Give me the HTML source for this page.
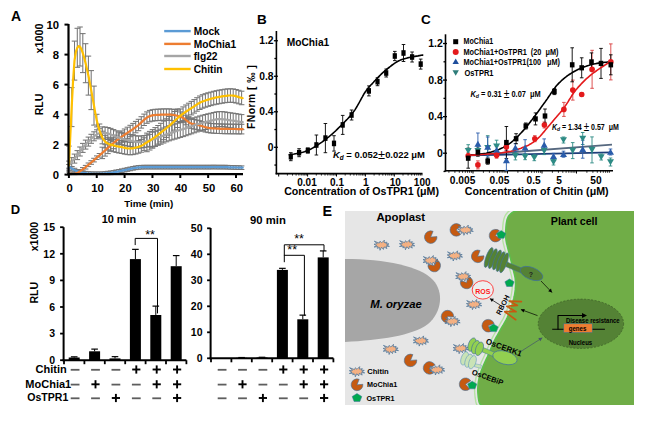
<!DOCTYPE html>
<html><head><meta charset="utf-8"><style>
html,body{margin:0;padding:0;background:#fff;width:668px;height:421px;overflow:hidden}
svg{display:block}
text{font-family:"Liberation Sans",sans-serif}
</style></head><body>
<svg width="668" height="421" viewBox="0 0 668 421" font-family="Liberation Sans, sans-serif">
<rect width="668" height="421" fill="#fff"/>
<text x="11" y="21" font-size="14" font-weight="bold" text-anchor="start" fill="#000" >A</text>
<line x1="68.9" y1="164.5" x2="68.9" y2="168.2" stroke="#767676" stroke-width="1.05" />
<line x1="66.1" y1="164.5" x2="71.7" y2="164.5" stroke="#767676" stroke-width="1.05" />
<line x1="66.1" y1="168.2" x2="71.7" y2="168.2" stroke="#767676" stroke-width="1.05" />
<line x1="71.7" y1="166.6" x2="71.7" y2="170.2" stroke="#767676" stroke-width="1.05" />
<line x1="68.9" y1="166.6" x2="74.5" y2="166.6" stroke="#767676" stroke-width="1.05" />
<line x1="68.9" y1="170.2" x2="74.5" y2="170.2" stroke="#767676" stroke-width="1.05" />
<line x1="74.5" y1="168.3" x2="74.5" y2="171.9" stroke="#767676" stroke-width="1.05" />
<line x1="71.7" y1="168.3" x2="77.3" y2="168.3" stroke="#767676" stroke-width="1.05" />
<line x1="71.7" y1="171.9" x2="77.3" y2="171.9" stroke="#767676" stroke-width="1.05" />
<line x1="77.3" y1="169.5" x2="77.3" y2="173.1" stroke="#767676" stroke-width="1.05" />
<line x1="74.5" y1="169.5" x2="80.1" y2="169.5" stroke="#767676" stroke-width="1.05" />
<line x1="74.5" y1="173.1" x2="80.1" y2="173.1" stroke="#767676" stroke-width="1.05" />
<line x1="80.0" y1="170.4" x2="80.0" y2="174.0" stroke="#767676" stroke-width="1.05" />
<line x1="77.2" y1="170.4" x2="82.8" y2="170.4" stroke="#767676" stroke-width="1.05" />
<line x1="77.2" y1="174.0" x2="82.8" y2="174.0" stroke="#767676" stroke-width="1.05" />
<line x1="82.8" y1="171.0" x2="82.8" y2="174.6" stroke="#767676" stroke-width="1.05" />
<line x1="80.0" y1="171.0" x2="85.6" y2="171.0" stroke="#767676" stroke-width="1.05" />
<line x1="80.0" y1="174.6" x2="85.6" y2="174.6" stroke="#767676" stroke-width="1.05" />
<line x1="85.6" y1="171.4" x2="85.6" y2="174.6" stroke="#767676" stroke-width="1.05" />
<line x1="82.8" y1="171.4" x2="88.4" y2="171.4" stroke="#767676" stroke-width="1.05" />
<line x1="82.8" y1="174.6" x2="88.4" y2="174.6" stroke="#767676" stroke-width="1.05" />
<line x1="88.4" y1="171.7" x2="88.4" y2="174.6" stroke="#767676" stroke-width="1.05" />
<line x1="85.6" y1="171.7" x2="91.2" y2="171.7" stroke="#767676" stroke-width="1.05" />
<line x1="85.6" y1="174.6" x2="91.2" y2="174.6" stroke="#767676" stroke-width="1.05" />
<line x1="91.2" y1="171.9" x2="91.2" y2="174.6" stroke="#767676" stroke-width="1.05" />
<line x1="88.4" y1="171.9" x2="94.0" y2="171.9" stroke="#767676" stroke-width="1.05" />
<line x1="88.4" y1="174.6" x2="94.0" y2="174.6" stroke="#767676" stroke-width="1.05" />
<line x1="94.0" y1="172.0" x2="94.0" y2="174.6" stroke="#767676" stroke-width="1.05" />
<line x1="91.2" y1="172.0" x2="96.8" y2="172.0" stroke="#767676" stroke-width="1.05" />
<line x1="91.2" y1="174.6" x2="96.8" y2="174.6" stroke="#767676" stroke-width="1.05" />
<line x1="96.8" y1="172.0" x2="96.8" y2="174.6" stroke="#767676" stroke-width="1.05" />
<line x1="94.0" y1="172.0" x2="99.5" y2="172.0" stroke="#767676" stroke-width="1.05" />
<line x1="94.0" y1="174.6" x2="99.5" y2="174.6" stroke="#767676" stroke-width="1.05" />
<line x1="99.5" y1="172.0" x2="99.5" y2="174.6" stroke="#767676" stroke-width="1.05" />
<line x1="96.7" y1="172.0" x2="102.3" y2="172.0" stroke="#767676" stroke-width="1.05" />
<line x1="96.7" y1="174.6" x2="102.3" y2="174.6" stroke="#767676" stroke-width="1.05" />
<line x1="102.3" y1="171.9" x2="102.3" y2="174.6" stroke="#767676" stroke-width="1.05" />
<line x1="99.5" y1="171.9" x2="105.1" y2="171.9" stroke="#767676" stroke-width="1.05" />
<line x1="99.5" y1="174.6" x2="105.1" y2="174.6" stroke="#767676" stroke-width="1.05" />
<line x1="105.1" y1="171.6" x2="105.1" y2="174.6" stroke="#767676" stroke-width="1.05" />
<line x1="102.3" y1="171.6" x2="107.9" y2="171.6" stroke="#767676" stroke-width="1.05" />
<line x1="102.3" y1="174.6" x2="107.9" y2="174.6" stroke="#767676" stroke-width="1.05" />
<line x1="107.9" y1="171.3" x2="107.9" y2="174.6" stroke="#767676" stroke-width="1.05" />
<line x1="105.1" y1="171.3" x2="110.7" y2="171.3" stroke="#767676" stroke-width="1.05" />
<line x1="105.1" y1="174.6" x2="110.7" y2="174.6" stroke="#767676" stroke-width="1.05" />
<line x1="110.7" y1="171.0" x2="110.7" y2="174.6" stroke="#767676" stroke-width="1.05" />
<line x1="107.9" y1="171.0" x2="113.5" y2="171.0" stroke="#767676" stroke-width="1.05" />
<line x1="107.9" y1="174.6" x2="113.5" y2="174.6" stroke="#767676" stroke-width="1.05" />
<line x1="113.5" y1="170.6" x2="113.5" y2="174.2" stroke="#767676" stroke-width="1.05" />
<line x1="110.7" y1="170.6" x2="116.3" y2="170.6" stroke="#767676" stroke-width="1.05" />
<line x1="110.7" y1="174.2" x2="116.3" y2="174.2" stroke="#767676" stroke-width="1.05" />
<line x1="116.2" y1="170.0" x2="116.2" y2="173.6" stroke="#767676" stroke-width="1.05" />
<line x1="113.4" y1="170.0" x2="119.0" y2="170.0" stroke="#767676" stroke-width="1.05" />
<line x1="113.4" y1="173.6" x2="119.0" y2="173.6" stroke="#767676" stroke-width="1.05" />
<line x1="119.0" y1="169.5" x2="119.0" y2="173.1" stroke="#767676" stroke-width="1.05" />
<line x1="116.2" y1="169.5" x2="121.8" y2="169.5" stroke="#767676" stroke-width="1.05" />
<line x1="116.2" y1="173.1" x2="121.8" y2="173.1" stroke="#767676" stroke-width="1.05" />
<line x1="121.8" y1="168.9" x2="121.8" y2="172.5" stroke="#767676" stroke-width="1.05" />
<line x1="119.0" y1="168.9" x2="124.6" y2="168.9" stroke="#767676" stroke-width="1.05" />
<line x1="119.0" y1="172.5" x2="124.6" y2="172.5" stroke="#767676" stroke-width="1.05" />
<line x1="124.6" y1="168.3" x2="124.6" y2="171.9" stroke="#767676" stroke-width="1.05" />
<line x1="121.8" y1="168.3" x2="127.4" y2="168.3" stroke="#767676" stroke-width="1.05" />
<line x1="121.8" y1="171.9" x2="127.4" y2="171.9" stroke="#767676" stroke-width="1.05" />
<line x1="127.4" y1="167.7" x2="127.4" y2="171.3" stroke="#767676" stroke-width="1.05" />
<line x1="124.6" y1="167.7" x2="130.2" y2="167.7" stroke="#767676" stroke-width="1.05" />
<line x1="124.6" y1="171.3" x2="130.2" y2="171.3" stroke="#767676" stroke-width="1.05" />
<line x1="130.2" y1="167.1" x2="130.2" y2="170.7" stroke="#767676" stroke-width="1.05" />
<line x1="127.4" y1="167.1" x2="133.0" y2="167.1" stroke="#767676" stroke-width="1.05" />
<line x1="127.4" y1="170.7" x2="133.0" y2="170.7" stroke="#767676" stroke-width="1.05" />
<line x1="133.0" y1="166.5" x2="133.0" y2="170.1" stroke="#767676" stroke-width="1.05" />
<line x1="130.2" y1="166.5" x2="135.8" y2="166.5" stroke="#767676" stroke-width="1.05" />
<line x1="130.2" y1="170.1" x2="135.8" y2="170.1" stroke="#767676" stroke-width="1.05" />
<line x1="135.7" y1="166.0" x2="135.7" y2="169.6" stroke="#767676" stroke-width="1.05" />
<line x1="132.9" y1="166.0" x2="138.5" y2="166.0" stroke="#767676" stroke-width="1.05" />
<line x1="132.9" y1="169.6" x2="138.5" y2="169.6" stroke="#767676" stroke-width="1.05" />
<line x1="138.5" y1="165.6" x2="138.5" y2="169.2" stroke="#767676" stroke-width="1.05" />
<line x1="135.7" y1="165.6" x2="141.3" y2="165.6" stroke="#767676" stroke-width="1.05" />
<line x1="135.7" y1="169.2" x2="141.3" y2="169.2" stroke="#767676" stroke-width="1.05" />
<line x1="141.3" y1="165.4" x2="141.3" y2="169.0" stroke="#767676" stroke-width="1.05" />
<line x1="138.5" y1="165.4" x2="144.1" y2="165.4" stroke="#767676" stroke-width="1.05" />
<line x1="138.5" y1="169.0" x2="144.1" y2="169.0" stroke="#767676" stroke-width="1.05" />
<line x1="144.1" y1="165.3" x2="144.1" y2="168.9" stroke="#767676" stroke-width="1.05" />
<line x1="141.3" y1="165.3" x2="146.9" y2="165.3" stroke="#767676" stroke-width="1.05" />
<line x1="141.3" y1="168.9" x2="146.9" y2="168.9" stroke="#767676" stroke-width="1.05" />
<line x1="146.9" y1="165.3" x2="146.9" y2="168.9" stroke="#767676" stroke-width="1.05" />
<line x1="144.1" y1="165.3" x2="149.7" y2="165.3" stroke="#767676" stroke-width="1.05" />
<line x1="144.1" y1="168.9" x2="149.7" y2="168.9" stroke="#767676" stroke-width="1.05" />
<line x1="149.7" y1="165.3" x2="149.7" y2="168.9" stroke="#767676" stroke-width="1.05" />
<line x1="146.9" y1="165.3" x2="152.5" y2="165.3" stroke="#767676" stroke-width="1.05" />
<line x1="146.9" y1="168.9" x2="152.5" y2="168.9" stroke="#767676" stroke-width="1.05" />
<line x1="152.5" y1="165.3" x2="152.5" y2="168.9" stroke="#767676" stroke-width="1.05" />
<line x1="149.7" y1="165.3" x2="155.3" y2="165.3" stroke="#767676" stroke-width="1.05" />
<line x1="149.7" y1="168.9" x2="155.3" y2="168.9" stroke="#767676" stroke-width="1.05" />
<line x1="155.2" y1="165.3" x2="155.2" y2="168.9" stroke="#767676" stroke-width="1.05" />
<line x1="152.4" y1="165.3" x2="158.0" y2="165.3" stroke="#767676" stroke-width="1.05" />
<line x1="152.4" y1="168.9" x2="158.0" y2="168.9" stroke="#767676" stroke-width="1.05" />
<line x1="158.0" y1="165.3" x2="158.0" y2="168.9" stroke="#767676" stroke-width="1.05" />
<line x1="155.2" y1="165.3" x2="160.8" y2="165.3" stroke="#767676" stroke-width="1.05" />
<line x1="155.2" y1="168.9" x2="160.8" y2="168.9" stroke="#767676" stroke-width="1.05" />
<line x1="160.8" y1="165.3" x2="160.8" y2="168.9" stroke="#767676" stroke-width="1.05" />
<line x1="158.0" y1="165.3" x2="163.6" y2="165.3" stroke="#767676" stroke-width="1.05" />
<line x1="158.0" y1="168.9" x2="163.6" y2="168.9" stroke="#767676" stroke-width="1.05" />
<line x1="163.6" y1="165.3" x2="163.6" y2="168.9" stroke="#767676" stroke-width="1.05" />
<line x1="160.8" y1="165.3" x2="166.4" y2="165.3" stroke="#767676" stroke-width="1.05" />
<line x1="160.8" y1="168.9" x2="166.4" y2="168.9" stroke="#767676" stroke-width="1.05" />
<line x1="166.4" y1="165.3" x2="166.4" y2="168.9" stroke="#767676" stroke-width="1.05" />
<line x1="163.6" y1="165.3" x2="169.2" y2="165.3" stroke="#767676" stroke-width="1.05" />
<line x1="163.6" y1="168.9" x2="169.2" y2="168.9" stroke="#767676" stroke-width="1.05" />
<line x1="169.2" y1="165.3" x2="169.2" y2="168.9" stroke="#767676" stroke-width="1.05" />
<line x1="166.4" y1="165.3" x2="172.0" y2="165.3" stroke="#767676" stroke-width="1.05" />
<line x1="166.4" y1="168.9" x2="172.0" y2="168.9" stroke="#767676" stroke-width="1.05" />
<line x1="171.9" y1="165.3" x2="171.9" y2="168.9" stroke="#767676" stroke-width="1.05" />
<line x1="169.1" y1="165.3" x2="174.7" y2="165.3" stroke="#767676" stroke-width="1.05" />
<line x1="169.1" y1="168.9" x2="174.7" y2="168.9" stroke="#767676" stroke-width="1.05" />
<line x1="174.7" y1="165.3" x2="174.7" y2="168.9" stroke="#767676" stroke-width="1.05" />
<line x1="171.9" y1="165.3" x2="177.5" y2="165.3" stroke="#767676" stroke-width="1.05" />
<line x1="171.9" y1="168.9" x2="177.5" y2="168.9" stroke="#767676" stroke-width="1.05" />
<line x1="177.5" y1="165.3" x2="177.5" y2="168.9" stroke="#767676" stroke-width="1.05" />
<line x1="174.7" y1="165.3" x2="180.3" y2="165.3" stroke="#767676" stroke-width="1.05" />
<line x1="174.7" y1="168.9" x2="180.3" y2="168.9" stroke="#767676" stroke-width="1.05" />
<line x1="180.3" y1="165.3" x2="180.3" y2="168.9" stroke="#767676" stroke-width="1.05" />
<line x1="177.5" y1="165.3" x2="183.1" y2="165.3" stroke="#767676" stroke-width="1.05" />
<line x1="177.5" y1="168.9" x2="183.1" y2="168.9" stroke="#767676" stroke-width="1.05" />
<line x1="183.1" y1="165.3" x2="183.1" y2="168.9" stroke="#767676" stroke-width="1.05" />
<line x1="180.3" y1="165.3" x2="185.9" y2="165.3" stroke="#767676" stroke-width="1.05" />
<line x1="180.3" y1="168.9" x2="185.9" y2="168.9" stroke="#767676" stroke-width="1.05" />
<line x1="185.9" y1="165.3" x2="185.9" y2="168.9" stroke="#767676" stroke-width="1.05" />
<line x1="183.1" y1="165.3" x2="188.7" y2="165.3" stroke="#767676" stroke-width="1.05" />
<line x1="183.1" y1="168.9" x2="188.7" y2="168.9" stroke="#767676" stroke-width="1.05" />
<line x1="188.7" y1="165.3" x2="188.7" y2="168.9" stroke="#767676" stroke-width="1.05" />
<line x1="185.9" y1="165.3" x2="191.5" y2="165.3" stroke="#767676" stroke-width="1.05" />
<line x1="185.9" y1="168.9" x2="191.5" y2="168.9" stroke="#767676" stroke-width="1.05" />
<line x1="191.4" y1="165.3" x2="191.4" y2="168.9" stroke="#767676" stroke-width="1.05" />
<line x1="188.6" y1="165.3" x2="194.2" y2="165.3" stroke="#767676" stroke-width="1.05" />
<line x1="188.6" y1="168.9" x2="194.2" y2="168.9" stroke="#767676" stroke-width="1.05" />
<line x1="194.2" y1="165.3" x2="194.2" y2="168.9" stroke="#767676" stroke-width="1.05" />
<line x1="191.4" y1="165.3" x2="197.0" y2="165.3" stroke="#767676" stroke-width="1.05" />
<line x1="191.4" y1="168.9" x2="197.0" y2="168.9" stroke="#767676" stroke-width="1.05" />
<line x1="197.0" y1="165.3" x2="197.0" y2="168.9" stroke="#767676" stroke-width="1.05" />
<line x1="194.2" y1="165.3" x2="199.8" y2="165.3" stroke="#767676" stroke-width="1.05" />
<line x1="194.2" y1="168.9" x2="199.8" y2="168.9" stroke="#767676" stroke-width="1.05" />
<line x1="199.8" y1="165.3" x2="199.8" y2="168.9" stroke="#767676" stroke-width="1.05" />
<line x1="197.0" y1="165.3" x2="202.6" y2="165.3" stroke="#767676" stroke-width="1.05" />
<line x1="197.0" y1="168.9" x2="202.6" y2="168.9" stroke="#767676" stroke-width="1.05" />
<line x1="202.6" y1="165.3" x2="202.6" y2="168.9" stroke="#767676" stroke-width="1.05" />
<line x1="199.8" y1="165.3" x2="205.4" y2="165.3" stroke="#767676" stroke-width="1.05" />
<line x1="199.8" y1="168.9" x2="205.4" y2="168.9" stroke="#767676" stroke-width="1.05" />
<line x1="205.4" y1="165.3" x2="205.4" y2="168.9" stroke="#767676" stroke-width="1.05" />
<line x1="202.6" y1="165.3" x2="208.2" y2="165.3" stroke="#767676" stroke-width="1.05" />
<line x1="202.6" y1="168.9" x2="208.2" y2="168.9" stroke="#767676" stroke-width="1.05" />
<line x1="208.2" y1="165.3" x2="208.2" y2="168.9" stroke="#767676" stroke-width="1.05" />
<line x1="205.3" y1="165.3" x2="211.0" y2="165.3" stroke="#767676" stroke-width="1.05" />
<line x1="205.3" y1="168.9" x2="211.0" y2="168.9" stroke="#767676" stroke-width="1.05" />
<line x1="210.9" y1="165.3" x2="210.9" y2="168.9" stroke="#767676" stroke-width="1.05" />
<line x1="208.1" y1="165.3" x2="213.7" y2="165.3" stroke="#767676" stroke-width="1.05" />
<line x1="208.1" y1="168.9" x2="213.7" y2="168.9" stroke="#767676" stroke-width="1.05" />
<line x1="213.7" y1="165.2" x2="213.7" y2="168.8" stroke="#767676" stroke-width="1.05" />
<line x1="210.9" y1="165.2" x2="216.5" y2="165.2" stroke="#767676" stroke-width="1.05" />
<line x1="210.9" y1="168.8" x2="216.5" y2="168.8" stroke="#767676" stroke-width="1.05" />
<line x1="216.5" y1="165.3" x2="216.5" y2="168.9" stroke="#767676" stroke-width="1.05" />
<line x1="213.7" y1="165.3" x2="219.3" y2="165.3" stroke="#767676" stroke-width="1.05" />
<line x1="213.7" y1="168.9" x2="219.3" y2="168.9" stroke="#767676" stroke-width="1.05" />
<line x1="219.3" y1="165.3" x2="219.3" y2="168.9" stroke="#767676" stroke-width="1.05" />
<line x1="216.5" y1="165.3" x2="222.1" y2="165.3" stroke="#767676" stroke-width="1.05" />
<line x1="216.5" y1="168.9" x2="222.1" y2="168.9" stroke="#767676" stroke-width="1.05" />
<line x1="222.1" y1="165.3" x2="222.1" y2="168.9" stroke="#767676" stroke-width="1.05" />
<line x1="219.3" y1="165.3" x2="224.9" y2="165.3" stroke="#767676" stroke-width="1.05" />
<line x1="219.3" y1="168.9" x2="224.9" y2="168.9" stroke="#767676" stroke-width="1.05" />
<line x1="224.9" y1="165.3" x2="224.9" y2="168.9" stroke="#767676" stroke-width="1.05" />
<line x1="222.1" y1="165.3" x2="227.7" y2="165.3" stroke="#767676" stroke-width="1.05" />
<line x1="222.1" y1="168.9" x2="227.7" y2="168.9" stroke="#767676" stroke-width="1.05" />
<line x1="227.6" y1="165.4" x2="227.6" y2="169.0" stroke="#767676" stroke-width="1.05" />
<line x1="224.8" y1="165.4" x2="230.4" y2="165.4" stroke="#767676" stroke-width="1.05" />
<line x1="224.8" y1="169.0" x2="230.4" y2="169.0" stroke="#767676" stroke-width="1.05" />
<line x1="230.4" y1="165.5" x2="230.4" y2="169.1" stroke="#767676" stroke-width="1.05" />
<line x1="227.6" y1="165.5" x2="233.2" y2="165.5" stroke="#767676" stroke-width="1.05" />
<line x1="227.6" y1="169.1" x2="233.2" y2="169.1" stroke="#767676" stroke-width="1.05" />
<line x1="233.2" y1="165.6" x2="233.2" y2="169.2" stroke="#767676" stroke-width="1.05" />
<line x1="230.4" y1="165.6" x2="236.0" y2="165.6" stroke="#767676" stroke-width="1.05" />
<line x1="230.4" y1="169.2" x2="236.0" y2="169.2" stroke="#767676" stroke-width="1.05" />
<line x1="236.0" y1="165.7" x2="236.0" y2="169.3" stroke="#767676" stroke-width="1.05" />
<line x1="233.2" y1="165.7" x2="238.8" y2="165.7" stroke="#767676" stroke-width="1.05" />
<line x1="233.2" y1="169.3" x2="238.8" y2="169.3" stroke="#767676" stroke-width="1.05" />
<line x1="238.8" y1="165.8" x2="238.8" y2="169.4" stroke="#767676" stroke-width="1.05" />
<line x1="236.0" y1="165.8" x2="241.6" y2="165.8" stroke="#767676" stroke-width="1.05" />
<line x1="236.0" y1="169.4" x2="241.6" y2="169.4" stroke="#767676" stroke-width="1.05" />
<line x1="241.6" y1="165.9" x2="241.6" y2="169.5" stroke="#767676" stroke-width="1.05" />
<line x1="238.8" y1="165.9" x2="244.4" y2="165.9" stroke="#767676" stroke-width="1.05" />
<line x1="238.8" y1="169.5" x2="244.4" y2="169.5" stroke="#767676" stroke-width="1.05" />
<line x1="68.9" y1="172.0" x2="68.9" y2="174.6" stroke="#767676" stroke-width="1.05" />
<line x1="66.1" y1="172.0" x2="71.7" y2="172.0" stroke="#767676" stroke-width="1.05" />
<line x1="66.1" y1="174.6" x2="71.7" y2="174.6" stroke="#767676" stroke-width="1.05" />
<line x1="71.7" y1="172.1" x2="71.7" y2="174.6" stroke="#767676" stroke-width="1.05" />
<line x1="68.9" y1="172.1" x2="74.5" y2="172.1" stroke="#767676" stroke-width="1.05" />
<line x1="68.9" y1="174.6" x2="74.5" y2="174.6" stroke="#767676" stroke-width="1.05" />
<line x1="74.5" y1="172.1" x2="74.5" y2="174.6" stroke="#767676" stroke-width="1.05" />
<line x1="71.7" y1="172.1" x2="77.3" y2="172.1" stroke="#767676" stroke-width="1.05" />
<line x1="71.7" y1="174.6" x2="77.3" y2="174.6" stroke="#767676" stroke-width="1.05" />
<line x1="77.3" y1="171.3" x2="77.3" y2="174.6" stroke="#767676" stroke-width="1.05" />
<line x1="74.5" y1="171.3" x2="80.1" y2="171.3" stroke="#767676" stroke-width="1.05" />
<line x1="74.5" y1="174.6" x2="80.1" y2="174.6" stroke="#767676" stroke-width="1.05" />
<line x1="80.0" y1="169.6" x2="80.0" y2="173.2" stroke="#767676" stroke-width="1.05" />
<line x1="77.2" y1="169.6" x2="82.8" y2="169.6" stroke="#767676" stroke-width="1.05" />
<line x1="77.2" y1="173.2" x2="82.8" y2="173.2" stroke="#767676" stroke-width="1.05" />
<line x1="82.8" y1="167.6" x2="82.8" y2="171.2" stroke="#767676" stroke-width="1.05" />
<line x1="80.0" y1="167.6" x2="85.6" y2="167.6" stroke="#767676" stroke-width="1.05" />
<line x1="80.0" y1="171.2" x2="85.6" y2="171.2" stroke="#767676" stroke-width="1.05" />
<line x1="85.6" y1="165.4" x2="85.6" y2="169.0" stroke="#767676" stroke-width="1.05" />
<line x1="82.8" y1="165.4" x2="88.4" y2="165.4" stroke="#767676" stroke-width="1.05" />
<line x1="82.8" y1="169.0" x2="88.4" y2="169.0" stroke="#767676" stroke-width="1.05" />
<line x1="88.4" y1="163.0" x2="88.4" y2="166.6" stroke="#767676" stroke-width="1.05" />
<line x1="85.6" y1="163.0" x2="91.2" y2="163.0" stroke="#767676" stroke-width="1.05" />
<line x1="85.6" y1="166.6" x2="91.2" y2="166.6" stroke="#767676" stroke-width="1.05" />
<line x1="91.2" y1="160.7" x2="91.2" y2="164.3" stroke="#767676" stroke-width="1.05" />
<line x1="88.4" y1="160.7" x2="94.0" y2="160.7" stroke="#767676" stroke-width="1.05" />
<line x1="88.4" y1="164.3" x2="94.0" y2="164.3" stroke="#767676" stroke-width="1.05" />
<line x1="94.0" y1="158.3" x2="94.0" y2="161.9" stroke="#767676" stroke-width="1.05" />
<line x1="91.2" y1="158.3" x2="96.8" y2="158.3" stroke="#767676" stroke-width="1.05" />
<line x1="91.2" y1="161.9" x2="96.8" y2="161.9" stroke="#767676" stroke-width="1.05" />
<line x1="96.8" y1="155.9" x2="96.8" y2="159.5" stroke="#767676" stroke-width="1.05" />
<line x1="94.0" y1="155.9" x2="99.5" y2="155.9" stroke="#767676" stroke-width="1.05" />
<line x1="94.0" y1="159.5" x2="99.5" y2="159.5" stroke="#767676" stroke-width="1.05" />
<line x1="99.5" y1="153.5" x2="99.5" y2="157.1" stroke="#767676" stroke-width="1.05" />
<line x1="96.7" y1="153.5" x2="102.3" y2="153.5" stroke="#767676" stroke-width="1.05" />
<line x1="96.7" y1="157.1" x2="102.3" y2="157.1" stroke="#767676" stroke-width="1.05" />
<line x1="102.3" y1="147.2" x2="102.3" y2="158.6" stroke="#767676" stroke-width="1.05" />
<line x1="99.5" y1="147.2" x2="105.1" y2="147.2" stroke="#767676" stroke-width="1.05" />
<line x1="99.5" y1="158.6" x2="105.1" y2="158.6" stroke="#767676" stroke-width="1.05" />
<line x1="105.1" y1="144.7" x2="105.1" y2="156.1" stroke="#767676" stroke-width="1.05" />
<line x1="102.3" y1="144.7" x2="107.9" y2="144.7" stroke="#767676" stroke-width="1.05" />
<line x1="102.3" y1="156.1" x2="107.9" y2="156.1" stroke="#767676" stroke-width="1.05" />
<line x1="107.9" y1="142.2" x2="107.9" y2="153.6" stroke="#767676" stroke-width="1.05" />
<line x1="105.1" y1="142.2" x2="110.7" y2="142.2" stroke="#767676" stroke-width="1.05" />
<line x1="105.1" y1="153.6" x2="110.7" y2="153.6" stroke="#767676" stroke-width="1.05" />
<line x1="110.7" y1="139.7" x2="110.7" y2="151.1" stroke="#767676" stroke-width="1.05" />
<line x1="107.9" y1="139.7" x2="113.5" y2="139.7" stroke="#767676" stroke-width="1.05" />
<line x1="107.9" y1="151.1" x2="113.5" y2="151.1" stroke="#767676" stroke-width="1.05" />
<line x1="113.5" y1="137.3" x2="113.5" y2="148.7" stroke="#767676" stroke-width="1.05" />
<line x1="110.7" y1="137.3" x2="116.3" y2="137.3" stroke="#767676" stroke-width="1.05" />
<line x1="110.7" y1="148.7" x2="116.3" y2="148.7" stroke="#767676" stroke-width="1.05" />
<line x1="116.2" y1="135.1" x2="116.2" y2="146.5" stroke="#767676" stroke-width="1.05" />
<line x1="113.4" y1="135.1" x2="119.0" y2="135.1" stroke="#767676" stroke-width="1.05" />
<line x1="113.4" y1="146.5" x2="119.0" y2="146.5" stroke="#767676" stroke-width="1.05" />
<line x1="119.0" y1="132.9" x2="119.0" y2="144.3" stroke="#767676" stroke-width="1.05" />
<line x1="116.2" y1="132.9" x2="121.8" y2="132.9" stroke="#767676" stroke-width="1.05" />
<line x1="116.2" y1="144.3" x2="121.8" y2="144.3" stroke="#767676" stroke-width="1.05" />
<line x1="121.8" y1="130.9" x2="121.8" y2="142.3" stroke="#767676" stroke-width="1.05" />
<line x1="119.0" y1="130.9" x2="124.6" y2="130.9" stroke="#767676" stroke-width="1.05" />
<line x1="119.0" y1="142.3" x2="124.6" y2="142.3" stroke="#767676" stroke-width="1.05" />
<line x1="124.6" y1="129.0" x2="124.6" y2="140.4" stroke="#767676" stroke-width="1.05" />
<line x1="121.8" y1="129.0" x2="127.4" y2="129.0" stroke="#767676" stroke-width="1.05" />
<line x1="121.8" y1="140.4" x2="127.4" y2="140.4" stroke="#767676" stroke-width="1.05" />
<line x1="127.4" y1="127.2" x2="127.4" y2="138.6" stroke="#767676" stroke-width="1.05" />
<line x1="124.6" y1="127.2" x2="130.2" y2="127.2" stroke="#767676" stroke-width="1.05" />
<line x1="124.6" y1="138.6" x2="130.2" y2="138.6" stroke="#767676" stroke-width="1.05" />
<line x1="130.2" y1="125.3" x2="130.2" y2="136.7" stroke="#767676" stroke-width="1.05" />
<line x1="127.4" y1="125.3" x2="133.0" y2="125.3" stroke="#767676" stroke-width="1.05" />
<line x1="127.4" y1="136.7" x2="133.0" y2="136.7" stroke="#767676" stroke-width="1.05" />
<line x1="133.0" y1="123.4" x2="133.0" y2="134.8" stroke="#767676" stroke-width="1.05" />
<line x1="130.2" y1="123.4" x2="135.8" y2="123.4" stroke="#767676" stroke-width="1.05" />
<line x1="130.2" y1="134.8" x2="135.8" y2="134.8" stroke="#767676" stroke-width="1.05" />
<line x1="135.7" y1="121.4" x2="135.7" y2="132.8" stroke="#767676" stroke-width="1.05" />
<line x1="132.9" y1="121.4" x2="138.5" y2="121.4" stroke="#767676" stroke-width="1.05" />
<line x1="132.9" y1="132.8" x2="138.5" y2="132.8" stroke="#767676" stroke-width="1.05" />
<line x1="138.5" y1="119.3" x2="138.5" y2="130.7" stroke="#767676" stroke-width="1.05" />
<line x1="135.7" y1="119.3" x2="141.3" y2="119.3" stroke="#767676" stroke-width="1.05" />
<line x1="135.7" y1="130.7" x2="141.3" y2="130.7" stroke="#767676" stroke-width="1.05" />
<line x1="141.3" y1="116.7" x2="141.3" y2="128.1" stroke="#767676" stroke-width="1.05" />
<line x1="138.5" y1="116.7" x2="144.1" y2="116.7" stroke="#767676" stroke-width="1.05" />
<line x1="138.5" y1="128.1" x2="144.1" y2="128.1" stroke="#767676" stroke-width="1.05" />
<line x1="144.1" y1="114.1" x2="144.1" y2="125.5" stroke="#767676" stroke-width="1.05" />
<line x1="141.3" y1="114.1" x2="146.9" y2="114.1" stroke="#767676" stroke-width="1.05" />
<line x1="141.3" y1="125.5" x2="146.9" y2="125.5" stroke="#767676" stroke-width="1.05" />
<line x1="146.9" y1="111.9" x2="146.9" y2="123.3" stroke="#767676" stroke-width="1.05" />
<line x1="144.1" y1="111.9" x2="149.7" y2="111.9" stroke="#767676" stroke-width="1.05" />
<line x1="144.1" y1="123.3" x2="149.7" y2="123.3" stroke="#767676" stroke-width="1.05" />
<line x1="149.7" y1="110.4" x2="149.7" y2="121.8" stroke="#767676" stroke-width="1.05" />
<line x1="146.9" y1="110.4" x2="152.5" y2="110.4" stroke="#767676" stroke-width="1.05" />
<line x1="146.9" y1="121.8" x2="152.5" y2="121.8" stroke="#767676" stroke-width="1.05" />
<line x1="152.5" y1="109.7" x2="152.5" y2="121.1" stroke="#767676" stroke-width="1.05" />
<line x1="149.7" y1="109.7" x2="155.3" y2="109.7" stroke="#767676" stroke-width="1.05" />
<line x1="149.7" y1="121.1" x2="155.3" y2="121.1" stroke="#767676" stroke-width="1.05" />
<line x1="155.2" y1="109.3" x2="155.2" y2="120.7" stroke="#767676" stroke-width="1.05" />
<line x1="152.4" y1="109.3" x2="158.0" y2="109.3" stroke="#767676" stroke-width="1.05" />
<line x1="152.4" y1="120.7" x2="158.0" y2="120.7" stroke="#767676" stroke-width="1.05" />
<line x1="158.0" y1="109.2" x2="158.0" y2="120.6" stroke="#767676" stroke-width="1.05" />
<line x1="155.2" y1="109.2" x2="160.8" y2="109.2" stroke="#767676" stroke-width="1.05" />
<line x1="155.2" y1="120.6" x2="160.8" y2="120.6" stroke="#767676" stroke-width="1.05" />
<line x1="160.8" y1="109.0" x2="160.8" y2="120.4" stroke="#767676" stroke-width="1.05" />
<line x1="158.0" y1="109.0" x2="163.6" y2="109.0" stroke="#767676" stroke-width="1.05" />
<line x1="158.0" y1="120.4" x2="163.6" y2="120.4" stroke="#767676" stroke-width="1.05" />
<line x1="163.6" y1="108.9" x2="163.6" y2="120.3" stroke="#767676" stroke-width="1.05" />
<line x1="160.8" y1="108.9" x2="166.4" y2="108.9" stroke="#767676" stroke-width="1.05" />
<line x1="160.8" y1="120.3" x2="166.4" y2="120.3" stroke="#767676" stroke-width="1.05" />
<line x1="166.4" y1="108.9" x2="166.4" y2="120.3" stroke="#767676" stroke-width="1.05" />
<line x1="163.6" y1="108.9" x2="169.2" y2="108.9" stroke="#767676" stroke-width="1.05" />
<line x1="163.6" y1="120.3" x2="169.2" y2="120.3" stroke="#767676" stroke-width="1.05" />
<line x1="169.2" y1="108.9" x2="169.2" y2="120.3" stroke="#767676" stroke-width="1.05" />
<line x1="166.4" y1="108.9" x2="172.0" y2="108.9" stroke="#767676" stroke-width="1.05" />
<line x1="166.4" y1="120.3" x2="172.0" y2="120.3" stroke="#767676" stroke-width="1.05" />
<line x1="171.9" y1="109.1" x2="171.9" y2="120.5" stroke="#767676" stroke-width="1.05" />
<line x1="169.1" y1="109.1" x2="174.7" y2="109.1" stroke="#767676" stroke-width="1.05" />
<line x1="169.1" y1="120.5" x2="174.7" y2="120.5" stroke="#767676" stroke-width="1.05" />
<line x1="174.7" y1="109.5" x2="174.7" y2="120.9" stroke="#767676" stroke-width="1.05" />
<line x1="171.9" y1="109.5" x2="177.5" y2="109.5" stroke="#767676" stroke-width="1.05" />
<line x1="171.9" y1="120.9" x2="177.5" y2="120.9" stroke="#767676" stroke-width="1.05" />
<line x1="177.5" y1="110.1" x2="177.5" y2="121.5" stroke="#767676" stroke-width="1.05" />
<line x1="174.7" y1="110.1" x2="180.3" y2="110.1" stroke="#767676" stroke-width="1.05" />
<line x1="174.7" y1="121.5" x2="180.3" y2="121.5" stroke="#767676" stroke-width="1.05" />
<line x1="180.3" y1="111.9" x2="180.3" y2="121.5" stroke="#767676" stroke-width="1.05" />
<line x1="177.5" y1="111.9" x2="183.1" y2="111.9" stroke="#767676" stroke-width="1.05" />
<line x1="177.5" y1="121.5" x2="183.1" y2="121.5" stroke="#767676" stroke-width="1.05" />
<line x1="183.1" y1="113.1" x2="183.1" y2="122.7" stroke="#767676" stroke-width="1.05" />
<line x1="180.3" y1="113.1" x2="185.9" y2="113.1" stroke="#767676" stroke-width="1.05" />
<line x1="180.3" y1="122.7" x2="185.9" y2="122.7" stroke="#767676" stroke-width="1.05" />
<line x1="185.9" y1="115.2" x2="185.9" y2="124.8" stroke="#767676" stroke-width="1.05" />
<line x1="183.1" y1="115.2" x2="188.7" y2="115.2" stroke="#767676" stroke-width="1.05" />
<line x1="183.1" y1="124.8" x2="188.7" y2="124.8" stroke="#767676" stroke-width="1.05" />
<line x1="188.7" y1="117.4" x2="188.7" y2="127.0" stroke="#767676" stroke-width="1.05" />
<line x1="185.9" y1="117.4" x2="191.5" y2="117.4" stroke="#767676" stroke-width="1.05" />
<line x1="185.9" y1="127.0" x2="191.5" y2="127.0" stroke="#767676" stroke-width="1.05" />
<line x1="191.4" y1="118.7" x2="191.4" y2="128.3" stroke="#767676" stroke-width="1.05" />
<line x1="188.6" y1="118.7" x2="194.2" y2="118.7" stroke="#767676" stroke-width="1.05" />
<line x1="188.6" y1="128.3" x2="194.2" y2="128.3" stroke="#767676" stroke-width="1.05" />
<line x1="194.2" y1="119.5" x2="194.2" y2="129.1" stroke="#767676" stroke-width="1.05" />
<line x1="191.4" y1="119.5" x2="197.0" y2="119.5" stroke="#767676" stroke-width="1.05" />
<line x1="191.4" y1="129.1" x2="197.0" y2="129.1" stroke="#767676" stroke-width="1.05" />
<line x1="197.0" y1="120.1" x2="197.0" y2="129.7" stroke="#767676" stroke-width="1.05" />
<line x1="194.2" y1="120.1" x2="199.8" y2="120.1" stroke="#767676" stroke-width="1.05" />
<line x1="194.2" y1="129.7" x2="199.8" y2="129.7" stroke="#767676" stroke-width="1.05" />
<line x1="199.8" y1="120.7" x2="199.8" y2="130.3" stroke="#767676" stroke-width="1.05" />
<line x1="197.0" y1="120.7" x2="202.6" y2="120.7" stroke="#767676" stroke-width="1.05" />
<line x1="197.0" y1="130.3" x2="202.6" y2="130.3" stroke="#767676" stroke-width="1.05" />
<line x1="202.6" y1="121.5" x2="202.6" y2="131.1" stroke="#767676" stroke-width="1.05" />
<line x1="199.8" y1="121.5" x2="205.4" y2="121.5" stroke="#767676" stroke-width="1.05" />
<line x1="199.8" y1="131.1" x2="205.4" y2="131.1" stroke="#767676" stroke-width="1.05" />
<line x1="205.4" y1="122.4" x2="205.4" y2="132.0" stroke="#767676" stroke-width="1.05" />
<line x1="202.6" y1="122.4" x2="208.2" y2="122.4" stroke="#767676" stroke-width="1.05" />
<line x1="202.6" y1="132.0" x2="208.2" y2="132.0" stroke="#767676" stroke-width="1.05" />
<line x1="208.2" y1="123.0" x2="208.2" y2="132.6" stroke="#767676" stroke-width="1.05" />
<line x1="205.3" y1="123.0" x2="211.0" y2="123.0" stroke="#767676" stroke-width="1.05" />
<line x1="205.3" y1="132.6" x2="211.0" y2="132.6" stroke="#767676" stroke-width="1.05" />
<line x1="210.9" y1="123.4" x2="210.9" y2="133.0" stroke="#767676" stroke-width="1.05" />
<line x1="208.1" y1="123.4" x2="213.7" y2="123.4" stroke="#767676" stroke-width="1.05" />
<line x1="208.1" y1="133.0" x2="213.7" y2="133.0" stroke="#767676" stroke-width="1.05" />
<line x1="213.7" y1="123.6" x2="213.7" y2="133.2" stroke="#767676" stroke-width="1.05" />
<line x1="210.9" y1="123.6" x2="216.5" y2="123.6" stroke="#767676" stroke-width="1.05" />
<line x1="210.9" y1="133.2" x2="216.5" y2="133.2" stroke="#767676" stroke-width="1.05" />
<line x1="216.5" y1="123.8" x2="216.5" y2="133.4" stroke="#767676" stroke-width="1.05" />
<line x1="213.7" y1="123.8" x2="219.3" y2="123.8" stroke="#767676" stroke-width="1.05" />
<line x1="213.7" y1="133.4" x2="219.3" y2="133.4" stroke="#767676" stroke-width="1.05" />
<line x1="219.3" y1="123.9" x2="219.3" y2="133.5" stroke="#767676" stroke-width="1.05" />
<line x1="216.5" y1="123.9" x2="222.1" y2="123.9" stroke="#767676" stroke-width="1.05" />
<line x1="216.5" y1="133.5" x2="222.1" y2="133.5" stroke="#767676" stroke-width="1.05" />
<line x1="222.1" y1="124.0" x2="222.1" y2="133.6" stroke="#767676" stroke-width="1.05" />
<line x1="219.3" y1="124.0" x2="224.9" y2="124.0" stroke="#767676" stroke-width="1.05" />
<line x1="219.3" y1="133.6" x2="224.9" y2="133.6" stroke="#767676" stroke-width="1.05" />
<line x1="224.9" y1="124.1" x2="224.9" y2="133.7" stroke="#767676" stroke-width="1.05" />
<line x1="222.1" y1="124.1" x2="227.7" y2="124.1" stroke="#767676" stroke-width="1.05" />
<line x1="222.1" y1="133.7" x2="227.7" y2="133.7" stroke="#767676" stroke-width="1.05" />
<line x1="227.6" y1="124.1" x2="227.6" y2="133.7" stroke="#767676" stroke-width="1.05" />
<line x1="224.8" y1="124.1" x2="230.4" y2="124.1" stroke="#767676" stroke-width="1.05" />
<line x1="224.8" y1="133.7" x2="230.4" y2="133.7" stroke="#767676" stroke-width="1.05" />
<line x1="230.4" y1="124.2" x2="230.4" y2="133.8" stroke="#767676" stroke-width="1.05" />
<line x1="227.6" y1="124.2" x2="233.2" y2="124.2" stroke="#767676" stroke-width="1.05" />
<line x1="227.6" y1="133.8" x2="233.2" y2="133.8" stroke="#767676" stroke-width="1.05" />
<line x1="233.2" y1="124.2" x2="233.2" y2="133.8" stroke="#767676" stroke-width="1.05" />
<line x1="230.4" y1="124.2" x2="236.0" y2="124.2" stroke="#767676" stroke-width="1.05" />
<line x1="230.4" y1="133.8" x2="236.0" y2="133.8" stroke="#767676" stroke-width="1.05" />
<line x1="236.0" y1="124.2" x2="236.0" y2="133.8" stroke="#767676" stroke-width="1.05" />
<line x1="233.2" y1="124.2" x2="238.8" y2="124.2" stroke="#767676" stroke-width="1.05" />
<line x1="233.2" y1="133.8" x2="238.8" y2="133.8" stroke="#767676" stroke-width="1.05" />
<line x1="238.8" y1="124.3" x2="238.8" y2="133.9" stroke="#767676" stroke-width="1.05" />
<line x1="236.0" y1="124.3" x2="241.6" y2="124.3" stroke="#767676" stroke-width="1.05" />
<line x1="236.0" y1="133.9" x2="241.6" y2="133.9" stroke="#767676" stroke-width="1.05" />
<line x1="241.6" y1="124.3" x2="241.6" y2="133.9" stroke="#767676" stroke-width="1.05" />
<line x1="238.8" y1="124.3" x2="244.4" y2="124.3" stroke="#767676" stroke-width="1.05" />
<line x1="238.8" y1="133.9" x2="244.4" y2="133.9" stroke="#767676" stroke-width="1.05" />
<line x1="68.9" y1="161.1" x2="68.9" y2="170.1" stroke="#767676" stroke-width="1.05" />
<line x1="66.1" y1="161.1" x2="71.7" y2="161.1" stroke="#767676" stroke-width="1.05" />
<line x1="66.1" y1="170.1" x2="71.7" y2="170.1" stroke="#767676" stroke-width="1.05" />
<line x1="71.7" y1="157.6" x2="71.7" y2="166.6" stroke="#767676" stroke-width="1.05" />
<line x1="68.9" y1="157.6" x2="74.5" y2="157.6" stroke="#767676" stroke-width="1.05" />
<line x1="68.9" y1="166.6" x2="74.5" y2="166.6" stroke="#767676" stroke-width="1.05" />
<line x1="74.5" y1="154.1" x2="74.5" y2="163.1" stroke="#767676" stroke-width="1.05" />
<line x1="71.7" y1="154.1" x2="77.3" y2="154.1" stroke="#767676" stroke-width="1.05" />
<line x1="71.7" y1="163.1" x2="77.3" y2="163.1" stroke="#767676" stroke-width="1.05" />
<line x1="77.3" y1="150.6" x2="77.3" y2="159.6" stroke="#767676" stroke-width="1.05" />
<line x1="74.5" y1="150.6" x2="80.1" y2="150.6" stroke="#767676" stroke-width="1.05" />
<line x1="74.5" y1="159.6" x2="80.1" y2="159.6" stroke="#767676" stroke-width="1.05" />
<line x1="80.0" y1="147.0" x2="80.0" y2="156.0" stroke="#767676" stroke-width="1.05" />
<line x1="77.2" y1="147.0" x2="82.8" y2="147.0" stroke="#767676" stroke-width="1.05" />
<line x1="77.2" y1="156.0" x2="82.8" y2="156.0" stroke="#767676" stroke-width="1.05" />
<line x1="82.8" y1="143.4" x2="82.8" y2="152.4" stroke="#767676" stroke-width="1.05" />
<line x1="80.0" y1="143.4" x2="85.6" y2="143.4" stroke="#767676" stroke-width="1.05" />
<line x1="80.0" y1="152.4" x2="85.6" y2="152.4" stroke="#767676" stroke-width="1.05" />
<line x1="85.6" y1="140.1" x2="85.6" y2="149.1" stroke="#767676" stroke-width="1.05" />
<line x1="82.8" y1="140.1" x2="88.4" y2="140.1" stroke="#767676" stroke-width="1.05" />
<line x1="82.8" y1="149.1" x2="88.4" y2="149.1" stroke="#767676" stroke-width="1.05" />
<line x1="88.4" y1="137.1" x2="88.4" y2="146.1" stroke="#767676" stroke-width="1.05" />
<line x1="85.6" y1="137.1" x2="91.2" y2="137.1" stroke="#767676" stroke-width="1.05" />
<line x1="85.6" y1="146.1" x2="91.2" y2="146.1" stroke="#767676" stroke-width="1.05" />
<line x1="91.2" y1="134.3" x2="91.2" y2="143.3" stroke="#767676" stroke-width="1.05" />
<line x1="88.4" y1="134.3" x2="94.0" y2="134.3" stroke="#767676" stroke-width="1.05" />
<line x1="88.4" y1="143.3" x2="94.0" y2="143.3" stroke="#767676" stroke-width="1.05" />
<line x1="94.0" y1="131.8" x2="94.0" y2="140.8" stroke="#767676" stroke-width="1.05" />
<line x1="91.2" y1="131.8" x2="96.8" y2="131.8" stroke="#767676" stroke-width="1.05" />
<line x1="91.2" y1="140.8" x2="96.8" y2="140.8" stroke="#767676" stroke-width="1.05" />
<line x1="96.8" y1="129.8" x2="96.8" y2="138.8" stroke="#767676" stroke-width="1.05" />
<line x1="94.0" y1="129.8" x2="99.5" y2="129.8" stroke="#767676" stroke-width="1.05" />
<line x1="94.0" y1="138.8" x2="99.5" y2="138.8" stroke="#767676" stroke-width="1.05" />
<line x1="99.5" y1="128.7" x2="99.5" y2="137.7" stroke="#767676" stroke-width="1.05" />
<line x1="96.7" y1="128.7" x2="102.3" y2="128.7" stroke="#767676" stroke-width="1.05" />
<line x1="96.7" y1="137.7" x2="102.3" y2="137.7" stroke="#767676" stroke-width="1.05" />
<line x1="102.3" y1="126.9" x2="102.3" y2="138.9" stroke="#767676" stroke-width="1.05" />
<line x1="99.5" y1="126.9" x2="105.1" y2="126.9" stroke="#767676" stroke-width="1.05" />
<line x1="99.5" y1="138.9" x2="105.1" y2="138.9" stroke="#767676" stroke-width="1.05" />
<line x1="105.1" y1="127.0" x2="105.1" y2="139.0" stroke="#767676" stroke-width="1.05" />
<line x1="102.3" y1="127.0" x2="107.9" y2="127.0" stroke="#767676" stroke-width="1.05" />
<line x1="102.3" y1="139.0" x2="107.9" y2="139.0" stroke="#767676" stroke-width="1.05" />
<line x1="107.9" y1="127.5" x2="107.9" y2="139.5" stroke="#767676" stroke-width="1.05" />
<line x1="105.1" y1="127.5" x2="110.7" y2="127.5" stroke="#767676" stroke-width="1.05" />
<line x1="105.1" y1="139.5" x2="110.7" y2="139.5" stroke="#767676" stroke-width="1.05" />
<line x1="110.7" y1="128.4" x2="110.7" y2="140.4" stroke="#767676" stroke-width="1.05" />
<line x1="107.9" y1="128.4" x2="113.5" y2="128.4" stroke="#767676" stroke-width="1.05" />
<line x1="107.9" y1="140.4" x2="113.5" y2="140.4" stroke="#767676" stroke-width="1.05" />
<line x1="113.5" y1="129.6" x2="113.5" y2="141.6" stroke="#767676" stroke-width="1.05" />
<line x1="110.7" y1="129.6" x2="116.3" y2="129.6" stroke="#767676" stroke-width="1.05" />
<line x1="110.7" y1="141.6" x2="116.3" y2="141.6" stroke="#767676" stroke-width="1.05" />
<line x1="116.2" y1="130.8" x2="116.2" y2="142.8" stroke="#767676" stroke-width="1.05" />
<line x1="113.4" y1="130.8" x2="119.0" y2="130.8" stroke="#767676" stroke-width="1.05" />
<line x1="113.4" y1="142.8" x2="119.0" y2="142.8" stroke="#767676" stroke-width="1.05" />
<line x1="119.0" y1="131.8" x2="119.0" y2="143.8" stroke="#767676" stroke-width="1.05" />
<line x1="116.2" y1="131.8" x2="121.8" y2="131.8" stroke="#767676" stroke-width="1.05" />
<line x1="116.2" y1="143.8" x2="121.8" y2="143.8" stroke="#767676" stroke-width="1.05" />
<line x1="121.8" y1="132.7" x2="121.8" y2="144.7" stroke="#767676" stroke-width="1.05" />
<line x1="119.0" y1="132.7" x2="124.6" y2="132.7" stroke="#767676" stroke-width="1.05" />
<line x1="119.0" y1="144.7" x2="124.6" y2="144.7" stroke="#767676" stroke-width="1.05" />
<line x1="124.6" y1="133.4" x2="124.6" y2="145.4" stroke="#767676" stroke-width="1.05" />
<line x1="121.8" y1="133.4" x2="127.4" y2="133.4" stroke="#767676" stroke-width="1.05" />
<line x1="121.8" y1="145.4" x2="127.4" y2="145.4" stroke="#767676" stroke-width="1.05" />
<line x1="127.4" y1="134.0" x2="127.4" y2="146.0" stroke="#767676" stroke-width="1.05" />
<line x1="124.6" y1="134.0" x2="130.2" y2="134.0" stroke="#767676" stroke-width="1.05" />
<line x1="124.6" y1="146.0" x2="130.2" y2="146.0" stroke="#767676" stroke-width="1.05" />
<line x1="130.2" y1="134.6" x2="130.2" y2="146.5" stroke="#767676" stroke-width="1.05" />
<line x1="127.4" y1="134.6" x2="133.0" y2="134.6" stroke="#767676" stroke-width="1.05" />
<line x1="127.4" y1="146.5" x2="133.0" y2="146.5" stroke="#767676" stroke-width="1.05" />
<line x1="133.0" y1="135.2" x2="133.0" y2="147.2" stroke="#767676" stroke-width="1.05" />
<line x1="130.2" y1="135.2" x2="135.8" y2="135.2" stroke="#767676" stroke-width="1.05" />
<line x1="130.2" y1="147.2" x2="135.8" y2="147.2" stroke="#767676" stroke-width="1.05" />
<line x1="135.7" y1="135.7" x2="135.7" y2="147.7" stroke="#767676" stroke-width="1.05" />
<line x1="132.9" y1="135.7" x2="138.5" y2="135.7" stroke="#767676" stroke-width="1.05" />
<line x1="132.9" y1="147.7" x2="138.5" y2="147.7" stroke="#767676" stroke-width="1.05" />
<line x1="138.5" y1="136.1" x2="138.5" y2="148.1" stroke="#767676" stroke-width="1.05" />
<line x1="135.7" y1="136.1" x2="141.3" y2="136.1" stroke="#767676" stroke-width="1.05" />
<line x1="135.7" y1="148.1" x2="141.3" y2="148.1" stroke="#767676" stroke-width="1.05" />
<line x1="141.3" y1="135.9" x2="141.3" y2="147.9" stroke="#767676" stroke-width="1.05" />
<line x1="138.5" y1="135.9" x2="144.1" y2="135.9" stroke="#767676" stroke-width="1.05" />
<line x1="138.5" y1="147.9" x2="144.1" y2="147.9" stroke="#767676" stroke-width="1.05" />
<line x1="144.1" y1="135.6" x2="144.1" y2="147.6" stroke="#767676" stroke-width="1.05" />
<line x1="141.3" y1="135.6" x2="146.9" y2="135.6" stroke="#767676" stroke-width="1.05" />
<line x1="141.3" y1="147.6" x2="146.9" y2="147.6" stroke="#767676" stroke-width="1.05" />
<line x1="146.9" y1="135.1" x2="146.9" y2="147.1" stroke="#767676" stroke-width="1.05" />
<line x1="144.1" y1="135.1" x2="149.7" y2="135.1" stroke="#767676" stroke-width="1.05" />
<line x1="144.1" y1="147.1" x2="149.7" y2="147.1" stroke="#767676" stroke-width="1.05" />
<line x1="149.7" y1="134.4" x2="149.7" y2="146.4" stroke="#767676" stroke-width="1.05" />
<line x1="146.9" y1="134.4" x2="152.5" y2="134.4" stroke="#767676" stroke-width="1.05" />
<line x1="146.9" y1="146.4" x2="152.5" y2="146.4" stroke="#767676" stroke-width="1.05" />
<line x1="152.5" y1="132.2" x2="152.5" y2="147.2" stroke="#767676" stroke-width="1.05" />
<line x1="149.7" y1="132.2" x2="155.3" y2="132.2" stroke="#767676" stroke-width="1.05" />
<line x1="149.7" y1="147.2" x2="155.3" y2="147.2" stroke="#767676" stroke-width="1.05" />
<line x1="155.2" y1="131.3" x2="155.2" y2="146.3" stroke="#767676" stroke-width="1.05" />
<line x1="152.4" y1="131.3" x2="158.0" y2="131.3" stroke="#767676" stroke-width="1.05" />
<line x1="152.4" y1="146.3" x2="158.0" y2="146.3" stroke="#767676" stroke-width="1.05" />
<line x1="158.0" y1="130.3" x2="158.0" y2="145.3" stroke="#767676" stroke-width="1.05" />
<line x1="155.2" y1="130.3" x2="160.8" y2="130.3" stroke="#767676" stroke-width="1.05" />
<line x1="155.2" y1="145.3" x2="160.8" y2="145.3" stroke="#767676" stroke-width="1.05" />
<line x1="160.8" y1="129.2" x2="160.8" y2="144.2" stroke="#767676" stroke-width="1.05" />
<line x1="158.0" y1="129.2" x2="163.6" y2="129.2" stroke="#767676" stroke-width="1.05" />
<line x1="158.0" y1="144.2" x2="163.6" y2="144.2" stroke="#767676" stroke-width="1.05" />
<line x1="163.6" y1="128.0" x2="163.6" y2="143.0" stroke="#767676" stroke-width="1.05" />
<line x1="160.8" y1="128.0" x2="166.4" y2="128.0" stroke="#767676" stroke-width="1.05" />
<line x1="160.8" y1="143.0" x2="166.4" y2="143.0" stroke="#767676" stroke-width="1.05" />
<line x1="166.4" y1="126.8" x2="166.4" y2="141.8" stroke="#767676" stroke-width="1.05" />
<line x1="163.6" y1="126.8" x2="169.2" y2="126.8" stroke="#767676" stroke-width="1.05" />
<line x1="163.6" y1="141.8" x2="169.2" y2="141.8" stroke="#767676" stroke-width="1.05" />
<line x1="169.2" y1="125.8" x2="169.2" y2="140.8" stroke="#767676" stroke-width="1.05" />
<line x1="166.4" y1="125.8" x2="172.0" y2="125.8" stroke="#767676" stroke-width="1.05" />
<line x1="166.4" y1="140.8" x2="172.0" y2="140.8" stroke="#767676" stroke-width="1.05" />
<line x1="171.9" y1="124.9" x2="171.9" y2="139.9" stroke="#767676" stroke-width="1.05" />
<line x1="169.1" y1="124.9" x2="174.7" y2="124.9" stroke="#767676" stroke-width="1.05" />
<line x1="169.1" y1="139.9" x2="174.7" y2="139.9" stroke="#767676" stroke-width="1.05" />
<line x1="174.7" y1="124.1" x2="174.7" y2="139.1" stroke="#767676" stroke-width="1.05" />
<line x1="171.9" y1="124.1" x2="177.5" y2="124.1" stroke="#767676" stroke-width="1.05" />
<line x1="171.9" y1="139.1" x2="177.5" y2="139.1" stroke="#767676" stroke-width="1.05" />
<line x1="177.5" y1="123.2" x2="177.5" y2="138.2" stroke="#767676" stroke-width="1.05" />
<line x1="174.7" y1="123.2" x2="180.3" y2="123.2" stroke="#767676" stroke-width="1.05" />
<line x1="174.7" y1="138.2" x2="180.3" y2="138.2" stroke="#767676" stroke-width="1.05" />
<line x1="180.3" y1="122.4" x2="180.3" y2="137.4" stroke="#767676" stroke-width="1.05" />
<line x1="177.5" y1="122.4" x2="183.1" y2="122.4" stroke="#767676" stroke-width="1.05" />
<line x1="177.5" y1="137.4" x2="183.1" y2="137.4" stroke="#767676" stroke-width="1.05" />
<line x1="183.1" y1="121.6" x2="183.1" y2="136.6" stroke="#767676" stroke-width="1.05" />
<line x1="180.3" y1="121.6" x2="185.9" y2="121.6" stroke="#767676" stroke-width="1.05" />
<line x1="180.3" y1="136.6" x2="185.9" y2="136.6" stroke="#767676" stroke-width="1.05" />
<line x1="185.9" y1="120.7" x2="185.9" y2="135.7" stroke="#767676" stroke-width="1.05" />
<line x1="183.1" y1="120.7" x2="188.7" y2="120.7" stroke="#767676" stroke-width="1.05" />
<line x1="183.1" y1="135.7" x2="188.7" y2="135.7" stroke="#767676" stroke-width="1.05" />
<line x1="188.7" y1="119.7" x2="188.7" y2="134.7" stroke="#767676" stroke-width="1.05" />
<line x1="185.9" y1="119.7" x2="191.5" y2="119.7" stroke="#767676" stroke-width="1.05" />
<line x1="185.9" y1="134.7" x2="191.5" y2="134.7" stroke="#767676" stroke-width="1.05" />
<line x1="191.4" y1="118.8" x2="191.4" y2="133.8" stroke="#767676" stroke-width="1.05" />
<line x1="188.6" y1="118.8" x2="194.2" y2="118.8" stroke="#767676" stroke-width="1.05" />
<line x1="188.6" y1="133.8" x2="194.2" y2="133.8" stroke="#767676" stroke-width="1.05" />
<line x1="194.2" y1="117.8" x2="194.2" y2="132.8" stroke="#767676" stroke-width="1.05" />
<line x1="191.4" y1="117.8" x2="197.0" y2="117.8" stroke="#767676" stroke-width="1.05" />
<line x1="191.4" y1="132.8" x2="197.0" y2="132.8" stroke="#767676" stroke-width="1.05" />
<line x1="197.0" y1="116.9" x2="197.0" y2="131.9" stroke="#767676" stroke-width="1.05" />
<line x1="194.2" y1="116.9" x2="199.8" y2="116.9" stroke="#767676" stroke-width="1.05" />
<line x1="194.2" y1="131.9" x2="199.8" y2="131.9" stroke="#767676" stroke-width="1.05" />
<line x1="199.8" y1="116.0" x2="199.8" y2="131.0" stroke="#767676" stroke-width="1.05" />
<line x1="197.0" y1="116.0" x2="202.6" y2="116.0" stroke="#767676" stroke-width="1.05" />
<line x1="197.0" y1="131.0" x2="202.6" y2="131.0" stroke="#767676" stroke-width="1.05" />
<line x1="202.6" y1="115.2" x2="202.6" y2="130.2" stroke="#767676" stroke-width="1.05" />
<line x1="199.8" y1="115.2" x2="205.4" y2="115.2" stroke="#767676" stroke-width="1.05" />
<line x1="199.8" y1="130.2" x2="205.4" y2="130.2" stroke="#767676" stroke-width="1.05" />
<line x1="205.4" y1="114.5" x2="205.4" y2="129.5" stroke="#767676" stroke-width="1.05" />
<line x1="202.6" y1="114.5" x2="208.2" y2="114.5" stroke="#767676" stroke-width="1.05" />
<line x1="202.6" y1="129.5" x2="208.2" y2="129.5" stroke="#767676" stroke-width="1.05" />
<line x1="208.2" y1="113.8" x2="208.2" y2="128.8" stroke="#767676" stroke-width="1.05" />
<line x1="205.3" y1="113.8" x2="211.0" y2="113.8" stroke="#767676" stroke-width="1.05" />
<line x1="205.3" y1="128.8" x2="211.0" y2="128.8" stroke="#767676" stroke-width="1.05" />
<line x1="210.9" y1="113.2" x2="210.9" y2="128.2" stroke="#767676" stroke-width="1.05" />
<line x1="208.1" y1="113.2" x2="213.7" y2="113.2" stroke="#767676" stroke-width="1.05" />
<line x1="208.1" y1="128.2" x2="213.7" y2="128.2" stroke="#767676" stroke-width="1.05" />
<line x1="213.7" y1="112.5" x2="213.7" y2="127.5" stroke="#767676" stroke-width="1.05" />
<line x1="210.9" y1="112.5" x2="216.5" y2="112.5" stroke="#767676" stroke-width="1.05" />
<line x1="210.9" y1="127.5" x2="216.5" y2="127.5" stroke="#767676" stroke-width="1.05" />
<line x1="216.5" y1="111.9" x2="216.5" y2="126.9" stroke="#767676" stroke-width="1.05" />
<line x1="213.7" y1="111.9" x2="219.3" y2="111.9" stroke="#767676" stroke-width="1.05" />
<line x1="213.7" y1="126.9" x2="219.3" y2="126.9" stroke="#767676" stroke-width="1.05" />
<line x1="219.3" y1="111.6" x2="219.3" y2="126.6" stroke="#767676" stroke-width="1.05" />
<line x1="216.5" y1="111.6" x2="222.1" y2="111.6" stroke="#767676" stroke-width="1.05" />
<line x1="216.5" y1="126.6" x2="222.1" y2="126.6" stroke="#767676" stroke-width="1.05" />
<line x1="222.1" y1="111.6" x2="222.1" y2="126.6" stroke="#767676" stroke-width="1.05" />
<line x1="219.3" y1="111.6" x2="224.9" y2="111.6" stroke="#767676" stroke-width="1.05" />
<line x1="219.3" y1="126.6" x2="224.9" y2="126.6" stroke="#767676" stroke-width="1.05" />
<line x1="224.9" y1="111.9" x2="224.9" y2="126.9" stroke="#767676" stroke-width="1.05" />
<line x1="222.1" y1="111.9" x2="227.7" y2="111.9" stroke="#767676" stroke-width="1.05" />
<line x1="222.1" y1="126.9" x2="227.7" y2="126.9" stroke="#767676" stroke-width="1.05" />
<line x1="227.6" y1="112.4" x2="227.6" y2="127.4" stroke="#767676" stroke-width="1.05" />
<line x1="224.8" y1="112.4" x2="230.4" y2="112.4" stroke="#767676" stroke-width="1.05" />
<line x1="224.8" y1="127.4" x2="230.4" y2="127.4" stroke="#767676" stroke-width="1.05" />
<line x1="230.4" y1="112.8" x2="230.4" y2="127.8" stroke="#767676" stroke-width="1.05" />
<line x1="227.6" y1="112.8" x2="233.2" y2="112.8" stroke="#767676" stroke-width="1.05" />
<line x1="227.6" y1="127.8" x2="233.2" y2="127.8" stroke="#767676" stroke-width="1.05" />
<line x1="233.2" y1="113.2" x2="233.2" y2="128.2" stroke="#767676" stroke-width="1.05" />
<line x1="230.4" y1="113.2" x2="236.0" y2="113.2" stroke="#767676" stroke-width="1.05" />
<line x1="230.4" y1="128.2" x2="236.0" y2="128.2" stroke="#767676" stroke-width="1.05" />
<line x1="236.0" y1="113.6" x2="236.0" y2="128.6" stroke="#767676" stroke-width="1.05" />
<line x1="233.2" y1="113.6" x2="238.8" y2="113.6" stroke="#767676" stroke-width="1.05" />
<line x1="233.2" y1="128.6" x2="238.8" y2="128.6" stroke="#767676" stroke-width="1.05" />
<line x1="238.8" y1="114.1" x2="238.8" y2="129.1" stroke="#767676" stroke-width="1.05" />
<line x1="236.0" y1="114.1" x2="241.6" y2="114.1" stroke="#767676" stroke-width="1.05" />
<line x1="236.0" y1="129.1" x2="241.6" y2="129.1" stroke="#767676" stroke-width="1.05" />
<line x1="241.6" y1="114.6" x2="241.6" y2="129.6" stroke="#767676" stroke-width="1.05" />
<line x1="238.8" y1="114.6" x2="244.4" y2="114.6" stroke="#767676" stroke-width="1.05" />
<line x1="238.8" y1="129.6" x2="244.4" y2="129.6" stroke="#767676" stroke-width="1.05" />
<line x1="68.9" y1="146.1" x2="68.9" y2="174.6" stroke="#767676" stroke-width="1.05" />
<line x1="66.1" y1="146.1" x2="71.7" y2="146.1" stroke="#767676" stroke-width="1.05" />
<line x1="66.1" y1="174.6" x2="71.7" y2="174.6" stroke="#767676" stroke-width="1.05" />
<line x1="71.7" y1="87.6" x2="71.7" y2="126.6" stroke="#767676" stroke-width="1.05" />
<line x1="68.9" y1="87.6" x2="74.5" y2="87.6" stroke="#767676" stroke-width="1.05" />
<line x1="68.9" y1="126.6" x2="74.5" y2="126.6" stroke="#767676" stroke-width="1.05" />
<line x1="74.5" y1="41.1" x2="74.5" y2="80.1" stroke="#767676" stroke-width="1.05" />
<line x1="71.7" y1="41.1" x2="77.3" y2="41.1" stroke="#767676" stroke-width="1.05" />
<line x1="71.7" y1="80.1" x2="77.3" y2="80.1" stroke="#767676" stroke-width="1.05" />
<line x1="77.3" y1="28.3" x2="77.3" y2="67.3" stroke="#767676" stroke-width="1.05" />
<line x1="74.5" y1="28.3" x2="80.1" y2="28.3" stroke="#767676" stroke-width="1.05" />
<line x1="74.5" y1="67.3" x2="80.1" y2="67.3" stroke="#767676" stroke-width="1.05" />
<line x1="80.0" y1="27.0" x2="80.0" y2="66.0" stroke="#767676" stroke-width="1.05" />
<line x1="77.2" y1="27.0" x2="82.8" y2="27.0" stroke="#767676" stroke-width="1.05" />
<line x1="77.2" y1="66.0" x2="82.8" y2="66.0" stroke="#767676" stroke-width="1.05" />
<line x1="82.8" y1="33.6" x2="82.8" y2="72.6" stroke="#767676" stroke-width="1.05" />
<line x1="80.0" y1="33.6" x2="85.6" y2="33.6" stroke="#767676" stroke-width="1.05" />
<line x1="80.0" y1="72.6" x2="85.6" y2="72.6" stroke="#767676" stroke-width="1.05" />
<line x1="85.6" y1="43.7" x2="85.6" y2="82.7" stroke="#767676" stroke-width="1.05" />
<line x1="82.8" y1="43.7" x2="88.4" y2="43.7" stroke="#767676" stroke-width="1.05" />
<line x1="82.8" y1="82.7" x2="88.4" y2="82.7" stroke="#767676" stroke-width="1.05" />
<line x1="88.4" y1="56.1" x2="88.4" y2="95.1" stroke="#767676" stroke-width="1.05" />
<line x1="85.6" y1="56.1" x2="91.2" y2="56.1" stroke="#767676" stroke-width="1.05" />
<line x1="85.6" y1="95.1" x2="91.2" y2="95.1" stroke="#767676" stroke-width="1.05" />
<line x1="91.2" y1="70.6" x2="91.2" y2="109.6" stroke="#767676" stroke-width="1.05" />
<line x1="88.4" y1="70.6" x2="94.0" y2="70.6" stroke="#767676" stroke-width="1.05" />
<line x1="88.4" y1="109.6" x2="94.0" y2="109.6" stroke="#767676" stroke-width="1.05" />
<line x1="94.0" y1="86.1" x2="94.0" y2="125.1" stroke="#767676" stroke-width="1.05" />
<line x1="91.2" y1="86.1" x2="96.8" y2="86.1" stroke="#767676" stroke-width="1.05" />
<line x1="91.2" y1="125.1" x2="96.8" y2="125.1" stroke="#767676" stroke-width="1.05" />
<line x1="96.8" y1="114.3" x2="96.8" y2="126.9" stroke="#767676" stroke-width="1.05" />
<line x1="94.0" y1="114.3" x2="99.5" y2="114.3" stroke="#767676" stroke-width="1.05" />
<line x1="94.0" y1="126.9" x2="99.5" y2="126.9" stroke="#767676" stroke-width="1.05" />
<line x1="99.5" y1="124.0" x2="99.5" y2="136.6" stroke="#767676" stroke-width="1.05" />
<line x1="96.7" y1="124.0" x2="102.3" y2="124.0" stroke="#767676" stroke-width="1.05" />
<line x1="96.7" y1="136.6" x2="102.3" y2="136.6" stroke="#767676" stroke-width="1.05" />
<line x1="102.3" y1="131.2" x2="102.3" y2="143.8" stroke="#767676" stroke-width="1.05" />
<line x1="99.5" y1="131.2" x2="105.1" y2="131.2" stroke="#767676" stroke-width="1.05" />
<line x1="99.5" y1="143.8" x2="105.1" y2="143.8" stroke="#767676" stroke-width="1.05" />
<line x1="105.1" y1="135.3" x2="105.1" y2="147.9" stroke="#767676" stroke-width="1.05" />
<line x1="102.3" y1="135.3" x2="107.9" y2="135.3" stroke="#767676" stroke-width="1.05" />
<line x1="102.3" y1="147.9" x2="107.9" y2="147.9" stroke="#767676" stroke-width="1.05" />
<line x1="107.9" y1="137.3" x2="107.9" y2="149.9" stroke="#767676" stroke-width="1.05" />
<line x1="105.1" y1="137.3" x2="110.7" y2="137.3" stroke="#767676" stroke-width="1.05" />
<line x1="105.1" y1="149.9" x2="110.7" y2="149.9" stroke="#767676" stroke-width="1.05" />
<line x1="110.7" y1="138.3" x2="110.7" y2="150.9" stroke="#767676" stroke-width="1.05" />
<line x1="107.9" y1="138.3" x2="113.5" y2="138.3" stroke="#767676" stroke-width="1.05" />
<line x1="107.9" y1="150.9" x2="113.5" y2="150.9" stroke="#767676" stroke-width="1.05" />
<line x1="113.5" y1="139.1" x2="113.5" y2="151.7" stroke="#767676" stroke-width="1.05" />
<line x1="110.7" y1="139.1" x2="116.3" y2="139.1" stroke="#767676" stroke-width="1.05" />
<line x1="110.7" y1="151.7" x2="116.3" y2="151.7" stroke="#767676" stroke-width="1.05" />
<line x1="116.2" y1="139.8" x2="116.2" y2="152.4" stroke="#767676" stroke-width="1.05" />
<line x1="113.4" y1="139.8" x2="119.0" y2="139.8" stroke="#767676" stroke-width="1.05" />
<line x1="113.4" y1="152.4" x2="119.0" y2="152.4" stroke="#767676" stroke-width="1.05" />
<line x1="119.0" y1="140.4" x2="119.0" y2="153.0" stroke="#767676" stroke-width="1.05" />
<line x1="116.2" y1="140.4" x2="121.8" y2="140.4" stroke="#767676" stroke-width="1.05" />
<line x1="116.2" y1="153.0" x2="121.8" y2="153.0" stroke="#767676" stroke-width="1.05" />
<line x1="121.8" y1="140.9" x2="121.8" y2="153.5" stroke="#767676" stroke-width="1.05" />
<line x1="119.0" y1="140.9" x2="124.6" y2="140.9" stroke="#767676" stroke-width="1.05" />
<line x1="119.0" y1="153.5" x2="124.6" y2="153.5" stroke="#767676" stroke-width="1.05" />
<line x1="124.6" y1="141.5" x2="124.6" y2="154.1" stroke="#767676" stroke-width="1.05" />
<line x1="121.8" y1="141.5" x2="127.4" y2="141.5" stroke="#767676" stroke-width="1.05" />
<line x1="121.8" y1="154.1" x2="127.4" y2="154.1" stroke="#767676" stroke-width="1.05" />
<line x1="127.4" y1="142.0" x2="127.4" y2="154.6" stroke="#767676" stroke-width="1.05" />
<line x1="124.6" y1="142.0" x2="130.2" y2="142.0" stroke="#767676" stroke-width="1.05" />
<line x1="124.6" y1="154.6" x2="130.2" y2="154.6" stroke="#767676" stroke-width="1.05" />
<line x1="130.2" y1="142.2" x2="130.2" y2="154.8" stroke="#767676" stroke-width="1.05" />
<line x1="127.4" y1="142.2" x2="133.0" y2="142.2" stroke="#767676" stroke-width="1.05" />
<line x1="127.4" y1="154.8" x2="133.0" y2="154.8" stroke="#767676" stroke-width="1.05" />
<line x1="133.0" y1="142.0" x2="133.0" y2="154.6" stroke="#767676" stroke-width="1.05" />
<line x1="130.2" y1="142.0" x2="135.8" y2="142.0" stroke="#767676" stroke-width="1.05" />
<line x1="130.2" y1="154.6" x2="135.8" y2="154.6" stroke="#767676" stroke-width="1.05" />
<line x1="135.7" y1="141.4" x2="135.7" y2="154.0" stroke="#767676" stroke-width="1.05" />
<line x1="132.9" y1="141.4" x2="138.5" y2="141.4" stroke="#767676" stroke-width="1.05" />
<line x1="132.9" y1="154.0" x2="138.5" y2="154.0" stroke="#767676" stroke-width="1.05" />
<line x1="138.5" y1="140.6" x2="138.5" y2="153.2" stroke="#767676" stroke-width="1.05" />
<line x1="135.7" y1="140.6" x2="141.3" y2="140.6" stroke="#767676" stroke-width="1.05" />
<line x1="135.7" y1="153.2" x2="141.3" y2="153.2" stroke="#767676" stroke-width="1.05" />
<line x1="141.3" y1="139.6" x2="141.3" y2="152.2" stroke="#767676" stroke-width="1.05" />
<line x1="138.5" y1="139.6" x2="144.1" y2="139.6" stroke="#767676" stroke-width="1.05" />
<line x1="138.5" y1="152.2" x2="144.1" y2="152.2" stroke="#767676" stroke-width="1.05" />
<line x1="144.1" y1="137.8" x2="144.1" y2="150.4" stroke="#767676" stroke-width="1.05" />
<line x1="141.3" y1="137.8" x2="146.9" y2="137.8" stroke="#767676" stroke-width="1.05" />
<line x1="141.3" y1="150.4" x2="146.9" y2="150.4" stroke="#767676" stroke-width="1.05" />
<line x1="146.9" y1="133.1" x2="146.9" y2="151.7" stroke="#767676" stroke-width="1.05" />
<line x1="144.1" y1="133.1" x2="149.7" y2="133.1" stroke="#767676" stroke-width="1.05" />
<line x1="144.1" y1="151.7" x2="149.7" y2="151.7" stroke="#767676" stroke-width="1.05" />
<line x1="149.7" y1="131.4" x2="149.7" y2="150.0" stroke="#767676" stroke-width="1.05" />
<line x1="146.9" y1="131.4" x2="152.5" y2="131.4" stroke="#767676" stroke-width="1.05" />
<line x1="146.9" y1="150.0" x2="152.5" y2="150.0" stroke="#767676" stroke-width="1.05" />
<line x1="152.5" y1="129.6" x2="152.5" y2="148.2" stroke="#767676" stroke-width="1.05" />
<line x1="149.7" y1="129.6" x2="155.3" y2="129.6" stroke="#767676" stroke-width="1.05" />
<line x1="149.7" y1="148.2" x2="155.3" y2="148.2" stroke="#767676" stroke-width="1.05" />
<line x1="155.2" y1="127.6" x2="155.2" y2="146.2" stroke="#767676" stroke-width="1.05" />
<line x1="152.4" y1="127.6" x2="158.0" y2="127.6" stroke="#767676" stroke-width="1.05" />
<line x1="152.4" y1="146.2" x2="158.0" y2="146.2" stroke="#767676" stroke-width="1.05" />
<line x1="158.0" y1="125.5" x2="158.0" y2="144.1" stroke="#767676" stroke-width="1.05" />
<line x1="155.2" y1="125.5" x2="160.8" y2="125.5" stroke="#767676" stroke-width="1.05" />
<line x1="155.2" y1="144.1" x2="160.8" y2="144.1" stroke="#767676" stroke-width="1.05" />
<line x1="160.8" y1="123.3" x2="160.8" y2="141.9" stroke="#767676" stroke-width="1.05" />
<line x1="158.0" y1="123.3" x2="163.6" y2="123.3" stroke="#767676" stroke-width="1.05" />
<line x1="158.0" y1="141.9" x2="163.6" y2="141.9" stroke="#767676" stroke-width="1.05" />
<line x1="163.6" y1="121.1" x2="163.6" y2="139.7" stroke="#767676" stroke-width="1.05" />
<line x1="160.8" y1="121.1" x2="166.4" y2="121.1" stroke="#767676" stroke-width="1.05" />
<line x1="160.8" y1="139.7" x2="166.4" y2="139.7" stroke="#767676" stroke-width="1.05" />
<line x1="166.4" y1="118.8" x2="166.4" y2="137.4" stroke="#767676" stroke-width="1.05" />
<line x1="163.6" y1="118.8" x2="169.2" y2="118.8" stroke="#767676" stroke-width="1.05" />
<line x1="163.6" y1="137.4" x2="169.2" y2="137.4" stroke="#767676" stroke-width="1.05" />
<line x1="169.2" y1="116.5" x2="169.2" y2="135.1" stroke="#767676" stroke-width="1.05" />
<line x1="166.4" y1="116.5" x2="172.0" y2="116.5" stroke="#767676" stroke-width="1.05" />
<line x1="166.4" y1="135.1" x2="172.0" y2="135.1" stroke="#767676" stroke-width="1.05" />
<line x1="171.9" y1="114.1" x2="171.9" y2="132.7" stroke="#767676" stroke-width="1.05" />
<line x1="169.1" y1="114.1" x2="174.7" y2="114.1" stroke="#767676" stroke-width="1.05" />
<line x1="169.1" y1="132.7" x2="174.7" y2="132.7" stroke="#767676" stroke-width="1.05" />
<line x1="174.7" y1="111.5" x2="174.7" y2="130.1" stroke="#767676" stroke-width="1.05" />
<line x1="171.9" y1="111.5" x2="177.5" y2="111.5" stroke="#767676" stroke-width="1.05" />
<line x1="171.9" y1="130.1" x2="177.5" y2="130.1" stroke="#767676" stroke-width="1.05" />
<line x1="177.5" y1="108.9" x2="177.5" y2="127.5" stroke="#767676" stroke-width="1.05" />
<line x1="174.7" y1="108.9" x2="180.3" y2="108.9" stroke="#767676" stroke-width="1.05" />
<line x1="174.7" y1="127.5" x2="180.3" y2="127.5" stroke="#767676" stroke-width="1.05" />
<line x1="180.3" y1="109.0" x2="180.3" y2="122.5" stroke="#767676" stroke-width="1.05" />
<line x1="177.5" y1="109.0" x2="183.1" y2="109.0" stroke="#767676" stroke-width="1.05" />
<line x1="177.5" y1="122.5" x2="183.1" y2="122.5" stroke="#767676" stroke-width="1.05" />
<line x1="183.1" y1="106.9" x2="183.1" y2="120.4" stroke="#767676" stroke-width="1.05" />
<line x1="180.3" y1="106.9" x2="185.9" y2="106.9" stroke="#767676" stroke-width="1.05" />
<line x1="180.3" y1="120.4" x2="185.9" y2="120.4" stroke="#767676" stroke-width="1.05" />
<line x1="185.9" y1="105.0" x2="185.9" y2="118.5" stroke="#767676" stroke-width="1.05" />
<line x1="183.1" y1="105.0" x2="188.7" y2="105.0" stroke="#767676" stroke-width="1.05" />
<line x1="183.1" y1="118.5" x2="188.7" y2="118.5" stroke="#767676" stroke-width="1.05" />
<line x1="188.7" y1="103.2" x2="188.7" y2="116.7" stroke="#767676" stroke-width="1.05" />
<line x1="185.9" y1="103.2" x2="191.5" y2="103.2" stroke="#767676" stroke-width="1.05" />
<line x1="185.9" y1="116.7" x2="191.5" y2="116.7" stroke="#767676" stroke-width="1.05" />
<line x1="191.4" y1="101.4" x2="191.4" y2="114.9" stroke="#767676" stroke-width="1.05" />
<line x1="188.6" y1="101.4" x2="194.2" y2="101.4" stroke="#767676" stroke-width="1.05" />
<line x1="188.6" y1="114.9" x2="194.2" y2="114.9" stroke="#767676" stroke-width="1.05" />
<line x1="194.2" y1="99.6" x2="194.2" y2="113.1" stroke="#767676" stroke-width="1.05" />
<line x1="191.4" y1="99.6" x2="197.0" y2="99.6" stroke="#767676" stroke-width="1.05" />
<line x1="191.4" y1="113.1" x2="197.0" y2="113.1" stroke="#767676" stroke-width="1.05" />
<line x1="197.0" y1="97.7" x2="197.0" y2="111.2" stroke="#767676" stroke-width="1.05" />
<line x1="194.2" y1="97.7" x2="199.8" y2="97.7" stroke="#767676" stroke-width="1.05" />
<line x1="194.2" y1="111.2" x2="199.8" y2="111.2" stroke="#767676" stroke-width="1.05" />
<line x1="199.8" y1="96.0" x2="199.8" y2="109.5" stroke="#767676" stroke-width="1.05" />
<line x1="197.0" y1="96.0" x2="202.6" y2="96.0" stroke="#767676" stroke-width="1.05" />
<line x1="197.0" y1="109.5" x2="202.6" y2="109.5" stroke="#767676" stroke-width="1.05" />
<line x1="202.6" y1="94.7" x2="202.6" y2="108.2" stroke="#767676" stroke-width="1.05" />
<line x1="199.8" y1="94.7" x2="205.4" y2="94.7" stroke="#767676" stroke-width="1.05" />
<line x1="199.8" y1="108.2" x2="205.4" y2="108.2" stroke="#767676" stroke-width="1.05" />
<line x1="205.4" y1="93.7" x2="205.4" y2="107.2" stroke="#767676" stroke-width="1.05" />
<line x1="202.6" y1="93.7" x2="208.2" y2="93.7" stroke="#767676" stroke-width="1.05" />
<line x1="202.6" y1="107.2" x2="208.2" y2="107.2" stroke="#767676" stroke-width="1.05" />
<line x1="208.2" y1="92.8" x2="208.2" y2="106.3" stroke="#767676" stroke-width="1.05" />
<line x1="205.3" y1="92.8" x2="211.0" y2="92.8" stroke="#767676" stroke-width="1.05" />
<line x1="205.3" y1="106.3" x2="211.0" y2="106.3" stroke="#767676" stroke-width="1.05" />
<line x1="210.9" y1="92.1" x2="210.9" y2="105.6" stroke="#767676" stroke-width="1.05" />
<line x1="208.1" y1="92.1" x2="213.7" y2="92.1" stroke="#767676" stroke-width="1.05" />
<line x1="208.1" y1="105.6" x2="213.7" y2="105.6" stroke="#767676" stroke-width="1.05" />
<line x1="213.7" y1="91.3" x2="213.7" y2="104.8" stroke="#767676" stroke-width="1.05" />
<line x1="210.9" y1="91.3" x2="216.5" y2="91.3" stroke="#767676" stroke-width="1.05" />
<line x1="210.9" y1="104.8" x2="216.5" y2="104.8" stroke="#767676" stroke-width="1.05" />
<line x1="216.5" y1="90.7" x2="216.5" y2="104.2" stroke="#767676" stroke-width="1.05" />
<line x1="213.7" y1="90.7" x2="219.3" y2="90.7" stroke="#767676" stroke-width="1.05" />
<line x1="213.7" y1="104.2" x2="219.3" y2="104.2" stroke="#767676" stroke-width="1.05" />
<line x1="219.3" y1="90.1" x2="219.3" y2="103.7" stroke="#767676" stroke-width="1.05" />
<line x1="216.5" y1="90.1" x2="222.1" y2="90.1" stroke="#767676" stroke-width="1.05" />
<line x1="216.5" y1="103.7" x2="222.1" y2="103.7" stroke="#767676" stroke-width="1.05" />
<line x1="222.1" y1="89.7" x2="222.1" y2="103.2" stroke="#767676" stroke-width="1.05" />
<line x1="219.3" y1="89.7" x2="224.9" y2="89.7" stroke="#767676" stroke-width="1.05" />
<line x1="219.3" y1="103.2" x2="224.9" y2="103.2" stroke="#767676" stroke-width="1.05" />
<line x1="224.9" y1="89.2" x2="224.9" y2="102.7" stroke="#767676" stroke-width="1.05" />
<line x1="222.1" y1="89.2" x2="227.7" y2="89.2" stroke="#767676" stroke-width="1.05" />
<line x1="222.1" y1="102.7" x2="227.7" y2="102.7" stroke="#767676" stroke-width="1.05" />
<line x1="227.6" y1="88.9" x2="227.6" y2="102.4" stroke="#767676" stroke-width="1.05" />
<line x1="224.8" y1="88.9" x2="230.4" y2="88.9" stroke="#767676" stroke-width="1.05" />
<line x1="224.8" y1="102.4" x2="230.4" y2="102.4" stroke="#767676" stroke-width="1.05" />
<line x1="230.4" y1="88.8" x2="230.4" y2="102.3" stroke="#767676" stroke-width="1.05" />
<line x1="227.6" y1="88.8" x2="233.2" y2="88.8" stroke="#767676" stroke-width="1.05" />
<line x1="227.6" y1="102.3" x2="233.2" y2="102.3" stroke="#767676" stroke-width="1.05" />
<line x1="233.2" y1="88.9" x2="233.2" y2="102.4" stroke="#767676" stroke-width="1.05" />
<line x1="230.4" y1="88.9" x2="236.0" y2="88.9" stroke="#767676" stroke-width="1.05" />
<line x1="230.4" y1="102.4" x2="236.0" y2="102.4" stroke="#767676" stroke-width="1.05" />
<line x1="236.0" y1="89.5" x2="236.0" y2="103.0" stroke="#767676" stroke-width="1.05" />
<line x1="233.2" y1="89.5" x2="238.8" y2="89.5" stroke="#767676" stroke-width="1.05" />
<line x1="233.2" y1="103.0" x2="238.8" y2="103.0" stroke="#767676" stroke-width="1.05" />
<line x1="238.8" y1="90.3" x2="238.8" y2="103.8" stroke="#767676" stroke-width="1.05" />
<line x1="236.0" y1="90.3" x2="241.6" y2="90.3" stroke="#767676" stroke-width="1.05" />
<line x1="236.0" y1="103.8" x2="241.6" y2="103.8" stroke="#767676" stroke-width="1.05" />
<line x1="241.6" y1="91.2" x2="241.6" y2="104.7" stroke="#767676" stroke-width="1.05" />
<line x1="238.8" y1="91.2" x2="244.4" y2="91.2" stroke="#767676" stroke-width="1.05" />
<line x1="238.8" y1="104.7" x2="244.4" y2="104.7" stroke="#767676" stroke-width="1.05" />
<polyline points="68.9,166.3 70.3,167.3 71.7,168.4 73.1,169.3 74.5,170.1 75.9,170.7 77.3,171.3 78.6,171.8 80.0,172.2 81.4,172.5 82.8,172.8 84.2,173.0 85.6,173.2 87.0,173.4 88.4,173.5 89.8,173.6 91.2,173.7 92.6,173.8 94.0,173.8 95.4,173.8 96.8,173.8 98.1,173.8 99.5,173.8 100.9,173.7 102.3,173.7 103.7,173.6 105.1,173.4 106.5,173.3 107.9,173.1 109.3,173.0 110.7,172.8 112.1,172.6 113.5,172.4 114.9,172.1 116.2,171.8 117.6,171.6 119.0,171.3 120.4,171.0 121.8,170.7 123.2,170.4 124.6,170.1 126.0,169.8 127.4,169.5 128.8,169.2 130.2,168.9 131.6,168.6 133.0,168.3 134.3,168.0 135.7,167.8 137.1,167.6 138.5,167.4 139.9,167.3 141.3,167.2 142.7,167.1 144.1,167.1 145.5,167.1 146.9,167.1 148.3,167.1 149.7,167.1 151.1,167.1 152.5,167.1 153.8,167.1 155.2,167.1 156.6,167.1 158.0,167.1 159.4,167.1 160.8,167.1 162.2,167.1 163.6,167.1 165.0,167.1 166.4,167.1 167.8,167.1 169.2,167.1 170.6,167.1 171.9,167.1 173.3,167.1 174.7,167.1 176.1,167.1 177.5,167.1 178.9,167.1 180.3,167.1 181.7,167.1 183.1,167.1 184.5,167.1 185.9,167.1 187.3,167.1 188.7,167.1 190.0,167.1 191.4,167.1 192.8,167.1 194.2,167.1 195.6,167.1 197.0,167.1 198.4,167.1 199.8,167.1 201.2,167.1 202.6,167.1 204.0,167.1 205.4,167.1 206.8,167.1 208.2,167.1 209.5,167.1 210.9,167.1 212.3,167.0 213.7,167.0 215.1,167.1 216.5,167.1 217.9,167.1 219.3,167.1 220.7,167.1 222.1,167.1 223.5,167.1 224.9,167.1 226.3,167.2 227.6,167.2 229.0,167.3 230.4,167.3 231.8,167.3 233.2,167.4 234.6,167.4 236.0,167.5 237.4,167.5 238.8,167.6 240.2,167.6 241.6,167.7 242.7,167.7" fill="none" stroke="#5B9BD5" stroke-width="2.2" stroke-linejoin="round" stroke-linecap="round" />
<polyline points="68.9,173.8 70.3,173.8 71.7,173.9 73.1,174.0 74.5,173.9 75.9,173.7 77.3,173.1 78.6,172.3 80.0,171.4 81.4,170.4 82.8,169.4 84.2,168.3 85.6,167.2 87.0,166.0 88.4,164.8 89.8,163.7 91.2,162.5 92.6,161.3 94.0,160.1 95.4,158.9 96.8,157.7 98.1,156.5 99.5,155.3 100.9,154.1 102.3,152.9 103.7,151.6 105.1,150.4 106.5,149.1 107.9,147.9 109.3,146.6 110.7,145.4 112.1,144.2 113.5,143.0 114.9,141.9 116.2,140.8 117.6,139.7 119.0,138.6 120.4,137.6 121.8,136.6 123.2,135.7 124.6,134.7 126.0,133.8 127.4,132.9 128.8,131.9 130.2,131.0 131.6,130.1 133.0,129.1 134.3,128.1 135.7,127.1 137.1,126.1 138.5,125.0 139.9,123.8 141.3,122.4 142.7,121.1 144.1,119.8 145.5,118.7 146.9,117.6 148.3,116.7 149.7,116.1 151.1,115.7 152.5,115.4 153.8,115.2 155.2,115.0 156.6,114.9 158.0,114.9 159.4,114.8 160.8,114.7 162.2,114.7 163.6,114.6 165.0,114.6 166.4,114.6 167.8,114.6 169.2,114.6 170.6,114.7 171.9,114.8 173.3,115.0 174.7,115.2 176.1,115.5 177.5,115.8 178.9,116.2 180.3,116.7 181.7,117.3 183.1,117.9 184.5,118.8 185.9,120.0 187.3,121.1 188.7,122.2 190.0,123.0 191.4,123.5 192.8,123.9 194.2,124.3 195.6,124.6 197.0,124.9 198.4,125.1 199.8,125.5 201.2,125.9 202.6,126.3 204.0,126.7 205.4,127.2 206.8,127.5 208.2,127.8 209.5,128.0 210.9,128.2 212.3,128.3 213.7,128.4 215.1,128.5 216.5,128.6 217.9,128.6 219.3,128.7 220.7,128.8 222.1,128.8 223.5,128.8 224.9,128.9 226.3,128.9 227.6,128.9 229.0,129.0 230.4,129.0 231.8,129.0 233.2,129.0 234.6,129.0 236.0,129.0 237.4,129.1 238.8,129.1 240.2,129.1 241.6,129.1 242.7,129.2" fill="none" stroke="#ED7D31" stroke-width="2.2" stroke-linejoin="round" stroke-linecap="round" />
<polyline points="68.9,165.6 70.3,163.8 71.7,162.1 73.1,160.3 74.5,158.6 75.9,156.8 77.3,155.1 78.6,153.3 80.0,151.5 81.4,149.7 82.8,147.9 84.2,146.2 85.6,144.6 87.0,143.1 88.4,141.6 89.8,140.2 91.2,138.8 92.6,137.5 94.0,136.3 95.4,135.3 96.8,134.3 98.1,133.6 99.5,133.2 100.9,133.0 102.3,132.9 103.7,132.9 105.1,133.0 106.5,133.2 107.9,133.5 109.3,133.9 110.7,134.4 112.1,135.0 113.5,135.6 114.9,136.2 116.2,136.8 117.6,137.4 119.0,137.8 120.4,138.3 121.8,138.7 123.2,139.0 124.6,139.4 126.0,139.7 127.4,140.0 128.8,140.3 130.2,140.6 131.6,140.8 133.0,141.2 134.3,141.5 135.7,141.7 137.1,141.9 138.5,142.1 139.9,142.1 141.3,141.9 142.7,141.8 144.1,141.6 145.5,141.4 146.9,141.1 148.3,140.8 149.7,140.4 151.1,140.1 152.5,139.7 153.8,139.3 155.2,138.8 156.6,138.4 158.0,137.8 159.4,137.3 160.8,136.7 162.2,136.1 163.6,135.5 165.0,134.9 166.4,134.3 167.8,133.8 169.2,133.3 170.6,132.8 171.9,132.4 173.3,132.0 174.7,131.6 176.1,131.1 177.5,130.7 178.9,130.3 180.3,129.9 181.7,129.5 183.1,129.1 184.5,128.6 185.9,128.2 187.3,127.7 188.7,127.2 190.0,126.7 191.4,126.3 192.8,125.8 194.2,125.3 195.6,124.9 197.0,124.4 198.4,124.0 199.8,123.5 201.2,123.1 202.6,122.7 204.0,122.4 205.4,122.0 206.8,121.7 208.2,121.3 209.5,121.0 210.9,120.7 212.3,120.3 213.7,120.0 215.1,119.7 216.5,119.4 217.9,119.2 219.3,119.1 220.7,119.1 222.1,119.1 223.5,119.3 224.9,119.4 226.3,119.7 227.6,119.9 229.0,120.1 230.4,120.3 231.8,120.5 233.2,120.7 234.6,120.9 236.0,121.1 237.4,121.4 238.8,121.6 240.2,121.8 241.6,122.1 242.7,122.2" fill="none" stroke="#A5A5A5" stroke-width="2.2" stroke-linejoin="round" stroke-linecap="round" />
<polyline points="68.9,165.6 70.3,135.6 71.7,107.1 73.1,80.3 74.5,60.6 75.9,51.7 77.3,47.8 78.6,46.2 80.0,46.5 81.4,49.2 82.8,53.1 84.2,57.7 85.6,63.2 87.0,69.2 88.4,75.6 89.8,82.6 91.2,90.1 92.6,97.9 94.0,105.6 95.4,113.6 96.8,120.6 98.1,125.8 99.5,130.3 100.9,134.2 102.3,137.5 103.7,139.9 105.1,141.6 106.5,142.8 107.9,143.6 109.3,144.2 110.7,144.6 112.1,145.0 113.5,145.4 114.9,145.7 116.2,146.1 117.6,146.4 119.0,146.7 120.4,146.9 121.8,147.2 123.2,147.5 124.6,147.8 126.0,148.1 127.4,148.3 128.8,148.5 130.2,148.5 131.6,148.4 133.0,148.3 134.3,148.0 135.7,147.7 137.1,147.3 138.5,146.9 139.9,146.4 141.3,145.9 142.7,145.1 144.1,144.1 145.5,143.2 146.9,142.4 148.3,141.5 149.7,140.7 151.1,139.8 152.5,138.9 153.8,137.9 155.2,136.9 156.6,135.8 158.0,134.8 159.4,133.7 160.8,132.6 162.2,131.5 163.6,130.4 165.0,129.3 166.4,128.1 167.8,127.0 169.2,125.8 170.6,124.6 171.9,123.4 173.3,122.1 174.7,120.8 176.1,119.5 177.5,118.2 178.9,117.0 180.3,115.8 181.7,114.7 183.1,113.6 184.5,112.7 185.9,111.7 187.3,110.8 188.7,109.9 190.0,109.0 191.4,108.1 192.8,107.3 194.2,106.3 195.6,105.4 197.0,104.4 198.4,103.5 199.8,102.7 201.2,102.1 202.6,101.5 204.0,101.0 205.4,100.5 206.8,100.0 208.2,99.6 209.5,99.2 210.9,98.8 212.3,98.4 213.7,98.1 215.1,97.7 216.5,97.4 217.9,97.2 219.3,96.9 220.7,96.7 222.1,96.4 223.5,96.2 224.9,96.0 226.3,95.8 227.6,95.6 229.0,95.5 230.4,95.5 231.8,95.5 233.2,95.7 234.6,95.9 236.0,96.2 237.4,96.6 238.8,97.1 240.2,97.5 241.6,97.9 242.7,98.2" fill="none" stroke="#FFC000" stroke-width="2.2" stroke-linejoin="round" stroke-linecap="round" />
<line x1="68.5" y1="24" x2="68.5" y2="175" stroke="#000" stroke-width="2.2" />
<line x1="67.4" y1="174.2" x2="243" y2="174.2" stroke="#000" stroke-width="2.2" />
<line x1="64.5" y1="174.6" x2="68.5" y2="174.6" stroke="#000" stroke-width="2" />
<text x="59" y="178.6" font-size="11.3" font-weight="bold" text-anchor="end" fill="#000" >0</text>
<line x1="64.5" y1="144.6" x2="68.5" y2="144.6" stroke="#000" stroke-width="2" />
<text x="59" y="148.6" font-size="11.3" font-weight="bold" text-anchor="end" fill="#000" >2</text>
<line x1="64.5" y1="114.6" x2="68.5" y2="114.6" stroke="#000" stroke-width="2" />
<text x="59" y="118.6" font-size="11.3" font-weight="bold" text-anchor="end" fill="#000" >4</text>
<line x1="64.5" y1="84.6" x2="68.5" y2="84.6" stroke="#000" stroke-width="2" />
<text x="59" y="88.6" font-size="11.3" font-weight="bold" text-anchor="end" fill="#000" >6</text>
<line x1="64.5" y1="54.599999999999994" x2="68.5" y2="54.599999999999994" stroke="#000" stroke-width="2" />
<text x="59" y="58.599999999999994" font-size="11.3" font-weight="bold" text-anchor="end" fill="#000" >8</text>
<line x1="64.5" y1="24.599999999999994" x2="68.5" y2="24.599999999999994" stroke="#000" stroke-width="2" />
<text x="59" y="28.599999999999994" font-size="11.3" font-weight="bold" text-anchor="end" fill="#000" >10</text>
<line x1="68.9" y1="174" x2="68.9" y2="178" stroke="#000" stroke-width="2" />
<text x="69.7" y="191.5" font-size="11.3" font-weight="bold" text-anchor="middle" fill="#000" >0</text>
<line x1="96.75" y1="174" x2="96.75" y2="178" stroke="#000" stroke-width="2" />
<text x="97.55" y="191.5" font-size="11.3" font-weight="bold" text-anchor="middle" fill="#000" >10</text>
<line x1="124.60000000000001" y1="174" x2="124.60000000000001" y2="178" stroke="#000" stroke-width="2" />
<text x="125.4" y="191.5" font-size="11.3" font-weight="bold" text-anchor="middle" fill="#000" >20</text>
<line x1="152.45000000000002" y1="174" x2="152.45000000000002" y2="178" stroke="#000" stroke-width="2" />
<text x="153.25000000000003" y="191.5" font-size="11.3" font-weight="bold" text-anchor="middle" fill="#000" >30</text>
<line x1="180.3" y1="174" x2="180.3" y2="178" stroke="#000" stroke-width="2" />
<text x="181.10000000000002" y="191.5" font-size="11.3" font-weight="bold" text-anchor="middle" fill="#000" >40</text>
<line x1="208.15" y1="174" x2="208.15" y2="178" stroke="#000" stroke-width="2" />
<text x="208.95000000000002" y="191.5" font-size="11.3" font-weight="bold" text-anchor="middle" fill="#000" >50</text>
<line x1="236.00000000000003" y1="174" x2="236.00000000000003" y2="178" stroke="#000" stroke-width="2" />
<text x="236.80000000000004" y="191.5" font-size="11.3" font-weight="bold" text-anchor="middle" fill="#000" >60</text>
<text x="148.7" y="206.6" font-size="9.7" font-weight="bold" text-anchor="middle" fill="#000" textLength="49" lengthAdjust="spacingAndGlyphs" >Time (min)</text>
<text transform="translate(43,38.5) rotate(-90)" font-size="10.8" font-weight="bold" text-anchor="middle">x1000</text>
<text transform="translate(43,104.5) rotate(-90)" font-size="10.5" font-weight="bold" text-anchor="middle">RLU</text>
<line x1="164.2" y1="31.1" x2="190.7" y2="31.1" stroke="#5B9BD5" stroke-width="2.4" />
<text x="193.7" y="34.7" font-size="10.2" font-weight="bold" text-anchor="start" fill="#000" >Mock</text>
<line x1="164.2" y1="43.9" x2="190.7" y2="43.9" stroke="#ED7D31" stroke-width="2.4" />
<text x="193.7" y="47.5" font-size="10.2" font-weight="bold" text-anchor="start" fill="#000" >MoChia1</text>
<line x1="164.2" y1="56" x2="190.7" y2="56" stroke="#A5A5A5" stroke-width="2.4" />
<text x="193.7" y="59.6" font-size="10.2" font-weight="bold" text-anchor="start" fill="#000" >flg22</text>
<line x1="164.2" y1="69" x2="190.7" y2="69" stroke="#FFC000" stroke-width="2.4" />
<text x="193.7" y="72.6" font-size="10.2" font-weight="bold" text-anchor="start" fill="#000" >Chitin</text>
<text x="257" y="24" font-size="13.5" font-weight="bold" text-anchor="start" fill="#000" >B</text>
<line x1="276.4" y1="31" x2="276.4" y2="174.3" stroke="#000" stroke-width="1.6" />
<line x1="275.59999999999997" y1="173.6" x2="422.5" y2="173.6" stroke="#000" stroke-width="1.6" />
<line x1="273.9" y1="40.74000000000002" x2="277.9" y2="40.74000000000002" stroke="#000" stroke-width="1.3" />
<text x="273.5" y="44.440000000000026" font-size="10.3" font-weight="bold" text-anchor="end" fill="#000" >1.2</text>
<line x1="273.9" y1="76.26" x2="277.9" y2="76.26" stroke="#000" stroke-width="1.3" />
<text x="273.5" y="79.96000000000001" font-size="10.3" font-weight="bold" text-anchor="end" fill="#000" >0.8</text>
<line x1="273.9" y1="111.78" x2="277.9" y2="111.78" stroke="#000" stroke-width="1.3" />
<text x="273.5" y="115.48" font-size="10.3" font-weight="bold" text-anchor="end" fill="#000" >0.4</text>
<line x1="273.9" y1="147.3" x2="277.9" y2="147.3" stroke="#000" stroke-width="1.3" />
<text x="273.5" y="151.0" font-size="10.3" font-weight="bold" text-anchor="end" fill="#000" >0</text>
<line x1="274.4" y1="58.500000000000014" x2="276.4" y2="58.500000000000014" stroke="#000" stroke-width="1.3" />
<line x1="274.4" y1="94.02000000000001" x2="276.4" y2="94.02000000000001" stroke="#000" stroke-width="1.3" />
<line x1="274.4" y1="129.54000000000002" x2="276.4" y2="129.54000000000002" stroke="#000" stroke-width="1.3" />
<line x1="274.4" y1="165.06" x2="276.4" y2="165.06" stroke="#000" stroke-width="1.3" />
<line x1="278.7" y1="173.6" x2="278.7" y2="176.5" stroke="#000" stroke-width="1" />
<line x1="287.4" y1="173.6" x2="287.4" y2="175.6" stroke="#000" stroke-width="0.8" />
<line x1="292.5" y1="173.6" x2="292.5" y2="175.6" stroke="#000" stroke-width="0.8" />
<line x1="296.1" y1="173.6" x2="296.1" y2="175.6" stroke="#000" stroke-width="0.8" />
<line x1="298.9" y1="173.6" x2="298.9" y2="175.6" stroke="#000" stroke-width="0.8" />
<line x1="301.2" y1="173.6" x2="301.2" y2="175.6" stroke="#000" stroke-width="0.8" />
<line x1="303.1" y1="173.6" x2="303.1" y2="175.6" stroke="#000" stroke-width="0.8" />
<line x1="304.8" y1="173.6" x2="304.8" y2="175.6" stroke="#000" stroke-width="0.8" />
<line x1="306.3" y1="173.6" x2="306.3" y2="175.6" stroke="#000" stroke-width="0.8" />
<line x1="307.6" y1="173.6" x2="307.6" y2="176.5" stroke="#000" stroke-width="1" />
<line x1="316.3" y1="173.6" x2="316.3" y2="175.6" stroke="#000" stroke-width="0.8" />
<line x1="321.4" y1="173.6" x2="321.4" y2="175.6" stroke="#000" stroke-width="0.8" />
<line x1="325.0" y1="173.6" x2="325.0" y2="175.6" stroke="#000" stroke-width="0.8" />
<line x1="327.8" y1="173.6" x2="327.8" y2="175.6" stroke="#000" stroke-width="0.8" />
<line x1="330.1" y1="173.6" x2="330.1" y2="175.6" stroke="#000" stroke-width="0.8" />
<line x1="332.0" y1="173.6" x2="332.0" y2="175.6" stroke="#000" stroke-width="0.8" />
<line x1="333.7" y1="173.6" x2="333.7" y2="175.6" stroke="#000" stroke-width="0.8" />
<line x1="335.2" y1="173.6" x2="335.2" y2="175.6" stroke="#000" stroke-width="0.8" />
<line x1="336.5" y1="173.6" x2="336.5" y2="176.5" stroke="#000" stroke-width="1" />
<line x1="345.2" y1="173.6" x2="345.2" y2="175.6" stroke="#000" stroke-width="0.8" />
<line x1="350.3" y1="173.6" x2="350.3" y2="175.6" stroke="#000" stroke-width="0.8" />
<line x1="353.9" y1="173.6" x2="353.9" y2="175.6" stroke="#000" stroke-width="0.8" />
<line x1="356.7" y1="173.6" x2="356.7" y2="175.6" stroke="#000" stroke-width="0.8" />
<line x1="359.0" y1="173.6" x2="359.0" y2="175.6" stroke="#000" stroke-width="0.8" />
<line x1="360.9" y1="173.6" x2="360.9" y2="175.6" stroke="#000" stroke-width="0.8" />
<line x1="362.6" y1="173.6" x2="362.6" y2="175.6" stroke="#000" stroke-width="0.8" />
<line x1="364.1" y1="173.6" x2="364.1" y2="175.6" stroke="#000" stroke-width="0.8" />
<line x1="365.4" y1="173.6" x2="365.4" y2="176.5" stroke="#000" stroke-width="1" />
<line x1="374.1" y1="173.6" x2="374.1" y2="175.6" stroke="#000" stroke-width="0.8" />
<line x1="379.2" y1="173.6" x2="379.2" y2="175.6" stroke="#000" stroke-width="0.8" />
<line x1="382.8" y1="173.6" x2="382.8" y2="175.6" stroke="#000" stroke-width="0.8" />
<line x1="385.6" y1="173.6" x2="385.6" y2="175.6" stroke="#000" stroke-width="0.8" />
<line x1="387.9" y1="173.6" x2="387.9" y2="175.6" stroke="#000" stroke-width="0.8" />
<line x1="389.8" y1="173.6" x2="389.8" y2="175.6" stroke="#000" stroke-width="0.8" />
<line x1="391.5" y1="173.6" x2="391.5" y2="175.6" stroke="#000" stroke-width="0.8" />
<line x1="393.0" y1="173.6" x2="393.0" y2="175.6" stroke="#000" stroke-width="0.8" />
<line x1="394.3" y1="173.6" x2="394.3" y2="176.5" stroke="#000" stroke-width="1" />
<line x1="403.0" y1="173.6" x2="403.0" y2="175.6" stroke="#000" stroke-width="0.8" />
<line x1="408.1" y1="173.6" x2="408.1" y2="175.6" stroke="#000" stroke-width="0.8" />
<line x1="411.7" y1="173.6" x2="411.7" y2="175.6" stroke="#000" stroke-width="0.8" />
<line x1="414.5" y1="173.6" x2="414.5" y2="175.6" stroke="#000" stroke-width="0.8" />
<line x1="416.8" y1="173.6" x2="416.8" y2="175.6" stroke="#000" stroke-width="0.8" />
<line x1="418.7" y1="173.6" x2="418.7" y2="175.6" stroke="#000" stroke-width="0.8" />
<line x1="420.4" y1="173.6" x2="420.4" y2="175.6" stroke="#000" stroke-width="0.8" />
<line x1="421.9" y1="173.6" x2="421.9" y2="175.6" stroke="#000" stroke-width="0.8" />
<text x="307" y="185.8" font-size="10" font-weight="bold" text-anchor="middle" fill="#000" >0.01</text>
<text x="337" y="185.8" font-size="10" font-weight="bold" text-anchor="middle" fill="#000" >0.1</text>
<text x="365.7" y="185.8" font-size="10" font-weight="bold" text-anchor="middle" fill="#000" >1</text>
<text x="395.3" y="185.8" font-size="10" font-weight="bold" text-anchor="middle" fill="#000" >10</text>
<text x="422.2" y="185.8" font-size="10" font-weight="bold" text-anchor="middle" fill="#000" >100</text>
<text x="284.2" y="195.2" font-size="10.3" font-weight="bold" text-anchor="start" fill="#000" textLength="154.8" lengthAdjust="spacingAndGlyphs" >Concentration of OsTPR1 (μM)</text>
<text x="286.8" y="45.7" font-size="10.2" font-weight="bold" text-anchor="start" fill="#000" >MoChia1</text>
<text transform="translate(254.6,97.1) rotate(-90)" font-size="10.3" font-weight="bold" text-anchor="middle" textLength="64" lengthAdjust="spacing">FNorm [ ‰ ]</text>
<line x1="290.8" y1="152.7" x2="290.8" y2="160.7" stroke="#000" stroke-width="0.9" />
<line x1="289.0" y1="152.7" x2="292.6" y2="152.7" stroke="#000" stroke-width="0.9" />
<line x1="289.0" y1="160.7" x2="292.6" y2="160.7" stroke="#000" stroke-width="0.9" />
<rect x="288.7" y="153.89999999999998" width="4.2" height="5.6" fill="#000"/>
<line x1="299.1" y1="148.7" x2="299.1" y2="156.7" stroke="#000" stroke-width="0.9" />
<line x1="297.3" y1="148.7" x2="300.90000000000003" y2="148.7" stroke="#000" stroke-width="0.9" />
<line x1="297.3" y1="156.7" x2="300.90000000000003" y2="156.7" stroke="#000" stroke-width="0.9" />
<rect x="297.0" y="149.89999999999998" width="4.2" height="5.6" fill="#000"/>
<line x1="307.8" y1="148.0" x2="307.8" y2="153.0" stroke="#000" stroke-width="0.9" />
<line x1="306.0" y1="148.0" x2="309.6" y2="148.0" stroke="#000" stroke-width="0.9" />
<line x1="306.0" y1="153.0" x2="309.6" y2="153.0" stroke="#000" stroke-width="0.9" />
<rect x="305.7" y="147.7" width="4.2" height="5.6" fill="#000"/>
<line x1="316.4" y1="135" x2="316.4" y2="155" stroke="#000" stroke-width="0.9" />
<line x1="314.59999999999997" y1="135" x2="318.2" y2="135" stroke="#000" stroke-width="0.9" />
<line x1="314.59999999999997" y1="155" x2="318.2" y2="155" stroke="#000" stroke-width="0.9" />
<rect x="314.29999999999995" y="142.2" width="4.2" height="5.6" fill="#000"/>
<line x1="325.4" y1="123.5" x2="325.4" y2="152.7" stroke="#000" stroke-width="0.9" />
<line x1="323.59999999999997" y1="123.5" x2="327.2" y2="123.5" stroke="#000" stroke-width="0.9" />
<line x1="323.59999999999997" y1="152.7" x2="327.2" y2="152.7" stroke="#000" stroke-width="0.9" />
<rect x="323.29999999999995" y="135.29999999999998" width="4.2" height="5.6" fill="#000"/>
<line x1="334" y1="135.70000000000002" x2="334" y2="151.1" stroke="#000" stroke-width="0.9" />
<line x1="332.2" y1="135.70000000000002" x2="335.8" y2="135.70000000000002" stroke="#000" stroke-width="0.9" />
<line x1="332.2" y1="151.1" x2="335.8" y2="151.1" stroke="#000" stroke-width="0.9" />
<rect x="331.9" y="140.6" width="4.2" height="5.6" fill="#000"/>
<line x1="342.7" y1="115.4" x2="342.7" y2="134.4" stroke="#000" stroke-width="0.9" />
<line x1="340.9" y1="115.4" x2="344.5" y2="115.4" stroke="#000" stroke-width="0.9" />
<line x1="340.9" y1="134.4" x2="344.5" y2="134.4" stroke="#000" stroke-width="0.9" />
<rect x="340.59999999999997" y="122.10000000000001" width="4.2" height="5.6" fill="#000"/>
<line x1="351.6" y1="110" x2="351.6" y2="120" stroke="#000" stroke-width="0.9" />
<line x1="349.8" y1="110" x2="353.40000000000003" y2="110" stroke="#000" stroke-width="0.9" />
<line x1="349.8" y1="120" x2="353.40000000000003" y2="120" stroke="#000" stroke-width="0.9" />
<rect x="349.5" y="112.2" width="4.2" height="5.6" fill="#000"/>
<line x1="368.9" y1="85.9" x2="368.9" y2="95.9" stroke="#000" stroke-width="0.9" />
<line x1="367.09999999999997" y1="85.9" x2="370.7" y2="85.9" stroke="#000" stroke-width="0.9" />
<line x1="367.09999999999997" y1="95.9" x2="370.7" y2="95.9" stroke="#000" stroke-width="0.9" />
<rect x="366.79999999999995" y="88.10000000000001" width="4.2" height="5.6" fill="#000"/>
<line x1="377.5" y1="77.7" x2="377.5" y2="85.7" stroke="#000" stroke-width="0.9" />
<line x1="375.7" y1="77.7" x2="379.3" y2="77.7" stroke="#000" stroke-width="0.9" />
<line x1="375.7" y1="85.7" x2="379.3" y2="85.7" stroke="#000" stroke-width="0.9" />
<rect x="375.4" y="78.9" width="4.2" height="5.6" fill="#000"/>
<line x1="386.2" y1="69" x2="386.2" y2="77" stroke="#000" stroke-width="0.9" />
<line x1="384.4" y1="69" x2="388.0" y2="69" stroke="#000" stroke-width="0.9" />
<line x1="384.4" y1="77" x2="388.0" y2="77" stroke="#000" stroke-width="0.9" />
<rect x="384.09999999999997" y="70.2" width="4.2" height="5.6" fill="#000"/>
<line x1="394.8" y1="51.4" x2="394.8" y2="60.6" stroke="#000" stroke-width="0.9" />
<line x1="393.0" y1="51.4" x2="396.6" y2="51.4" stroke="#000" stroke-width="0.9" />
<line x1="393.0" y1="60.6" x2="396.6" y2="60.6" stroke="#000" stroke-width="0.9" />
<rect x="392.7" y="53.2" width="4.2" height="5.6" fill="#000"/>
<line x1="403.5" y1="44.5" x2="403.5" y2="61.5" stroke="#000" stroke-width="0.9" />
<line x1="401.7" y1="44.5" x2="405.3" y2="44.5" stroke="#000" stroke-width="0.9" />
<line x1="401.7" y1="61.5" x2="405.3" y2="61.5" stroke="#000" stroke-width="0.9" />
<rect x="401.4" y="50.2" width="4.2" height="5.6" fill="#000"/>
<line x1="412.1" y1="52" x2="412.1" y2="62" stroke="#000" stroke-width="0.9" />
<line x1="410.3" y1="52" x2="413.90000000000003" y2="52" stroke="#000" stroke-width="0.9" />
<line x1="410.3" y1="62" x2="413.90000000000003" y2="62" stroke="#000" stroke-width="0.9" />
<rect x="410.0" y="54.2" width="4.2" height="5.6" fill="#000"/>
<line x1="420.7" y1="59.099999999999994" x2="420.7" y2="69.1" stroke="#000" stroke-width="0.9" />
<line x1="418.9" y1="59.099999999999994" x2="422.5" y2="59.099999999999994" stroke="#000" stroke-width="0.9" />
<line x1="418.9" y1="69.1" x2="422.5" y2="69.1" stroke="#000" stroke-width="0.9" />
<rect x="418.59999999999997" y="61.3" width="4.2" height="5.6" fill="#000"/>
<polyline points="289.3,154.8 290.2,154.6 291.3,154.4 292.6,154.2 294.1,154.0 295.7,153.7 297.4,153.4 299.2,153.0 300.9,152.6 302.7,152.2 304.5,151.7 306.2,151.1 307.8,150.5 309.4,149.8 310.9,149.0 312.5,148.1 314.1,147.2 315.7,146.3 317.2,145.2 318.8,144.2 320.4,143.1 321.9,142.1 323.4,141.0 324.9,139.9 326.3,138.8 327.7,137.7 329.1,136.6 330.4,135.5 331.8,134.3 333.1,133.2 334.4,132.0 335.7,130.8 336.9,129.6 338.1,128.4 339.3,127.2 340.5,126.1 341.7,124.9 342.8,123.8 344.0,122.6 345.0,121.5 346.1,120.4 347.2,119.3 348.2,118.2 349.2,117.1 350.2,116.0 351.2,114.8 352.2,113.6 353.1,112.3 354.1,111.0 355.1,109.6 356.0,108.1 357.0,106.5 357.9,104.8 358.9,103.2 359.8,101.5 360.7,99.8 361.6,98.2 362.5,96.6 363.3,95.1 364.1,93.7 364.9,92.5 365.6,91.4 366.3,90.5 366.9,89.6 367.5,88.8 368.1,88.1 368.7,87.5 369.2,86.8 369.8,86.2 370.4,85.5 371.1,84.8 371.8,84.1 372.6,83.2 373.5,82.3 374.3,81.3 375.3,80.3 376.2,79.3 377.2,78.2 378.3,77.1 379.3,76.1 380.4,75.0 381.5,73.9 382.6,72.9 383.7,71.9 384.9,70.9 386.1,69.9 387.2,68.9 388.4,68.0 389.7,67.0 390.9,66.0 392.2,65.0 393.5,64.1 394.8,63.2 396.1,62.3 397.5,61.5 398.9,60.8 400.4,60.1 402.0,59.5 403.7,58.9 405.5,58.4 407.4,57.9 409.3,57.5 411.2,57.1 413.1,56.7 414.9,56.4 416.6,56.1 418.1,55.9 419.3,55.6 420.4,55.4 421.2,55.2 421.8,55.1 422.2,55.0 422.5,55.0 422.7,55.0 422.7,55.0 422.7,55.0 422.6,55.1 422.5,55.1 422.5,55.2 422.5,55.2 422.5,55.2" fill="none" stroke="#000" stroke-width="1.6" stroke-linejoin="round" stroke-linecap="round" />
<text x="333" y="158.2" font-size="9.6" font-weight="bold" textLength="92" lengthAdjust="spacingAndGlyphs"><tspan font-style="italic">K</tspan><tspan font-size="6.5" font-style="italic" dy="1.5">d</tspan><tspan dy="-1.5"> = 0.052</tspan><tspan font-size="13" font-weight="normal" dy="0.5">±</tspan><tspan dy="-0.5">0.022 μM</tspan></text>
<text x="421" y="24" font-size="13.5" font-weight="bold" text-anchor="start" fill="#000" >C</text>
<line x1="445.5" y1="34.3" x2="445.5" y2="171.5" stroke="#000" stroke-width="1.6" />
<line x1="444.7" y1="170.8" x2="613" y2="170.8" stroke="#000" stroke-width="1.6" />
<line x1="443.0" y1="43.51999999999998" x2="447.0" y2="43.51999999999998" stroke="#000" stroke-width="1.3" />
<text x="442.8" y="47.31999999999998" font-size="10.5" font-weight="bold" text-anchor="end" fill="#000" >1.2</text>
<line x1="443.0" y1="80.07999999999998" x2="447.0" y2="80.07999999999998" stroke="#000" stroke-width="1.3" />
<text x="442.8" y="83.87999999999998" font-size="10.5" font-weight="bold" text-anchor="end" fill="#000" >0.8</text>
<line x1="443.0" y1="116.63999999999999" x2="447.0" y2="116.63999999999999" stroke="#000" stroke-width="1.3" />
<text x="442.8" y="120.43999999999998" font-size="10.5" font-weight="bold" text-anchor="end" fill="#000" >0.4</text>
<line x1="443.0" y1="153.2" x2="447.0" y2="153.2" stroke="#000" stroke-width="1.3" />
<text x="442.8" y="157.0" font-size="10.5" font-weight="bold" text-anchor="end" fill="#000" >0</text>
<line x1="443.5" y1="61.79999999999998" x2="445.5" y2="61.79999999999998" stroke="#000" stroke-width="1.3" />
<line x1="443.5" y1="98.35999999999999" x2="445.5" y2="98.35999999999999" stroke="#000" stroke-width="1.3" />
<line x1="443.5" y1="134.92" x2="445.5" y2="134.92" stroke="#000" stroke-width="1.3" />
<line x1="443.5" y1="171.48" x2="445.5" y2="171.48" stroke="#000" stroke-width="1.3" />
<line x1="448.9" y1="170.8" x2="448.9" y2="172.8" stroke="#000" stroke-width="0.8" />
<line x1="454.9" y1="170.8" x2="454.9" y2="172.8" stroke="#000" stroke-width="0.8" />
<line x1="459.3" y1="170.8" x2="459.3" y2="172.8" stroke="#000" stroke-width="0.8" />
<line x1="462.6" y1="170.8" x2="462.6" y2="172.8" stroke="#000" stroke-width="0.8" />
<line x1="465.3" y1="170.8" x2="465.3" y2="172.8" stroke="#000" stroke-width="0.8" />
<line x1="467.6" y1="170.8" x2="467.6" y2="172.8" stroke="#000" stroke-width="0.8" />
<line x1="469.6" y1="170.8" x2="469.6" y2="172.8" stroke="#000" stroke-width="0.8" />
<line x1="471.4" y1="170.8" x2="471.4" y2="172.8" stroke="#000" stroke-width="0.8" />
<line x1="473.0" y1="170.8" x2="473.0" y2="173.5" stroke="#000" stroke-width="1" />
<line x1="483.4" y1="170.8" x2="483.4" y2="172.8" stroke="#000" stroke-width="0.8" />
<line x1="489.4" y1="170.8" x2="489.4" y2="172.8" stroke="#000" stroke-width="0.8" />
<line x1="493.8" y1="170.8" x2="493.8" y2="172.8" stroke="#000" stroke-width="0.8" />
<line x1="497.1" y1="170.8" x2="497.1" y2="172.8" stroke="#000" stroke-width="0.8" />
<line x1="499.8" y1="170.8" x2="499.8" y2="172.8" stroke="#000" stroke-width="0.8" />
<line x1="502.1" y1="170.8" x2="502.1" y2="172.8" stroke="#000" stroke-width="0.8" />
<line x1="504.1" y1="170.8" x2="504.1" y2="172.8" stroke="#000" stroke-width="0.8" />
<line x1="505.9" y1="170.8" x2="505.9" y2="172.8" stroke="#000" stroke-width="0.8" />
<line x1="507.5" y1="170.8" x2="507.5" y2="173.5" stroke="#000" stroke-width="1" />
<line x1="517.9" y1="170.8" x2="517.9" y2="172.8" stroke="#000" stroke-width="0.8" />
<line x1="523.9" y1="170.8" x2="523.9" y2="172.8" stroke="#000" stroke-width="0.8" />
<line x1="528.3" y1="170.8" x2="528.3" y2="172.8" stroke="#000" stroke-width="0.8" />
<line x1="531.6" y1="170.8" x2="531.6" y2="172.8" stroke="#000" stroke-width="0.8" />
<line x1="534.3" y1="170.8" x2="534.3" y2="172.8" stroke="#000" stroke-width="0.8" />
<line x1="536.6" y1="170.8" x2="536.6" y2="172.8" stroke="#000" stroke-width="0.8" />
<line x1="538.6" y1="170.8" x2="538.6" y2="172.8" stroke="#000" stroke-width="0.8" />
<line x1="540.4" y1="170.8" x2="540.4" y2="172.8" stroke="#000" stroke-width="0.8" />
<line x1="542.0" y1="170.8" x2="542.0" y2="173.5" stroke="#000" stroke-width="1" />
<line x1="552.4" y1="170.8" x2="552.4" y2="172.8" stroke="#000" stroke-width="0.8" />
<line x1="558.4" y1="170.8" x2="558.4" y2="172.8" stroke="#000" stroke-width="0.8" />
<line x1="562.8" y1="170.8" x2="562.8" y2="172.8" stroke="#000" stroke-width="0.8" />
<line x1="566.1" y1="170.8" x2="566.1" y2="172.8" stroke="#000" stroke-width="0.8" />
<line x1="568.8" y1="170.8" x2="568.8" y2="172.8" stroke="#000" stroke-width="0.8" />
<line x1="571.1" y1="170.8" x2="571.1" y2="172.8" stroke="#000" stroke-width="0.8" />
<line x1="573.1" y1="170.8" x2="573.1" y2="172.8" stroke="#000" stroke-width="0.8" />
<line x1="574.9" y1="170.8" x2="574.9" y2="172.8" stroke="#000" stroke-width="0.8" />
<line x1="576.5" y1="170.8" x2="576.5" y2="173.5" stroke="#000" stroke-width="1" />
<line x1="586.9" y1="170.8" x2="586.9" y2="172.8" stroke="#000" stroke-width="0.8" />
<line x1="592.9" y1="170.8" x2="592.9" y2="172.8" stroke="#000" stroke-width="0.8" />
<line x1="597.3" y1="170.8" x2="597.3" y2="172.8" stroke="#000" stroke-width="0.8" />
<line x1="600.6" y1="170.8" x2="600.6" y2="172.8" stroke="#000" stroke-width="0.8" />
<line x1="603.3" y1="170.8" x2="603.3" y2="172.8" stroke="#000" stroke-width="0.8" />
<line x1="605.6" y1="170.8" x2="605.6" y2="172.8" stroke="#000" stroke-width="0.8" />
<line x1="607.6" y1="170.8" x2="607.6" y2="172.8" stroke="#000" stroke-width="0.8" />
<line x1="609.4" y1="170.8" x2="609.4" y2="172.8" stroke="#000" stroke-width="0.8" />
<text x="462.6" y="183.7" font-size="10.2" font-weight="bold" text-anchor="middle" fill="#000" >0.005</text>
<text x="499.5" y="183.7" font-size="10.2" font-weight="bold" text-anchor="middle" fill="#000" >0.05</text>
<text x="533.6" y="183.7" font-size="10.2" font-weight="bold" text-anchor="middle" fill="#000" >0.5</text>
<text x="559.2" y="183.7" font-size="10.2" font-weight="bold" text-anchor="middle" fill="#000" >5</text>
<text x="595.9" y="183.7" font-size="10.2" font-weight="bold" text-anchor="middle" fill="#000" >50</text>
<text x="464.7" y="194.5" font-size="10.3" font-weight="bold" text-anchor="start" fill="#000" textLength="143.9" lengthAdjust="spacingAndGlyphs" >Concentration of Chitin (μM)</text>
<rect x="453.2" y="39.2" width="5" height="5" fill="#000"/>
<circle cx="455.7" cy="51.9" r="3" fill="#E41A1C"/>
<polygon points="452.5,64.1 458.9,64.1 455.7,58.5" fill="#1F4E9C"/>
<polygon points="452.5,70.2 458.9,70.2 455.7,75.8" fill="#2E7D7A"/>
<text x="463.5" y="44.1" font-size="9" font-weight="bold" text-anchor="start" fill="#000" textLength="29.6" lengthAdjust="spacingAndGlyphs" >MoChia1</text>
<text x="463.5" y="55.1" font-size="9" font-weight="bold" text-anchor="start" fill="#000" textLength="95" lengthAdjust="spacingAndGlyphs" xml:space="preserve">MoChia1+OsTPR1  (20  μM)</text>
<text x="463.5" y="65" font-size="9" font-weight="bold" text-anchor="start" fill="#000" textLength="96.5" lengthAdjust="spacingAndGlyphs" xml:space="preserve">MoChia1+OsTPR1(100   μM)</text>
<text x="464.4" y="76.3" font-size="9" font-weight="bold" text-anchor="start" fill="#000" textLength="29.1" lengthAdjust="spacingAndGlyphs" >OsTPR1</text>
<text x="470.4" y="96.9" font-size="8.6" font-weight="bold" textLength="70.3" lengthAdjust="spacingAndGlyphs" xml:space="preserve"><tspan font-style="italic">K</tspan><tspan font-size="6" font-style="italic" dy="1.2">d</tspan><tspan dy="-1.2"> = 0.31 </tspan><tspan font-size="12" font-weight="normal" dy="0.6">±</tspan><tspan dy="-0.6"> 0.07  μM</tspan></text>
<text x="552" y="130.1" font-size="8.6" font-weight="bold" textLength="66.8" lengthAdjust="spacingAndGlyphs" xml:space="preserve"><tspan font-style="italic">K</tspan><tspan font-size="6" font-style="italic" dy="1.2">d</tspan><tspan dy="-1.2"> = 1.34 </tspan><tspan font-size="12" font-weight="normal" dy="0.6">±</tspan><tspan dy="-0.6"> 0.57  μM</tspan></text>
<line x1="468.9" y1="155.4" x2="612" y2="144.7" stroke="#56687F" stroke-width="1.8" />
<line x1="468.9" y1="155.4" x2="612" y2="152.3" stroke="#1F3F7A" stroke-width="1.8" />
<line x1="468.2" y1="144.7" x2="468.2" y2="156.7" stroke="#2E8B85" stroke-width="0.9" />
<line x1="466.4" y1="144.7" x2="470.0" y2="144.7" stroke="#2E8B85" stroke-width="0.9" />
<line x1="466.4" y1="156.7" x2="470.0" y2="156.7" stroke="#2E8B85" stroke-width="0.9" />
<line x1="477.9" y1="146.7" x2="477.9" y2="154.7" stroke="#2E8B85" stroke-width="0.9" />
<line x1="476.09999999999997" y1="146.7" x2="479.7" y2="146.7" stroke="#2E8B85" stroke-width="0.9" />
<line x1="476.09999999999997" y1="154.7" x2="479.7" y2="154.7" stroke="#2E8B85" stroke-width="0.9" />
<line x1="487.7" y1="135.7" x2="487.7" y2="159.7" stroke="#2E8B85" stroke-width="0.9" />
<line x1="485.9" y1="135.7" x2="489.5" y2="135.7" stroke="#2E8B85" stroke-width="0.9" />
<line x1="485.9" y1="159.7" x2="489.5" y2="159.7" stroke="#2E8B85" stroke-width="0.9" />
<line x1="496.6" y1="140.2" x2="496.6" y2="152.2" stroke="#2E8B85" stroke-width="0.9" />
<line x1="494.8" y1="140.2" x2="498.40000000000003" y2="140.2" stroke="#2E8B85" stroke-width="0.9" />
<line x1="494.8" y1="152.2" x2="498.40000000000003" y2="152.2" stroke="#2E8B85" stroke-width="0.9" />
<line x1="515.4" y1="151.9" x2="515.4" y2="159.9" stroke="#2E8B85" stroke-width="0.9" />
<line x1="513.6" y1="151.9" x2="517.1999999999999" y2="151.9" stroke="#2E8B85" stroke-width="0.9" />
<line x1="513.6" y1="159.9" x2="517.1999999999999" y2="159.9" stroke="#2E8B85" stroke-width="0.9" />
<line x1="525.1" y1="153.7" x2="525.1" y2="159.7" stroke="#2E8B85" stroke-width="0.9" />
<line x1="523.3000000000001" y1="153.7" x2="526.9" y2="153.7" stroke="#2E8B85" stroke-width="0.9" />
<line x1="523.3000000000001" y1="159.7" x2="526.9" y2="159.7" stroke="#2E8B85" stroke-width="0.9" />
<line x1="534.3" y1="154.7" x2="534.3" y2="160.7" stroke="#2E8B85" stroke-width="0.9" />
<line x1="532.5" y1="154.7" x2="536.0999999999999" y2="154.7" stroke="#2E8B85" stroke-width="0.9" />
<line x1="532.5" y1="160.7" x2="536.0999999999999" y2="160.7" stroke="#2E8B85" stroke-width="0.9" />
<line x1="544.2" y1="146.6" x2="544.2" y2="154.6" stroke="#2E8B85" stroke-width="0.9" />
<line x1="542.4000000000001" y1="146.6" x2="546.0" y2="146.6" stroke="#2E8B85" stroke-width="0.9" />
<line x1="542.4000000000001" y1="154.6" x2="546.0" y2="154.6" stroke="#2E8B85" stroke-width="0.9" />
<line x1="553.5" y1="159" x2="553.5" y2="165" stroke="#2E8B85" stroke-width="0.9" />
<line x1="551.7" y1="159" x2="555.3" y2="159" stroke="#2E8B85" stroke-width="0.9" />
<line x1="551.7" y1="165" x2="555.3" y2="165" stroke="#2E8B85" stroke-width="0.9" />
<line x1="563.5" y1="137" x2="563.5" y2="143" stroke="#2E8B85" stroke-width="0.9" />
<line x1="561.7" y1="137" x2="565.3" y2="137" stroke="#2E8B85" stroke-width="0.9" />
<line x1="561.7" y1="143" x2="565.3" y2="143" stroke="#2E8B85" stroke-width="0.9" />
<line x1="572.7" y1="142.6" x2="572.7" y2="158.6" stroke="#2E8B85" stroke-width="0.9" />
<line x1="570.9000000000001" y1="142.6" x2="574.5" y2="142.6" stroke="#2E8B85" stroke-width="0.9" />
<line x1="570.9000000000001" y1="158.6" x2="574.5" y2="158.6" stroke="#2E8B85" stroke-width="0.9" />
<line x1="582.7" y1="132.5" x2="582.7" y2="144.5" stroke="#2E8B85" stroke-width="0.9" />
<line x1="580.9000000000001" y1="132.5" x2="584.5" y2="132.5" stroke="#2E8B85" stroke-width="0.9" />
<line x1="580.9000000000001" y1="144.5" x2="584.5" y2="144.5" stroke="#2E8B85" stroke-width="0.9" />
<line x1="592" y1="136.9" x2="592" y2="162.9" stroke="#2E8B85" stroke-width="0.9" />
<line x1="590.2" y1="136.9" x2="593.8" y2="136.9" stroke="#2E8B85" stroke-width="0.9" />
<line x1="590.2" y1="162.9" x2="593.8" y2="162.9" stroke="#2E8B85" stroke-width="0.9" />
<line x1="601.2" y1="154" x2="601.2" y2="160" stroke="#2E8B85" stroke-width="0.9" />
<line x1="599.4000000000001" y1="154" x2="603.0" y2="154" stroke="#2E8B85" stroke-width="0.9" />
<line x1="599.4000000000001" y1="160" x2="603.0" y2="160" stroke="#2E8B85" stroke-width="0.9" />
<line x1="610.5" y1="158" x2="610.5" y2="166" stroke="#2E8B85" stroke-width="0.9" />
<line x1="608.7" y1="158" x2="612.3" y2="158" stroke="#2E8B85" stroke-width="0.9" />
<line x1="608.7" y1="166" x2="612.3" y2="166" stroke="#2E8B85" stroke-width="0.9" />
<line x1="477.9" y1="133" x2="477.9" y2="155" stroke="#2A5CAA" stroke-width="0.9" />
<line x1="476.09999999999997" y1="133" x2="479.7" y2="133" stroke="#2A5CAA" stroke-width="0.9" />
<line x1="476.09999999999997" y1="155" x2="479.7" y2="155" stroke="#2A5CAA" stroke-width="0.9" />
<line x1="487.7" y1="137" x2="487.7" y2="157" stroke="#2A5CAA" stroke-width="0.9" />
<line x1="485.9" y1="137" x2="489.5" y2="137" stroke="#2A5CAA" stroke-width="0.9" />
<line x1="485.9" y1="157" x2="489.5" y2="157" stroke="#2A5CAA" stroke-width="0.9" />
<line x1="496.6" y1="146" x2="496.6" y2="154" stroke="#2A5CAA" stroke-width="0.9" />
<line x1="494.8" y1="146" x2="498.40000000000003" y2="146" stroke="#2A5CAA" stroke-width="0.9" />
<line x1="494.8" y1="154" x2="498.40000000000003" y2="154" stroke="#2A5CAA" stroke-width="0.9" />
<line x1="506.4" y1="150.4" x2="506.4" y2="170.4" stroke="#2A5CAA" stroke-width="0.9" />
<line x1="504.59999999999997" y1="150.4" x2="508.2" y2="150.4" stroke="#2A5CAA" stroke-width="0.9" />
<line x1="504.59999999999997" y1="170.4" x2="508.2" y2="170.4" stroke="#2A5CAA" stroke-width="0.9" />
<line x1="515.4" y1="143.7" x2="515.4" y2="151.7" stroke="#2A5CAA" stroke-width="0.9" />
<line x1="513.6" y1="143.7" x2="517.1999999999999" y2="143.7" stroke="#2A5CAA" stroke-width="0.9" />
<line x1="513.6" y1="151.7" x2="517.1999999999999" y2="151.7" stroke="#2A5CAA" stroke-width="0.9" />
<line x1="525.1" y1="139.7" x2="525.1" y2="155.7" stroke="#2A5CAA" stroke-width="0.9" />
<line x1="523.3000000000001" y1="139.7" x2="526.9" y2="139.7" stroke="#2A5CAA" stroke-width="0.9" />
<line x1="523.3000000000001" y1="155.7" x2="526.9" y2="155.7" stroke="#2A5CAA" stroke-width="0.9" />
<line x1="544.2" y1="138.9" x2="544.2" y2="150.9" stroke="#2A5CAA" stroke-width="0.9" />
<line x1="542.4000000000001" y1="138.9" x2="546.0" y2="138.9" stroke="#2A5CAA" stroke-width="0.9" />
<line x1="542.4000000000001" y1="150.9" x2="546.0" y2="150.9" stroke="#2A5CAA" stroke-width="0.9" />
<line x1="553.5" y1="153.3" x2="553.5" y2="159.3" stroke="#2A5CAA" stroke-width="0.9" />
<line x1="551.7" y1="153.3" x2="555.3" y2="153.3" stroke="#2A5CAA" stroke-width="0.9" />
<line x1="551.7" y1="159.3" x2="555.3" y2="159.3" stroke="#2A5CAA" stroke-width="0.9" />
<line x1="563.5" y1="151.2" x2="563.5" y2="157.2" stroke="#2A5CAA" stroke-width="0.9" />
<line x1="561.7" y1="151.2" x2="565.3" y2="151.2" stroke="#2A5CAA" stroke-width="0.9" />
<line x1="561.7" y1="157.2" x2="565.3" y2="157.2" stroke="#2A5CAA" stroke-width="0.9" />
<line x1="582.7" y1="140.2" x2="582.7" y2="158.2" stroke="#2A5CAA" stroke-width="0.9" />
<line x1="580.9000000000001" y1="140.2" x2="584.5" y2="140.2" stroke="#2A5CAA" stroke-width="0.9" />
<line x1="580.9000000000001" y1="158.2" x2="584.5" y2="158.2" stroke="#2A5CAA" stroke-width="0.9" />
<line x1="610.5" y1="149" x2="610.5" y2="155" stroke="#2A5CAA" stroke-width="0.9" />
<line x1="608.7" y1="149" x2="612.3" y2="149" stroke="#2A5CAA" stroke-width="0.9" />
<line x1="608.7" y1="155" x2="612.3" y2="155" stroke="#2A5CAA" stroke-width="0.9" />
<line x1="468.2" y1="152.9" x2="468.2" y2="158.9" stroke="#D94040" stroke-width="0.9" />
<line x1="466.4" y1="152.9" x2="470.0" y2="152.9" stroke="#D94040" stroke-width="0.9" />
<line x1="466.4" y1="158.9" x2="470.0" y2="158.9" stroke="#D94040" stroke-width="0.9" />
<line x1="477.9" y1="160.9" x2="477.9" y2="168.9" stroke="#D94040" stroke-width="0.9" />
<line x1="476.09999999999997" y1="160.9" x2="479.7" y2="160.9" stroke="#D94040" stroke-width="0.9" />
<line x1="476.09999999999997" y1="168.9" x2="479.7" y2="168.9" stroke="#D94040" stroke-width="0.9" />
<line x1="496.6" y1="152.2" x2="496.6" y2="158.2" stroke="#D94040" stroke-width="0.9" />
<line x1="494.8" y1="152.2" x2="498.40000000000003" y2="152.2" stroke="#D94040" stroke-width="0.9" />
<line x1="494.8" y1="158.2" x2="498.40000000000003" y2="158.2" stroke="#D94040" stroke-width="0.9" />
<line x1="506.4" y1="142.9" x2="506.4" y2="150.9" stroke="#D94040" stroke-width="0.9" />
<line x1="504.59999999999997" y1="142.9" x2="508.2" y2="142.9" stroke="#D94040" stroke-width="0.9" />
<line x1="504.59999999999997" y1="150.9" x2="508.2" y2="150.9" stroke="#D94040" stroke-width="0.9" />
<line x1="534.8" y1="135.7" x2="534.8" y2="141.7" stroke="#D94040" stroke-width="0.9" />
<line x1="533.0" y1="135.7" x2="536.5999999999999" y2="135.7" stroke="#D94040" stroke-width="0.9" />
<line x1="533.0" y1="141.7" x2="536.5999999999999" y2="141.7" stroke="#D94040" stroke-width="0.9" />
<line x1="544.4" y1="122" x2="544.4" y2="128" stroke="#D94040" stroke-width="0.9" />
<line x1="542.6" y1="122" x2="546.1999999999999" y2="122" stroke="#D94040" stroke-width="0.9" />
<line x1="542.6" y1="128" x2="546.1999999999999" y2="128" stroke="#D94040" stroke-width="0.9" />
<line x1="563.9" y1="102.4" x2="563.9" y2="116.4" stroke="#D94040" stroke-width="0.9" />
<line x1="562.1" y1="102.4" x2="565.6999999999999" y2="102.4" stroke="#D94040" stroke-width="0.9" />
<line x1="562.1" y1="116.4" x2="565.6999999999999" y2="116.4" stroke="#D94040" stroke-width="0.9" />
<line x1="572.8" y1="80.1" x2="572.8" y2="100.1" stroke="#D94040" stroke-width="0.9" />
<line x1="571.0" y1="80.1" x2="574.5999999999999" y2="80.1" stroke="#D94040" stroke-width="0.9" />
<line x1="571.0" y1="100.1" x2="574.5999999999999" y2="100.1" stroke="#D94040" stroke-width="0.9" />
<line x1="581.7" y1="92.5" x2="581.7" y2="96.5" stroke="#D94040" stroke-width="0.9" />
<line x1="579.9000000000001" y1="92.5" x2="583.5" y2="92.5" stroke="#D94040" stroke-width="0.9" />
<line x1="579.9000000000001" y1="96.5" x2="583.5" y2="96.5" stroke="#D94040" stroke-width="0.9" />
<line x1="592.1" y1="50.3" x2="592.1" y2="88.3" stroke="#D94040" stroke-width="0.9" />
<line x1="590.3000000000001" y1="50.3" x2="593.9" y2="50.3" stroke="#D94040" stroke-width="0.9" />
<line x1="590.3000000000001" y1="88.3" x2="593.9" y2="88.3" stroke="#D94040" stroke-width="0.9" />
<line x1="610.8" y1="43.9" x2="610.8" y2="79.9" stroke="#D94040" stroke-width="0.9" />
<line x1="609.0" y1="43.9" x2="612.5999999999999" y2="43.9" stroke="#D94040" stroke-width="0.9" />
<line x1="609.0" y1="79.9" x2="612.5999999999999" y2="79.9" stroke="#D94040" stroke-width="0.9" />
<line x1="468.2" y1="148.2" x2="468.2" y2="168.2" stroke="#000" stroke-width="0.9" />
<line x1="466.4" y1="148.2" x2="470.0" y2="148.2" stroke="#000" stroke-width="0.9" />
<line x1="466.4" y1="168.2" x2="470.0" y2="168.2" stroke="#000" stroke-width="0.9" />
<line x1="477.9" y1="148.2" x2="477.9" y2="156.2" stroke="#000" stroke-width="0.9" />
<line x1="476.09999999999997" y1="148.2" x2="479.7" y2="148.2" stroke="#000" stroke-width="0.9" />
<line x1="476.09999999999997" y1="156.2" x2="479.7" y2="156.2" stroke="#000" stroke-width="0.9" />
<line x1="487.7" y1="158.2" x2="487.7" y2="164.2" stroke="#000" stroke-width="0.9" />
<line x1="485.9" y1="158.2" x2="489.5" y2="158.2" stroke="#000" stroke-width="0.9" />
<line x1="485.9" y1="164.2" x2="489.5" y2="164.2" stroke="#000" stroke-width="0.9" />
<line x1="506.4" y1="126.5" x2="506.4" y2="158.5" stroke="#000" stroke-width="0.9" />
<line x1="504.59999999999997" y1="126.5" x2="508.2" y2="126.5" stroke="#000" stroke-width="0.9" />
<line x1="504.59999999999997" y1="158.5" x2="508.2" y2="158.5" stroke="#000" stroke-width="0.9" />
<line x1="516.1" y1="133.7" x2="516.1" y2="143.7" stroke="#000" stroke-width="0.9" />
<line x1="514.3000000000001" y1="133.7" x2="517.9" y2="133.7" stroke="#000" stroke-width="0.9" />
<line x1="514.3000000000001" y1="143.7" x2="517.9" y2="143.7" stroke="#000" stroke-width="0.9" />
<line x1="525.8" y1="123" x2="525.8" y2="129" stroke="#000" stroke-width="0.9" />
<line x1="524.0" y1="123" x2="527.5999999999999" y2="123" stroke="#000" stroke-width="0.9" />
<line x1="524.0" y1="129" x2="527.5999999999999" y2="129" stroke="#000" stroke-width="0.9" />
<line x1="535.5" y1="112.9" x2="535.5" y2="124.9" stroke="#000" stroke-width="0.9" />
<line x1="533.7" y1="112.9" x2="537.3" y2="112.9" stroke="#000" stroke-width="0.9" />
<line x1="533.7" y1="124.9" x2="537.3" y2="124.9" stroke="#000" stroke-width="0.9" />
<line x1="545" y1="109" x2="545" y2="123" stroke="#000" stroke-width="0.9" />
<line x1="543.2" y1="109" x2="546.8" y2="109" stroke="#000" stroke-width="0.9" />
<line x1="543.2" y1="123" x2="546.8" y2="123" stroke="#000" stroke-width="0.9" />
<line x1="554.4" y1="88.6" x2="554.4" y2="94.6" stroke="#000" stroke-width="0.9" />
<line x1="552.6" y1="88.6" x2="556.1999999999999" y2="88.6" stroke="#000" stroke-width="0.9" />
<line x1="552.6" y1="94.6" x2="556.1999999999999" y2="94.6" stroke="#000" stroke-width="0.9" />
<line x1="572.2" y1="47.8" x2="572.2" y2="81.8" stroke="#000" stroke-width="0.9" />
<line x1="570.4000000000001" y1="47.8" x2="574.0" y2="47.8" stroke="#000" stroke-width="0.9" />
<line x1="570.4000000000001" y1="81.8" x2="574.0" y2="81.8" stroke="#000" stroke-width="0.9" />
<line x1="581.7" y1="57.8" x2="581.7" y2="77.8" stroke="#000" stroke-width="0.9" />
<line x1="579.9000000000001" y1="57.8" x2="583.5" y2="57.8" stroke="#000" stroke-width="0.9" />
<line x1="579.9000000000001" y1="77.8" x2="583.5" y2="77.8" stroke="#000" stroke-width="0.9" />
<line x1="591.5" y1="52.9" x2="591.5" y2="70.9" stroke="#000" stroke-width="0.9" />
<line x1="589.7" y1="52.9" x2="593.3" y2="52.9" stroke="#000" stroke-width="0.9" />
<line x1="589.7" y1="70.9" x2="593.3" y2="70.9" stroke="#000" stroke-width="0.9" />
<line x1="601" y1="48.4" x2="601" y2="78.4" stroke="#000" stroke-width="0.9" />
<line x1="599.2" y1="48.4" x2="602.8" y2="48.4" stroke="#000" stroke-width="0.9" />
<line x1="599.2" y1="78.4" x2="602.8" y2="78.4" stroke="#000" stroke-width="0.9" />
<line x1="610.8" y1="54.8" x2="610.8" y2="74.8" stroke="#000" stroke-width="0.9" />
<line x1="609.0" y1="54.8" x2="612.5999999999999" y2="54.8" stroke="#000" stroke-width="0.9" />
<line x1="609.0" y1="74.8" x2="612.5999999999999" y2="74.8" stroke="#000" stroke-width="0.9" />
<polyline points="468.9,155.4 469.9,155.3 471.2,155.1 472.7,155.0 474.4,154.8 476.2,154.6 478.2,154.4 480.2,154.1 482.2,153.8 484.2,153.5 486.2,153.2 488.0,152.8 489.7,152.4 491.3,152.0 492.9,151.5 494.4,151.0 496.0,150.5 497.5,149.9 499.0,149.4 500.4,148.7 501.9,148.1 503.3,147.4 504.7,146.6 506.1,145.8 507.5,145.0 508.8,144.1 510.2,143.1 511.5,142.1 512.8,141.0 514.0,139.9 515.3,138.8 516.5,137.6 517.7,136.4 518.9,135.2 520.0,134.0 521.2,132.8 522.3,131.6 523.4,130.4 524.5,129.2 525.5,128.0 526.5,126.8 527.5,125.6 528.4,124.4 529.4,123.1 530.3,121.9 531.3,120.6 532.3,119.4 533.2,118.1 534.2,116.8 535.2,115.5 536.2,114.2 537.2,112.8 538.2,111.5 539.2,110.1 540.2,108.8 541.1,107.4 542.1,106.0 543.1,104.6 544.1,103.2 545.1,101.9 546.1,100.5 547.1,99.1 548.0,97.7 549.0,96.3 550.0,94.9 550.9,93.4 551.9,92.0 552.8,90.6 553.8,89.2 554.8,87.9 555.8,86.6 556.9,85.3 558.0,84.1 559.1,82.9 560.3,81.8 561.4,80.7 562.6,79.7 563.8,78.6 565.0,77.6 566.3,76.7 567.5,75.7 568.8,74.8 570.1,74.0 571.5,73.1 572.8,72.3 574.2,71.5 575.6,70.7 577.0,70.0 578.5,69.3 580.0,68.6 581.5,68.0 583.0,67.4 584.6,66.8 586.1,66.3 587.6,65.7 589.1,65.3 590.6,64.8 592.1,64.4 593.7,64.0 595.4,63.7 597.1,63.4 598.7,63.1 600.4,62.9 602.0,62.7 603.5,62.5 604.9,62.3 606.3,62.2 607.4,62.0 608.4,61.9 609.2,61.8 609.9,61.7 610.4,61.6 610.8,61.6 611.1,61.6 611.3,61.6 611.5,61.6 611.6,61.6 611.7,61.6 611.8,61.6 611.9,61.6 612.0,61.6" fill="none" stroke="#000" stroke-width="1.6" stroke-linejoin="round" stroke-linecap="round" />
<polyline points="468.9,155.4 470.7,155.3 472.9,155.1 475.6,154.9 478.7,154.7 482.0,154.5 485.4,154.3 488.9,154.0 492.4,153.7 495.8,153.4 499.0,153.1 501.9,152.8 504.5,152.4 506.8,152.0 508.9,151.6 510.9,151.2 512.9,150.7 514.7,150.2 516.4,149.7 518.0,149.2 519.6,148.7 521.1,148.2 522.5,147.6 523.9,147.1 525.3,146.5 526.6,145.9 527.8,145.4 528.9,144.9 529.9,144.3 530.9,143.8 531.8,143.2 532.7,142.6 533.6,142.0 534.4,141.3 535.3,140.6 536.2,139.8 537.2,139.0 538.2,138.1 539.1,137.2 540.1,136.2 541.0,135.2 542.0,134.1 542.9,133.0 543.9,131.9 544.8,130.7 545.8,129.5 546.9,128.2 547.9,127.0 549.0,125.7 550.1,124.4 551.3,123.0 552.6,121.6 553.8,120.1 555.1,118.6 556.4,117.1 557.7,115.5 559.0,114.0 560.3,112.5 561.6,110.9 562.8,109.4 563.9,107.9 565.0,106.4 566.0,104.9 567.0,103.4 568.0,101.9 568.9,100.3 569.9,98.8 570.8,97.3 571.7,95.8 572.7,94.3 573.7,92.9 574.7,91.5 575.8,90.1 576.9,88.8 578.0,87.4 579.2,86.1 580.4,84.9 581.5,83.6 582.7,82.4 584.0,81.1 585.2,79.9 586.5,78.7 587.8,77.6 589.2,76.4 590.6,75.2 592.1,74.0 593.8,72.7 595.5,71.5 597.3,70.2 599.2,68.9 601.0,67.7 602.8,66.5 604.6,65.3 606.2,64.3 607.6,63.4 608.9,62.6 609.9,61.9 610.7,61.4 611.3,61.0 611.7,60.8 612.0,60.7 612.1,60.7 612.2,60.7 612.1,60.8 612.1,60.9 612.0,61.0 612.0,61.1 612.0,61.2 612.0,61.2" fill="none" stroke="#E41A1C" stroke-width="1.6" stroke-linejoin="round" stroke-linecap="round" />
<polygon points="464.7,147.89999999999998 471.7,147.89999999999998 468.2,154.0" fill="#2E8B85"/>
<polygon points="474.4,147.89999999999998 481.4,147.89999999999998 477.9,154.0" fill="#2E8B85"/>
<polygon points="484.2,144.89999999999998 491.2,144.89999999999998 487.7,151.0" fill="#2E8B85"/>
<polygon points="493.1,143.39999999999998 500.1,143.39999999999998 496.6,149.5" fill="#2E8B85"/>
<polygon points="511.9,153.1 518.9,153.1 515.4,159.20000000000002" fill="#2E8B85"/>
<polygon points="521.6,153.89999999999998 528.6,153.89999999999998 525.1,160.0" fill="#2E8B85"/>
<polygon points="530.8,154.89999999999998 537.8,154.89999999999998 534.3,161.0" fill="#2E8B85"/>
<polygon points="540.7,147.79999999999998 547.7,147.79999999999998 544.2,153.9" fill="#2E8B85"/>
<polygon points="550.0,159.2 557.0,159.2 553.5,165.3" fill="#2E8B85"/>
<polygon points="560.0,137.2 567.0,137.2 563.5,143.3" fill="#2E8B85"/>
<polygon points="569.2,147.79999999999998 576.2,147.79999999999998 572.7,153.9" fill="#2E8B85"/>
<polygon points="579.2,135.7 586.2,135.7 582.7,141.8" fill="#2E8B85"/>
<polygon points="588.5,147.1 595.5,147.1 592,153.20000000000002" fill="#2E8B85"/>
<polygon points="597.7,154.2 604.7,154.2 601.2,160.3" fill="#2E8B85"/>
<polygon points="607.0,159.2 614.0,159.2 610.5,165.3" fill="#2E8B85"/>
<polygon points="474.4,146.8 481.4,146.8 477.9,140.7" fill="#2A5CAA"/>
<polygon points="484.2,149.8 491.2,149.8 487.7,143.7" fill="#2A5CAA"/>
<polygon points="493.1,152.8 500.1,152.8 496.6,146.7" fill="#2A5CAA"/>
<polygon points="502.9,163.20000000000002 509.9,163.20000000000002 506.4,157.1" fill="#2A5CAA"/>
<polygon points="511.9,150.5 518.9,150.5 515.4,144.39999999999998" fill="#2A5CAA"/>
<polygon points="521.6,150.5 528.6,150.5 525.1,144.39999999999998" fill="#2A5CAA"/>
<polygon points="540.7,147.70000000000002 547.7,147.70000000000002 544.2,141.6" fill="#2A5CAA"/>
<polygon points="550.0,159.10000000000002 557.0,159.10000000000002 553.5,153.0" fill="#2A5CAA"/>
<polygon points="560.0,157.0 567.0,157.0 563.5,150.89999999999998" fill="#2A5CAA"/>
<polygon points="579.2,152.0 586.2,152.0 582.7,145.89999999999998" fill="#2A5CAA"/>
<polygon points="607.0,154.8 614.0,154.8 610.5,148.7" fill="#2A5CAA"/>
<circle cx="468.2" cy="155.9" r="2.8" fill="#E41A1C"/>
<circle cx="477.9" cy="164.9" r="2.8" fill="#E41A1C"/>
<circle cx="496.6" cy="155.2" r="2.8" fill="#E41A1C"/>
<circle cx="506.4" cy="146.9" r="2.8" fill="#E41A1C"/>
<circle cx="534.8" cy="138.7" r="2.8" fill="#E41A1C"/>
<circle cx="544.4" cy="125" r="2.8" fill="#E41A1C"/>
<circle cx="563.9" cy="109.4" r="2.8" fill="#E41A1C"/>
<circle cx="572.8" cy="90.1" r="2.8" fill="#E41A1C"/>
<circle cx="581.7" cy="94.5" r="2.8" fill="#E41A1C"/>
<circle cx="592.1" cy="69.3" r="2.8" fill="#E41A1C"/>
<circle cx="610.8" cy="61.9" r="2.8" fill="#E41A1C"/>
<rect x="465.9" y="155.6" width="4.6" height="5.2" fill="#000"/>
<rect x="475.59999999999997" y="149.6" width="4.6" height="5.2" fill="#000"/>
<rect x="485.4" y="158.6" width="4.6" height="5.2" fill="#000"/>
<rect x="504.09999999999997" y="139.9" width="4.6" height="5.2" fill="#000"/>
<rect x="513.8000000000001" y="136.1" width="4.6" height="5.2" fill="#000"/>
<rect x="523.5" y="123.4" width="4.6" height="5.2" fill="#000"/>
<rect x="533.2" y="116.30000000000001" width="4.6" height="5.2" fill="#000"/>
<rect x="542.7" y="113.4" width="4.6" height="5.2" fill="#000"/>
<rect x="552.1" y="89.0" width="4.6" height="5.2" fill="#000"/>
<rect x="569.9000000000001" y="62.199999999999996" width="4.6" height="5.2" fill="#000"/>
<rect x="579.4000000000001" y="65.2" width="4.6" height="5.2" fill="#000"/>
<rect x="589.2" y="59.3" width="4.6" height="5.2" fill="#000"/>
<rect x="598.7" y="60.8" width="4.6" height="5.2" fill="#000"/>
<rect x="608.5" y="62.199999999999996" width="4.6" height="5.2" fill="#000"/>
<text x="10.8" y="213.6" font-size="13" font-weight="bold" text-anchor="start" fill="#000" >D</text>
<text x="101.7" y="222.6" font-size="10.5" font-weight="bold" text-anchor="start" fill="#000" textLength="34.5" lengthAdjust="spacingAndGlyphs" >10 min</text>
<text x="250" y="224.4" font-size="10.5" font-weight="bold" text-anchor="start" fill="#000" textLength="35.8" lengthAdjust="spacingAndGlyphs" >90 min</text>
<line x1="63.6" y1="227.2" x2="63.6" y2="361.2" stroke="#000" stroke-width="2" />
<line x1="62.6" y1="360.2" x2="186.39999999999998" y2="360.2" stroke="#000" stroke-width="2" />
<line x1="60.1" y1="360.2" x2="63.6" y2="360.2" stroke="#000" stroke-width="1.8" />
<text x="55" y="364.0" font-size="10.5" font-weight="bold" text-anchor="end" fill="#000" >0</text>
<line x1="60.1" y1="333.599" x2="63.6" y2="333.599" stroke="#000" stroke-width="1.8" />
<text x="55" y="337.399" font-size="10.5" font-weight="bold" text-anchor="end" fill="#000" >3</text>
<line x1="60.1" y1="306.998" x2="63.6" y2="306.998" stroke="#000" stroke-width="1.8" />
<text x="55" y="310.798" font-size="10.5" font-weight="bold" text-anchor="end" fill="#000" >6</text>
<line x1="60.1" y1="280.397" x2="63.6" y2="280.397" stroke="#000" stroke-width="1.8" />
<text x="55" y="284.197" font-size="10.5" font-weight="bold" text-anchor="end" fill="#000" >9</text>
<line x1="60.1" y1="253.796" x2="63.6" y2="253.796" stroke="#000" stroke-width="1.8" />
<text x="55" y="257.596" font-size="10.5" font-weight="bold" text-anchor="end" fill="#000" >12</text>
<line x1="60.1" y1="227.19499999999996" x2="63.6" y2="227.19499999999996" stroke="#000" stroke-width="1.8" />
<text x="55" y="230.99499999999998" font-size="10.5" font-weight="bold" text-anchor="end" fill="#000" >15</text>
<line x1="64.0" y1="360.2" x2="64.0" y2="364.2" stroke="#000" stroke-width="1.8" />
<line x1="84.4" y1="360.2" x2="84.4" y2="364.2" stroke="#000" stroke-width="1.8" />
<line x1="104.8" y1="360.2" x2="104.8" y2="364.2" stroke="#000" stroke-width="1.8" />
<line x1="125.19999999999999" y1="360.2" x2="125.19999999999999" y2="364.2" stroke="#000" stroke-width="1.8" />
<line x1="145.6" y1="360.2" x2="145.6" y2="364.2" stroke="#000" stroke-width="1.8" />
<line x1="166.0" y1="360.2" x2="166.0" y2="364.2" stroke="#000" stroke-width="1.8" />
<line x1="186.39999999999998" y1="360.2" x2="186.39999999999998" y2="364.2" stroke="#000" stroke-width="1.8" />
<rect x="68.7" y="357.5" width="11" height="2.7" fill="#000"/>
<line x1="74.2" y1="356.83054" x2="74.2" y2="357.5399" stroke="#000" stroke-width="1" />
<line x1="70.9" y1="356.83054" x2="77.5" y2="356.83054" stroke="#000" stroke-width="1.2" />
<rect x="89.1" y="351.3" width="11" height="8.9" fill="#000"/>
<line x1="94.6" y1="349.11625" x2="94.6" y2="351.33299999999997" stroke="#000" stroke-width="1" />
<line x1="91.3" y1="349.11625" x2="97.89999999999999" y2="349.11625" stroke="#000" stroke-width="1.2" />
<rect x="109.5" y="358.4" width="11" height="1.8" fill="#000"/>
<line x1="115.0" y1="356.65319999999997" x2="115.0" y2="358.4266" stroke="#000" stroke-width="1" />
<line x1="111.7" y1="356.65319999999997" x2="118.3" y2="356.65319999999997" stroke="#000" stroke-width="1.2" />
<rect x="129.9" y="259.1" width="11" height="101.1" fill="#000"/>
<line x1="135.4" y1="249.36249999999998" x2="135.4" y2="259.1162" stroke="#000" stroke-width="1" />
<line x1="132.1" y1="249.36249999999998" x2="138.70000000000002" y2="249.36249999999998" stroke="#000" stroke-width="1.2" />
<rect x="150.3" y="315.0" width="11" height="45.2" fill="#000"/>
<line x1="155.8" y1="306.11129999999997" x2="155.8" y2="314.9783" stroke="#000" stroke-width="1" />
<line x1="152.5" y1="306.11129999999997" x2="159.10000000000002" y2="306.11129999999997" stroke="#000" stroke-width="1.2" />
<rect x="170.7" y="266.2" width="11" height="94.0" fill="#000"/>
<line x1="176.2" y1="255.56939999999997" x2="176.2" y2="266.2098" stroke="#000" stroke-width="1" />
<line x1="172.89999999999998" y1="255.56939999999997" x2="179.5" y2="255.56939999999997" stroke="#000" stroke-width="1.2" />
<line x1="210.6" y1="228" x2="210.6" y2="359.3" stroke="#000" stroke-width="2" />
<line x1="209.6" y1="358.3" x2="333.4" y2="358.3" stroke="#000" stroke-width="2" />
<line x1="207.1" y1="358.3" x2="210.6" y2="358.3" stroke="#000" stroke-width="1.8" />
<text x="202.5" y="362.1" font-size="10.5" font-weight="bold" text-anchor="end" fill="#000" >0</text>
<line x1="207.1" y1="332.3" x2="210.6" y2="332.3" stroke="#000" stroke-width="1.8" />
<text x="202.5" y="336.1" font-size="10.5" font-weight="bold" text-anchor="end" fill="#000" >10</text>
<line x1="207.1" y1="306.3" x2="210.6" y2="306.3" stroke="#000" stroke-width="1.8" />
<text x="202.5" y="310.1" font-size="10.5" font-weight="bold" text-anchor="end" fill="#000" >20</text>
<line x1="207.1" y1="280.3" x2="210.6" y2="280.3" stroke="#000" stroke-width="1.8" />
<text x="202.5" y="284.1" font-size="10.5" font-weight="bold" text-anchor="end" fill="#000" >30</text>
<line x1="207.1" y1="254.3" x2="210.6" y2="254.3" stroke="#000" stroke-width="1.8" />
<text x="202.5" y="258.1" font-size="10.5" font-weight="bold" text-anchor="end" fill="#000" >40</text>
<line x1="207.1" y1="228.3" x2="210.6" y2="228.3" stroke="#000" stroke-width="1.8" />
<text x="202.5" y="232.10000000000002" font-size="10.5" font-weight="bold" text-anchor="end" fill="#000" >50</text>
<line x1="211.0" y1="358.3" x2="211.0" y2="362.3" stroke="#000" stroke-width="1.8" />
<line x1="231.4" y1="358.3" x2="231.4" y2="362.3" stroke="#000" stroke-width="1.8" />
<line x1="251.8" y1="358.3" x2="251.8" y2="362.3" stroke="#000" stroke-width="1.8" />
<line x1="272.2" y1="358.3" x2="272.2" y2="362.3" stroke="#000" stroke-width="1.8" />
<line x1="292.6" y1="358.3" x2="292.6" y2="362.3" stroke="#000" stroke-width="1.8" />
<line x1="313.0" y1="358.3" x2="313.0" y2="362.3" stroke="#000" stroke-width="1.8" />
<line x1="333.4" y1="358.3" x2="333.4" y2="362.3" stroke="#000" stroke-width="1.8" />
<rect x="215.7" y="358.3" width="11" height="0.0" fill="#000"/>
<rect x="236.1" y="357.8" width="11" height="0.5" fill="#000"/>
<line x1="241.6" y1="357.52000000000004" x2="241.6" y2="357.78000000000003" stroke="#000" stroke-width="1" />
<line x1="238.29999999999998" y1="357.52000000000004" x2="244.9" y2="357.52000000000004" stroke="#000" stroke-width="1.2" />
<rect x="256.5" y="357.5" width="11" height="0.8" fill="#000"/>
<line x1="262.0" y1="357.26" x2="262.0" y2="357.52000000000004" stroke="#000" stroke-width="1" />
<line x1="258.7" y1="357.26" x2="265.3" y2="357.26" stroke="#000" stroke-width="1.2" />
<rect x="276.9" y="269.9" width="11" height="88.4" fill="#000"/>
<line x1="282.4" y1="268.34000000000003" x2="282.4" y2="269.9" stroke="#000" stroke-width="1" />
<line x1="279.09999999999997" y1="268.34000000000003" x2="285.7" y2="268.34000000000003" stroke="#000" stroke-width="1.2" />
<rect x="297.29999999999995" y="319.3" width="11" height="39.0" fill="#000"/>
<line x1="302.79999999999995" y1="315.14" x2="302.79999999999995" y2="319.3" stroke="#000" stroke-width="1" />
<line x1="299.49999999999994" y1="315.14" x2="306.09999999999997" y2="315.14" stroke="#000" stroke-width="1.2" />
<rect x="317.7" y="257.4" width="11" height="100.9" fill="#000"/>
<line x1="323.2" y1="250.92000000000002" x2="323.2" y2="257.42" stroke="#000" stroke-width="1" />
<line x1="319.9" y1="250.92000000000002" x2="326.5" y2="250.92000000000002" stroke="#000" stroke-width="1.2" />
<text transform="translate(37.9,236.6) rotate(-90)" font-size="10.6" font-weight="bold" text-anchor="middle">x1000</text>
<text transform="translate(37.8,292.8) rotate(-90)" font-size="10.5" font-weight="bold" text-anchor="middle">RLU</text>
<polyline points="135.2,244.7 135.2,238.4 157.5,238.4 157.5,313.0" fill="none" stroke="#000" stroke-width="1" stroke-linejoin="round" stroke-linecap="round" stroke-linecap="butt"/>
<text x="150" y="238.6" font-size="12.5" font-weight="normal" text-anchor="middle" fill="#000" >**</text>
<polyline points="284.3,261.8 284.3,244.8 324.0,244.8 324.0,250.6" fill="none" stroke="#000" stroke-width="1" stroke-linejoin="round" stroke-linecap="round" stroke-linecap="butt"/>
<polyline points="284.3,255.3 304.4,255.3 304.4,315.4" fill="none" stroke="#000" stroke-width="1" stroke-linejoin="round" stroke-linecap="round" stroke-linecap="butt"/>
<text x="299" y="242.8" font-size="12.5" font-weight="normal" text-anchor="middle" fill="#000" >**</text>
<text x="292.2" y="254.4" font-size="12.5" font-weight="normal" text-anchor="middle" fill="#000" >**</text>
<text x="66.7" y="373.2" font-size="11" font-weight="bold" text-anchor="end" fill="#000" >Chitin</text>
<text x="71.2" y="387.6" font-size="11" font-weight="bold" text-anchor="end" fill="#000" textLength="45.9" lengthAdjust="spacingAndGlyphs" >MoChia1</text>
<text x="68.3" y="401.1" font-size="11" font-weight="bold" text-anchor="end" fill="#000" textLength="41" lengthAdjust="spacingAndGlyphs" >OsTPR1</text>
<line x1="70.69999999999999" y1="369.8" x2="79.5" y2="369.8" stroke="#5E5E5E" stroke-width="1.8" />
<line x1="91.1" y1="369.8" x2="99.9" y2="369.8" stroke="#5E5E5E" stroke-width="1.8" />
<line x1="111.49999999999999" y1="369.8" x2="120.3" y2="369.8" stroke="#5E5E5E" stroke-width="1.8" />
<line x1="132.2" y1="369.5" x2="140.39999999999998" y2="369.5" stroke="#000" stroke-width="1.9" />
<line x1="136.29999999999998" y1="365.4" x2="136.29999999999998" y2="373.6" stroke="#000" stroke-width="1.9" />
<line x1="152.6" y1="369.5" x2="160.79999999999998" y2="369.5" stroke="#000" stroke-width="1.9" />
<line x1="156.7" y1="365.4" x2="156.7" y2="373.6" stroke="#000" stroke-width="1.9" />
<line x1="173.0" y1="369.5" x2="181.2" y2="369.5" stroke="#000" stroke-width="1.9" />
<line x1="177.1" y1="365.4" x2="177.1" y2="373.6" stroke="#000" stroke-width="1.9" />
<line x1="70.69999999999999" y1="384.6" x2="79.5" y2="384.6" stroke="#5E5E5E" stroke-width="1.8" />
<line x1="91.4" y1="384.3" x2="99.6" y2="384.3" stroke="#000" stroke-width="1.9" />
<line x1="95.5" y1="380.2" x2="95.5" y2="388.40000000000003" stroke="#000" stroke-width="1.9" />
<line x1="111.49999999999999" y1="384.6" x2="120.3" y2="384.6" stroke="#5E5E5E" stroke-width="1.8" />
<line x1="131.89999999999998" y1="384.6" x2="140.7" y2="384.6" stroke="#5E5E5E" stroke-width="1.8" />
<line x1="152.6" y1="384.3" x2="160.79999999999998" y2="384.3" stroke="#000" stroke-width="1.9" />
<line x1="156.7" y1="380.2" x2="156.7" y2="388.40000000000003" stroke="#000" stroke-width="1.9" />
<line x1="173.0" y1="384.3" x2="181.2" y2="384.3" stroke="#000" stroke-width="1.9" />
<line x1="177.1" y1="380.2" x2="177.1" y2="388.40000000000003" stroke="#000" stroke-width="1.9" />
<line x1="70.69999999999999" y1="398.3" x2="79.5" y2="398.3" stroke="#5E5E5E" stroke-width="1.8" />
<line x1="91.1" y1="398.3" x2="99.9" y2="398.3" stroke="#5E5E5E" stroke-width="1.8" />
<line x1="111.8" y1="398" x2="119.99999999999999" y2="398" stroke="#000" stroke-width="1.9" />
<line x1="115.89999999999999" y1="393.9" x2="115.89999999999999" y2="402.1" stroke="#000" stroke-width="1.9" />
<line x1="131.89999999999998" y1="398.3" x2="140.7" y2="398.3" stroke="#5E5E5E" stroke-width="1.8" />
<line x1="152.29999999999998" y1="398.3" x2="161.1" y2="398.3" stroke="#5E5E5E" stroke-width="1.8" />
<line x1="173.0" y1="398" x2="181.2" y2="398" stroke="#000" stroke-width="1.9" />
<line x1="177.1" y1="393.9" x2="177.1" y2="402.1" stroke="#000" stroke-width="1.9" />
<line x1="217.7" y1="369.8" x2="226.5" y2="369.8" stroke="#5E5E5E" stroke-width="1.8" />
<line x1="238.1" y1="369.8" x2="246.9" y2="369.8" stroke="#5E5E5E" stroke-width="1.8" />
<line x1="258.5" y1="369.8" x2="267.29999999999995" y2="369.8" stroke="#5E5E5E" stroke-width="1.8" />
<line x1="279.2" y1="369.5" x2="287.40000000000003" y2="369.5" stroke="#000" stroke-width="1.9" />
<line x1="283.3" y1="365.4" x2="283.3" y2="373.6" stroke="#000" stroke-width="1.9" />
<line x1="299.59999999999997" y1="369.5" x2="307.8" y2="369.5" stroke="#000" stroke-width="1.9" />
<line x1="303.7" y1="365.4" x2="303.7" y2="373.6" stroke="#000" stroke-width="1.9" />
<line x1="320.0" y1="369.5" x2="328.20000000000005" y2="369.5" stroke="#000" stroke-width="1.9" />
<line x1="324.1" y1="365.4" x2="324.1" y2="373.6" stroke="#000" stroke-width="1.9" />
<line x1="217.7" y1="384.6" x2="226.5" y2="384.6" stroke="#5E5E5E" stroke-width="1.8" />
<line x1="238.4" y1="384.3" x2="246.6" y2="384.3" stroke="#000" stroke-width="1.9" />
<line x1="242.5" y1="380.2" x2="242.5" y2="388.40000000000003" stroke="#000" stroke-width="1.9" />
<line x1="258.5" y1="384.6" x2="267.29999999999995" y2="384.6" stroke="#5E5E5E" stroke-width="1.8" />
<line x1="278.90000000000003" y1="384.6" x2="287.7" y2="384.6" stroke="#5E5E5E" stroke-width="1.8" />
<line x1="299.59999999999997" y1="384.3" x2="307.8" y2="384.3" stroke="#000" stroke-width="1.9" />
<line x1="303.7" y1="380.2" x2="303.7" y2="388.40000000000003" stroke="#000" stroke-width="1.9" />
<line x1="320.0" y1="384.3" x2="328.20000000000005" y2="384.3" stroke="#000" stroke-width="1.9" />
<line x1="324.1" y1="380.2" x2="324.1" y2="388.40000000000003" stroke="#000" stroke-width="1.9" />
<line x1="217.7" y1="398.3" x2="226.5" y2="398.3" stroke="#5E5E5E" stroke-width="1.8" />
<line x1="238.1" y1="398.3" x2="246.9" y2="398.3" stroke="#5E5E5E" stroke-width="1.8" />
<line x1="258.79999999999995" y1="398" x2="267.0" y2="398" stroke="#000" stroke-width="1.9" />
<line x1="262.9" y1="393.9" x2="262.9" y2="402.1" stroke="#000" stroke-width="1.9" />
<line x1="278.90000000000003" y1="398.3" x2="287.7" y2="398.3" stroke="#5E5E5E" stroke-width="1.8" />
<line x1="299.3" y1="398.3" x2="308.09999999999997" y2="398.3" stroke="#5E5E5E" stroke-width="1.8" />
<line x1="320.0" y1="398" x2="328.20000000000005" y2="398" stroke="#000" stroke-width="1.9" />
<line x1="324.1" y1="393.9" x2="324.1" y2="402.1" stroke="#000" stroke-width="1.9" />
<text x="322.5" y="216" font-size="14.3" font-weight="bold" text-anchor="start" fill="#000" >E</text>
<clipPath id="ce"><rect x="345" y="211" width="289" height="194"/></clipPath><g clip-path="url(#ce)">
<rect x="345" y="211" width="289" height="194" fill="#E6E6E6"/>
<path d="M345,259 C385,259 420,266 433,280 C444,292 442,312 428,324 C412,336 380,340 345,342 Z" fill="#A6A6A6"/>
<text x="370.2" y="308" font-size="10.5" font-weight="bold" text-anchor="start" fill="#000" textLength="51.7" lengthAdjust="spacingAndGlyphs" font-style="italic" >M. oryzae</text>
<text x="376.4" y="220.8" font-size="11" font-weight="bold" text-anchor="start" fill="#000" textLength="48.7" lengthAdjust="spacingAndGlyphs" >Apoplast</text>
<path d="M523.5,206.3 L522.6,206.5 L521.3,206.6 L519.6,206.9 L517.9,207.1 L516.1,207.5 L514.5,208.0 L513.1,208.5 L511.8,209.1 L510.7,209.8 L509.6,210.6 L508.6,211.4 L507.7,212.3 L506.9,213.2 L506.1,214.2 L505.4,215.3 L504.8,216.5 L504.3,217.8 L503.9,219.2 L503.5,220.8 L503.2,222.5 L503.0,224.4 L502.8,226.2 L502.7,228.1 L502.6,229.8 L502.5,231.5 L502.5,233.2 L502.5,235.0 L502.5,236.7 L502.6,238.6 L502.8,240.4 L503.1,242.3 L503.5,244.1 L504.0,245.9 L504.4,247.7 L504.9,249.6 L505.5,251.8 L506.1,254.3 L506.8,257.2 L507.6,260.2 L508.4,263.3 L509.1,266.1 L509.7,268.8 L510.3,271.1 L510.8,273.2 L511.3,275.1 L511.7,276.8 L512.0,278.5 L512.2,280.3 L512.3,282.1 L512.4,284.0 L512.4,285.8 L512.2,287.7 L512.1,289.6 L511.8,291.6 L511.5,293.6 L511.1,295.6 L510.7,297.7 L510.1,299.8 L509.6,302.0 L508.9,304.1 L508.3,306.1 L507.6,308.2 L506.8,310.3 L506.0,312.4 L505.1,314.4 L504.2,316.4 L503.3,318.4 L502.2,320.3 L501.1,322.2 L500.0,324.2 L498.8,326.1 L497.7,328.1 L496.6,330.1 L495.5,332.0 L494.4,334.0 L493.3,336.0 L492.2,338.1 L491.1,340.2 L490.1,342.4 L489.1,344.7 L488.1,347.1 L487.1,349.3 L486.2,351.6 L485.3,353.7 L484.4,355.7 L483.4,357.8 L482.5,359.7 L481.5,361.8 L480.7,363.8 L479.8,365.8 L479.0,367.9 L478.3,369.9 L477.6,371.9 L476.9,374.0 L476.4,376.0 L475.9,378.1 L475.5,380.2 L475.1,382.3 L474.9,384.4 L474.7,386.5 L474.6,388.5 L474.6,390.7 L474.7,392.9 L474.9,395.2 L475.1,397.5 L475.5,399.7 L475.8,401.7 L476.2,403.4 L476.9,405.0 L477.8,406.4 L478.8,407.3 L479.7,407.8 L480.0,408.0 L480.1,408.1" fill="none" stroke="#B5E2A2" stroke-width="1.4"/>
<path d="M524.0,209.5 L523.0,209.6 L521.7,209.8 L520.1,210.0 L518.4,210.3 L516.8,210.6 L515.5,211.0 L514.4,211.4 L513.4,211.9 L512.4,212.5 L511.5,213.1 L510.7,213.8 L510.0,214.5 L509.3,215.2 L508.7,216.0 L508.2,216.8 L507.8,217.8 L507.4,218.8 L507.0,220.0 L506.7,221.4 L506.4,223.0 L506.2,224.7 L506.0,226.5 L505.9,228.3 L505.8,230.0 L505.7,231.7 L505.7,233.3 L505.7,234.9 L505.7,236.6 L505.8,238.3 L506.0,240.0 L506.3,241.7 L506.6,243.4 L507.1,245.1 L507.5,246.9 L508.0,248.8 L508.6,251.0 L509.2,253.5 L509.9,256.4 L510.7,259.4 L511.5,262.5 L512.2,265.4 L512.8,268.0 L513.4,270.3 L513.9,272.4 L514.4,274.3 L514.8,276.2 L515.2,278.1 L515.4,280.0 L515.5,282.0 L515.6,284.0 L515.6,285.9 L515.4,287.9 L515.3,289.9 L515.0,292.0 L514.7,294.1 L514.3,296.3 L513.8,298.4 L513.2,300.6 L512.6,302.8 L512.0,305.0 L511.3,307.2 L510.6,309.3 L509.8,311.5 L508.9,313.6 L508.0,315.7 L507.1,317.8 L506.1,319.8 L505.0,321.8 L503.9,323.8 L502.8,325.8 L501.6,327.7 L500.5,329.7 L499.4,331.7 L498.3,333.6 L497.2,335.6 L496.1,337.5 L495.0,339.5 L494.0,341.6 L493.0,343.8 L492.0,346.0 L491.0,348.3 L490.1,350.6 L489.1,352.8 L488.2,355.0 L487.3,357.1 L486.3,359.1 L485.4,361.1 L484.5,363.1 L483.6,365.0 L482.8,367.0 L482.0,369.0 L481.3,370.9 L480.6,372.9 L480.0,374.9 L479.5,376.8 L479.0,378.8 L478.6,380.8 L478.3,382.7 L478.1,384.7 L477.9,386.7 L477.8,388.6 L477.8,390.6 L477.9,392.7 L478.1,394.9 L478.3,397.1 L478.6,399.2 L478.9,401.0 L479.3,402.5 L479.7,403.5 L480.2,404.3 L480.7,404.7 L481.3,405.1 L481.7,405.3 L482.0,405.5 L634,405.5 L634,210 Z" fill="#70AD47"/>
<path d="M524.0,209.5 L523.0,209.6 L521.7,209.8 L520.1,210.0 L518.4,210.3 L516.8,210.6 L515.5,211.0 L514.4,211.4 L513.4,211.9 L512.4,212.5 L511.5,213.1 L510.7,213.8 L510.0,214.5 L509.3,215.2 L508.7,216.0 L508.2,216.8 L507.8,217.8 L507.4,218.8 L507.0,220.0 L506.7,221.4 L506.4,223.0 L506.2,224.7 L506.0,226.5 L505.9,228.3 L505.8,230.0 L505.7,231.7 L505.7,233.3 L505.7,234.9 L505.7,236.6 L505.8,238.3 L506.0,240.0 L506.3,241.7 L506.6,243.4 L507.1,245.1 L507.5,246.9 L508.0,248.8 L508.6,251.0 L509.2,253.5 L509.9,256.4 L510.7,259.4 L511.5,262.5 L512.2,265.4 L512.8,268.0 L513.4,270.3 L513.9,272.4 L514.4,274.3 L514.8,276.2 L515.2,278.1 L515.4,280.0 L515.5,282.0 L515.6,284.0 L515.6,285.9 L515.4,287.9 L515.3,289.9 L515.0,292.0 L514.7,294.1 L514.3,296.3 L513.8,298.4 L513.2,300.6 L512.6,302.8 L512.0,305.0 L511.3,307.2 L510.6,309.3 L509.8,311.5 L508.9,313.6 L508.0,315.7 L507.1,317.8 L506.1,319.8 L505.0,321.8 L503.9,323.8 L502.8,325.8 L501.6,327.7 L500.5,329.7 L499.4,331.7 L498.3,333.6 L497.2,335.6 L496.1,337.5 L495.0,339.5 L494.0,341.6 L493.0,343.8 L492.0,346.0 L491.0,348.3 L490.1,350.6 L489.1,352.8 L488.2,355.0 L487.3,357.1 L486.3,359.1 L485.4,361.1 L484.5,363.1 L483.6,365.0 L482.8,367.0 L482.0,369.0 L481.3,370.9 L480.6,372.9 L480.0,374.9 L479.5,376.8 L479.0,378.8 L478.6,380.8 L478.3,382.7 L478.1,384.7 L477.9,386.7 L477.8,388.6 L477.8,390.6 L477.9,392.7 L478.1,394.9 L478.3,397.1 L478.6,399.2 L478.9,401.0 L479.3,402.5 L479.7,403.5 L480.2,404.3 L480.7,404.7 L481.3,405.1 L481.7,405.3 L482.0,405.5" fill="none" stroke="#5CBF4A" stroke-width="1.6"/>
<text x="550.8" y="224.8" font-size="10.7" font-weight="bold" text-anchor="start" fill="#000" textLength="46.7" lengthAdjust="spacingAndGlyphs" >Plant cell</text>
<polygon points="381.7,242.8 384.4,240.1 384.1,242.6 387.1,242.2 385.9,243.6 389.0,243.9 386.6,245.0 389.4,246.4 386.0,246.2 386.9,248.6 384.0,246.9 383.4,249.4 381.5,247.2 380.0,250.3 379.5,247.5 377.4,248.4 378.0,246.7 374.1,247.0 376.7,245.7 374.0,244.2 377.3,243.7 374.3,241.2 379.2,243.1 380.0,241.2" fill="#F4B183" stroke="#41719C" stroke-width="0.7" stroke-linejoin="miter"/>
<polygon points="407.1,242.3 409.8,239.6 409.5,242.1 412.5,241.7 411.3,243.1 414.4,243.4 412.0,244.5 414.8,245.9 411.4,245.7 412.3,248.1 409.4,246.4 408.8,248.9 406.9,246.7 405.4,249.8 404.9,247.0 402.8,247.9 403.4,246.2 399.5,246.5 402.1,245.2 399.4,243.7 402.7,243.2 399.7,240.7 404.6,242.6 405.4,240.7" fill="#F4B183" stroke="#41719C" stroke-width="0.7" stroke-linejoin="miter"/>
<polygon points="454.9,253.5 457.6,250.8 457.3,253.3 460.3,252.9 459.1,254.3 462.2,254.6 459.8,255.7 462.6,257.1 459.2,256.9 460.1,259.3 457.2,257.6 456.6,260.1 454.7,257.9 453.2,261.0 452.7,258.2 450.6,259.1 451.2,257.4 447.3,257.7 449.9,256.4 447.2,254.9 450.5,254.4 447.5,251.9 452.4,253.8 453.2,251.9" fill="#F4B183" stroke="#41719C" stroke-width="0.7" stroke-linejoin="miter"/>
<polygon points="474.1,302.2 476.8,299.5 476.5,302.0 479.5,301.6 478.3,303.0 481.4,303.3 479.0,304.4 481.8,305.8 478.4,305.6 479.3,308.0 476.4,306.3 475.8,308.8 473.9,306.6 472.4,309.7 471.9,306.9 469.8,307.8 470.4,306.1 466.5,306.4 469.1,305.1 466.4,303.6 469.7,303.1 466.7,300.6 471.6,302.5 472.4,300.6" fill="#F4B183" stroke="#41719C" stroke-width="0.7" stroke-linejoin="miter"/>
<polygon points="420.9,338.6 423.6,335.9 423.3,338.4 426.3,338.0 425.1,339.4 428.2,339.7 425.8,340.8 428.6,342.2 425.2,342.0 426.1,344.4 423.2,342.7 422.6,345.2 420.7,343.0 419.2,346.1 418.7,343.3 416.6,344.2 417.2,342.5 413.3,342.8 415.9,341.5 413.2,340.0 416.5,339.5 413.5,337.0 418.4,338.9 419.2,337.0" fill="#F4B183" stroke="#41719C" stroke-width="0.7" stroke-linejoin="miter"/>
<polygon points="390.8,347.0 393.5,344.3 393.2,346.8 396.2,346.4 395.0,347.8 398.1,348.1 395.7,349.2 398.5,350.6 395.1,350.4 396.0,352.8 393.1,351.1 392.5,353.6 390.6,351.4 389.1,354.5 388.6,351.7 386.5,352.6 387.1,350.9 383.2,351.2 385.8,349.9 383.1,348.4 386.4,347.9 383.4,345.4 388.3,347.3 389.1,345.4" fill="#F4B183" stroke="#41719C" stroke-width="0.7" stroke-linejoin="miter"/>
<polygon points="460.8,346.2 463.5,343.5 463.2,346.0 466.2,345.6 465.0,347.0 468.1,347.3 465.7,348.4 468.5,349.8 465.1,349.6 466.0,352.0 463.1,350.3 462.5,352.8 460.6,350.6 459.1,353.7 458.6,350.9 456.5,351.8 457.1,350.1 453.2,350.4 455.8,349.1 453.1,347.6 456.4,347.1 453.4,344.6 458.3,346.5 459.1,344.6" fill="#F4B183" stroke="#41719C" stroke-width="0.7" stroke-linejoin="miter"/>
<path d="M430.7,237.1 L437.0,236.6 A6.3,6.3 0 1 1 433.1,231.3 Z" fill="#C55A11" stroke="#41719C" stroke-width="0.6"/>
<path d="M477.7,256.3 L484.0,255.8 A6.3,6.3 0 1 1 480.1,250.5 Z" fill="#C55A11" stroke="#41719C" stroke-width="0.6"/>
<path d="M410.5,360.4 L416.8,359.9 A6.3,6.3 0 1 1 412.9,354.6 Z" fill="#C55A11" stroke="#41719C" stroke-width="0.6"/>
<path d="M456.3,229.9 L460.8,234.3 A6.3,6.3 0 1 1 461.1,225.8 Z" fill="#C55A11" stroke="#41719C" stroke-width="0.6"/>
<polygon points="465.6,227.8 468.3,225.1 468.0,227.6 471.0,227.2 469.8,228.6 472.9,228.9 470.5,230.0 473.3,231.4 469.9,231.2 470.8,233.6 467.9,231.9 467.3,234.4 465.4,232.2 463.9,235.3 463.4,232.5 461.3,233.4 461.9,231.7 458.0,232.0 460.6,230.7 457.9,229.2 461.2,228.7 458.2,226.2 463.1,228.1 463.9,226.2" fill="#F4B183" stroke="#41719C" stroke-width="0.7" stroke-linejoin="miter"/>
<path d="M434.2,265.6 L435.0,259.3 A6.3,6.3 0 1 1 428.1,264.2 Z" fill="#C55A11" stroke="#41719C" stroke-width="0.6"/>
<polygon points="430.7,258.2 433.4,255.5 433.1,258.0 436.1,257.6 434.9,259.0 438.0,259.3 435.6,260.4 438.4,261.8 435.0,261.6 435.9,264.0 433.0,262.3 432.4,264.8 430.5,262.6 429.0,265.7 428.5,262.9 426.4,263.8 427.0,262.1 423.1,262.4 425.7,261.1 423.0,259.6 426.3,259.1 423.3,256.6 428.2,258.5 429.0,256.6" fill="#F4B183" stroke="#41719C" stroke-width="0.7" stroke-linejoin="miter"/>
<path d="M466.6,282.5 L467.9,276.3 A6.3,6.3 0 1 1 460.6,280.5 Z" fill="#C55A11" stroke="#41719C" stroke-width="0.6"/>
<polygon points="463.3,274.3 466.0,271.6 465.7,274.1 468.7,273.7 467.5,275.1 470.6,275.4 468.2,276.5 471.0,277.9 467.6,277.7 468.5,280.1 465.6,278.4 465.0,280.9 463.1,278.7 461.6,281.8 461.1,279.0 459.0,279.9 459.6,278.2 455.7,278.5 458.3,277.2 455.6,275.7 458.9,275.2 455.9,272.7 460.8,274.6 461.6,272.7" fill="#F4B183" stroke="#41719C" stroke-width="0.7" stroke-linejoin="miter"/>
<path d="M447.5,316.6 L447.8,322.9 A6.3,6.3 0 1 1 453.8,316.9 Z" fill="#C55A11" stroke="#41719C" stroke-width="0.6"/>
<polygon points="452.5,319.2 455.2,316.5 454.9,319.0 457.9,318.6 456.7,320.0 459.8,320.3 457.4,321.4 460.2,322.8 456.8,322.6 457.7,325.0 454.8,323.3 454.2,325.8 452.3,323.6 450.8,326.7 450.3,323.9 448.2,324.8 448.8,323.1 444.9,323.4 447.5,322.1 444.8,320.6 448.1,320.1 445.1,317.6 450.0,319.5 450.8,317.6" fill="#F4B183" stroke="#41719C" stroke-width="0.7" stroke-linejoin="miter"/>
<path d="M429.5,368 L433.0,373.2 A6.3,6.3 0 1 1 435.1,365.0 Z" fill="#C55A11" stroke="#41719C" stroke-width="0.6"/>
<polygon points="437.1,367.5 439.8,364.8 439.5,367.3 442.5,366.9 441.3,368.3 444.4,368.6 442.0,369.7 444.8,371.1 441.4,370.9 442.3,373.3 439.4,371.6 438.8,374.1 436.9,371.9 435.4,375.0 434.9,372.2 432.8,373.1 433.4,371.4 429.5,371.7 432.1,370.4 429.4,368.9 432.7,368.4 429.7,365.9 434.6,367.8 435.4,365.9" fill="#F4B183" stroke="#41719C" stroke-width="0.7" stroke-linejoin="miter"/>
<path d="M495.5,235.6 L500.9,238.9 A6.3,6.3 0 1 1 499.3,230.6 Z" fill="#C55A11" stroke="#41719C" stroke-width="0.6"/>
<polygon points="501.2,230.6 505.8,233.5 504.0,238.2 498.4,238.2 496.6,233.5" fill="#00A94F" stroke="#41719C" stroke-width="0.5"/>
<path d="M488.3,325.7 L491.0,331.4 A6.3,6.3 0 1 1 494.2,323.6 Z" fill="#C55A11" stroke="#41719C" stroke-width="0.6"/>
<polygon points="493.6,324.0 498.2,326.9 496.4,331.6 490.8,331.6 489.0,326.9" fill="#00A94F" stroke="#41719C" stroke-width="0.5"/>
<path d="M465.6,384.2 L469.7,389.0 A6.3,6.3 0 1 1 470.8,380.7 Z" fill="#C55A11" stroke="#41719C" stroke-width="0.6"/>
<polygon points="472.2,381.2 476.8,384.1 475.0,388.8 469.4,388.8 467.6,384.1" fill="#00A94F" stroke="#41719C" stroke-width="0.5"/>
<polygon points="509.5,278.9 514.1,281.8 512.3,286.5 506.7,286.5 504.9,281.8" fill="#00A94F" stroke="#41719C" stroke-width="0.5"/>
<ellipse cx="488.7" cy="257.5" rx="2.8" ry="10.5" transform="rotate(20 488.7 257.5)" fill="#548235" stroke="#41719C" stroke-width="0.6"/>
<ellipse cx="492.8" cy="258.7" rx="2.8" ry="10.5" transform="rotate(20 492.8 258.7)" fill="#548235" stroke="#41719C" stroke-width="0.6"/>
<ellipse cx="497" cy="259.9" rx="2.8" ry="10.5" transform="rotate(20 497 259.9)" fill="#548235" stroke="#41719C" stroke-width="0.6"/>
<ellipse cx="500.6" cy="261.6" rx="2.8" ry="10.5" transform="rotate(20 500.6 261.6)" fill="#548235" stroke="#41719C" stroke-width="0.6"/>
<ellipse cx="504.1" cy="262.8" rx="2.8" ry="10.5" transform="rotate(20 504.1 262.8)" fill="#548235" stroke="#41719C" stroke-width="0.6"/>
<path d="M507,262 L523,268.5 L521,273 L505.5,266.5 Z" fill="#548235" stroke="#41719C" stroke-width="0.5"/>
<ellipse cx="531.5" cy="273.5" rx="12" ry="6" transform="rotate(22 531.5 273.5)" fill="#548235" stroke="#41719C" stroke-width="0.7"/>
<text x="531" y="276.5" font-size="7" font-weight="bold" text-anchor="middle" fill="#222" >?</text>
<line x1="541" y1="281" x2="552" y2="292.5" stroke="#000" stroke-width="0.7" />
<polygon points="552,292.5 551.0,288.6 548.2,291.3" fill="#000"/>
<line x1="537.5" y1="315.6" x2="520.9" y2="309.5" stroke="#000" stroke-width="0.7" />
<polygon points="520.9,309.5 523.5,312.5 524.8,308.9" fill="#000"/>
<line x1="499.9" y1="304.9" x2="489.9" y2="298.6" stroke="#000" stroke-width="0.7" />
<polygon points="489.9,298.6 491.8,302.1 493.9,298.8" fill="#000"/>
<line x1="520" y1="352" x2="542.3" y2="337.8" stroke="#44546A" stroke-width="0.7" />
<polygon points="542.3,337.8 538.3,338.1 540.4,341.3" fill="#44546A"/>
<ellipse cx="482.8" cy="289.9" rx="10.6" ry="9.2" fill="#EDEFEF" stroke="#FF3030" stroke-width="0.9"/>
<text x="475.2" y="293.7" font-size="7" font-weight="bold" text-anchor="start" fill="#FF1A1A" textLength="15.2" lengthAdjust="spacingAndGlyphs" >ROS</text>
<polyline points="521.4,301.7 509.1,301.1 517.4,305.4 506.8,306.3 516,311.7 504.8,311.7 515.7,319.7" fill="none" stroke="#C55A11" stroke-width="1.7" stroke-linejoin="round" stroke-linecap="round"/>
<text transform="translate(505,306) rotate(-63)" font-size="7.2" font-weight="bold" text-anchor="middle">RBOH</text>
<ellipse cx="580.9" cy="323.8" rx="42.7" ry="24.7" fill="#548235" stroke="#3A5A25" stroke-width="0.7" stroke-dasharray="2,1.5"/>
<line x1="552.2" y1="329.2" x2="604.9" y2="329.2" stroke="#000" stroke-width="1.1" />
<polyline points="558.0,329.2 558.0,315.5 584.0,315.5" fill="none" stroke="#000" stroke-width="1.1" stroke-linejoin="round" stroke-linecap="round" stroke-linecap="butt"/>
<polygon points="587,315.5 582,313 582,318" fill="#000"/>
<text x="565.9" y="322.6" font-size="6.4" font-weight="bold" text-anchor="start" fill="#000" textLength="53.8" lengthAdjust="spacingAndGlyphs" >Disease resistance</text>
<rect x="563.8" y="323.8" width="28.4" height="8.7" fill="#ED7D31" stroke="#41719C" stroke-width="0.5"/>
<text x="568.7" y="330.8" font-size="7" font-weight="bold" text-anchor="start" fill="#000" textLength="17.6" lengthAdjust="spacingAndGlyphs" >genes</text>
<text x="568.7" y="345.2" font-size="6.8" font-weight="bold" text-anchor="start" fill="#000" textLength="23.5" lengthAdjust="spacingAndGlyphs" >Nucleus</text>
<path d="M475,363.6 L481.5,365.2 L480.8,368.3 L474.3,366.7 Z" fill="#C9E3B6" stroke="#6A9FC0" stroke-width="0.5"/>
<ellipse cx="464.6" cy="358.4" rx="3.4" ry="6.9" transform="rotate(20 464.6 358.4)" fill="#C9E3B6" stroke="#6A9FC0" stroke-width="0.6"/>
<ellipse cx="468.7" cy="360.7" rx="3.4" ry="6.9" transform="rotate(20 468.7 360.7)" fill="#C9E3B6" stroke="#6A9FC0" stroke-width="0.6"/>
<ellipse cx="472.4" cy="362.2" rx="3.4" ry="6.9" transform="rotate(20 472.4 362.2)" fill="#C9E3B6" stroke="#6A9FC0" stroke-width="0.6"/>
<path d="M481,346.5 L496,353 L494.5,357 L480,351 Z" fill="#92D050" stroke="#41719C" stroke-width="0.5"/>
<ellipse cx="472" cy="344.6" rx="3.6" ry="7" transform="rotate(20 472 344.6)" fill="#92D050" stroke="#41719C" stroke-width="0.6"/>
<ellipse cx="475.6" cy="347.2" rx="3.6" ry="7" transform="rotate(20 475.6 347.2)" fill="#92D050" stroke="#41719C" stroke-width="0.6"/>
<ellipse cx="479.4" cy="348.8" rx="3.6" ry="7" transform="rotate(20 479.4 348.8)" fill="#92D050" stroke="#41719C" stroke-width="0.6"/>
<ellipse cx="504.9" cy="357.7" rx="12.5" ry="6.5" transform="rotate(15 504.9 357.7)" fill="#92D050" stroke="#41719C" stroke-width="0.7"/>
<text transform="translate(503,350) rotate(20)" font-size="8" font-weight="bold" text-anchor="middle">OsCERK1</text>
<text transform="translate(486.8,379.8) rotate(20)" font-size="7.5" font-weight="bold" text-anchor="middle">OsCEBiP</text>
<polygon points="357.0,369.3 359.7,366.6 359.4,369.1 362.4,368.7 361.2,370.1 364.3,370.4 361.9,371.5 364.7,372.9 361.3,372.7 362.2,375.1 359.3,373.4 358.7,375.9 356.8,373.7 355.3,376.8 354.8,374.0 352.7,374.9 353.3,373.2 349.4,373.5 352.0,372.2 349.3,370.7 352.6,370.2 349.6,367.7 354.5,369.6 355.3,367.7" fill="#F4B183" stroke="#41719C" stroke-width="0.7" stroke-linejoin="miter"/>
<path d="M357,384.8 L362.9,384.3 A5.9,5.9 0 1 1 359.2,379.3 Z" fill="#C55A11" stroke="#41719C" stroke-width="0.6"/>
<polygon points="357.0,393.5 361.8,396.5 359.9,401.5 354.1,401.5 352.2,396.5" fill="#00A94F" stroke="#41719C" stroke-width="0.5"/>
<text x="367.2" y="374.2" font-size="7.5" font-weight="bold" text-anchor="start" fill="#000" textLength="21.6" lengthAdjust="spacingAndGlyphs" >Chitin</text>
<text x="367" y="387.4" font-size="7.5" font-weight="bold" text-anchor="start" fill="#000" textLength="30.2" lengthAdjust="spacingAndGlyphs" >MoChia1</text>
<text x="366.5" y="401.4" font-size="7.5" font-weight="bold" text-anchor="start" fill="#000" textLength="28.1" lengthAdjust="spacingAndGlyphs" >OsTPR1</text>
</g>
</svg></body></html>
